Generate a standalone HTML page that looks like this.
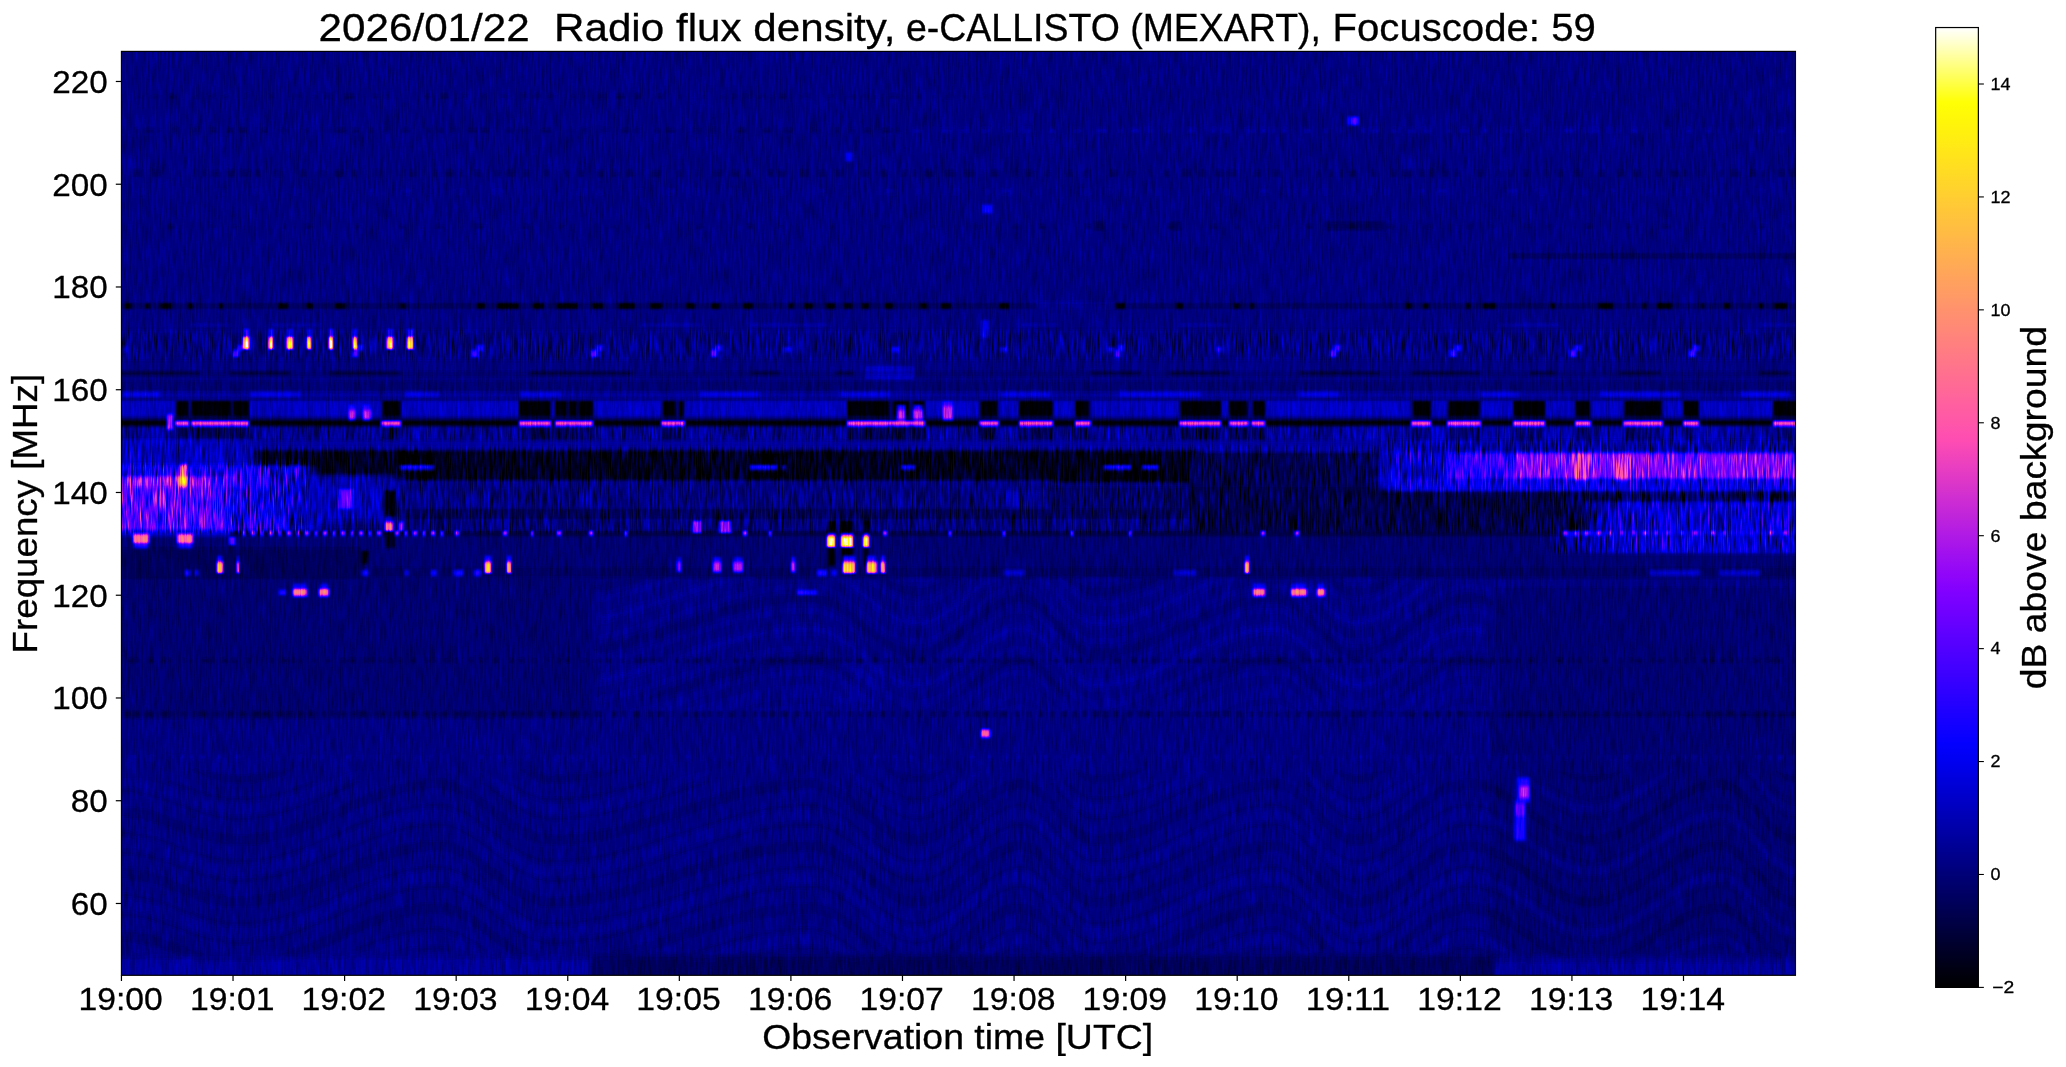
<!DOCTYPE html><html><head><meta charset="utf-8"><style>html,body{margin:0;padding:0;background:#fff;overflow:hidden}svg{display:block}text{font-family:"Liberation Sans",sans-serif;fill:#000;stroke:#000;stroke-width:0.3px;opacity:0.999}</style></head><body><svg width="2066" height="1067" viewBox="0 0 2066 1067"><rect width="2066" height="1067" fill="#fff"/><defs><clipPath id="pc"><rect x="121.4" y="51.4" width="1674.1" height="923.9"/></clipPath><filter id="sf" x="117" y="47" width="1683" height="933" filterUnits="userSpaceOnUse" color-interpolation-filters="sRGB"><feGaussianBlur in="SourceGraphic" stdDeviation="0.8 1.2" result="b"/><feTurbulence type="fractalNoise" baseFrequency="0.6 0.045" numOctaves="2" seed="4"/><feColorMatrix type="matrix" values="1 0 0 0 0 1 0 0 0 0 1 0 0 0 0 0 0 0 0 1" result="n"/><feComposite in="b" in2="n" operator="arithmetic" k1="1" k2="0" k3="0" k4="0"/><feColorMatrix type="matrix" values="0.3000 0.4200 0 0 0 0 0 0 0 0 0 0 0 0 0 0 0 0 0 1"/><feComposite in2="n" operator="arithmetic" k1="0" k2="1" k3="0.0420" k4="0" result="y"/><feColorMatrix in="b" type="matrix" values="-0.1500 -0.2100 0 0 0.9790 0 0 0 0 0 0 0 0 0 0 0 0 0 0 1" result="z"/><feComposite in="b" in2="y" operator="arithmetic" k1="0" k2="1" k3="1" k4="0"/><feComposite in2="z" operator="arithmetic" k1="0" k2="1" k3="1" k4="-1"/><feColorMatrix type="matrix" values="1.6667 0 0 0 0 1.6667 0 0 0 0 1.6667 0 0 0 0 0 0 0 0 1"/><feComponentTransfer><feFuncR type="table" tableValues="0 0 0 0 0 0 0 0 0 0 0 0 0 0 0 0 0 0 0 0 0 0 0 0 0 0 0.031 0.062 0.094 0.125 0.156 0.188 0.219 0.25 0.281 0.312 0.344 0.375 0.406 0.438 0.469 0.5 0.531 0.562 0.594 0.625 0.656 0.688 0.719 0.75 0.781 0.812 0.844 0.875 0.906 0.938 0.969 1 1 1 1 1 1 1 1 1 1 1 1 1 1 1 1 1 1 1 1 1 1 1 1 1 1 1 1 1 1 1 1 1 1 1 1 1 1 1 1 1 1 1 1"/><feFuncG type="table" tableValues="0 0 0 0 0 0 0 0 0 0 0 0 0 0 0 0 0 0 0 0 0 0 0 0 0 0 0 0 0 0 0 0 0 0 0 0 0 0 0 0 0 0 0 0.02 0.04 0.06 0.08 0.1 0.12 0.14 0.16 0.18 0.2 0.22 0.24 0.26 0.28 0.3 0.32 0.34 0.36 0.38 0.4 0.42 0.44 0.46 0.48 0.5 0.52 0.54 0.56 0.58 0.6 0.62 0.64 0.66 0.68 0.7 0.72 0.74 0.76 0.78 0.8 0.82 0.84 0.86 0.88 0.9 0.92 0.94 0.96 0.98 1 1 1 1 1 1 1 1 1"/><feFuncB type="table" tableValues="0 0.04 0.08 0.12 0.16 0.2 0.24 0.28 0.32 0.36 0.4 0.44 0.48 0.52 0.56 0.6 0.64 0.68 0.72 0.76 0.8 0.84 0.88 0.92 0.96 1 1 1 1 1 1 1 1 1 1 1 1 1 1 1 1 1 1 0.98 0.96 0.94 0.92 0.9 0.88 0.86 0.84 0.82 0.8 0.78 0.76 0.74 0.72 0.7 0.68 0.66 0.64 0.62 0.6 0.58 0.56 0.54 0.52 0.5 0.48 0.46 0.44 0.42 0.4 0.38 0.36 0.34 0.32 0.3 0.28 0.26 0.24 0.22 0.2 0.18 0.16 0.14 0.12 0.1 0.08 0.06 0.04 0.02 0 0.125 0.25 0.375 0.5 0.625 0.75 0.875 1"/><feFuncA type="linear" slope="0" intercept="1"/></feComponentTransfer></filter><linearGradient id="cb" x1="0" y1="1" x2="0" y2="0"><stop offset="0.000" stop-color="#000000"/><stop offset="0.020" stop-color="#000014"/><stop offset="0.039" stop-color="#000028"/><stop offset="0.059" stop-color="#00003c"/><stop offset="0.078" stop-color="#000050"/><stop offset="0.098" stop-color="#000064"/><stop offset="0.118" stop-color="#000078"/><stop offset="0.137" stop-color="#00008c"/><stop offset="0.157" stop-color="#0000a0"/><stop offset="0.176" stop-color="#0000b4"/><stop offset="0.196" stop-color="#0000c8"/><stop offset="0.216" stop-color="#0000dc"/><stop offset="0.235" stop-color="#0000f0"/><stop offset="0.255" stop-color="#0400ff"/><stop offset="0.275" stop-color="#1400ff"/><stop offset="0.294" stop-color="#2300ff"/><stop offset="0.314" stop-color="#3300ff"/><stop offset="0.333" stop-color="#4200ff"/><stop offset="0.353" stop-color="#5200ff"/><stop offset="0.373" stop-color="#6200ff"/><stop offset="0.392" stop-color="#7100ff"/><stop offset="0.412" stop-color="#8100ff"/><stop offset="0.431" stop-color="#9106f9"/><stop offset="0.451" stop-color="#a010ef"/><stop offset="0.471" stop-color="#b01ae5"/><stop offset="0.490" stop-color="#bf24db"/><stop offset="0.510" stop-color="#cf2ed1"/><stop offset="0.529" stop-color="#df38c7"/><stop offset="0.549" stop-color="#ee42bd"/><stop offset="0.569" stop-color="#fe4cb3"/><stop offset="0.588" stop-color="#ff56a9"/><stop offset="0.608" stop-color="#ff609f"/><stop offset="0.627" stop-color="#ff6a95"/><stop offset="0.647" stop-color="#ff748b"/><stop offset="0.667" stop-color="#ff7e81"/><stop offset="0.686" stop-color="#ff8877"/><stop offset="0.706" stop-color="#ff926d"/><stop offset="0.725" stop-color="#ff9c63"/><stop offset="0.745" stop-color="#ffa659"/><stop offset="0.765" stop-color="#ffb04f"/><stop offset="0.784" stop-color="#ffba45"/><stop offset="0.804" stop-color="#ffc43b"/><stop offset="0.824" stop-color="#ffce31"/><stop offset="0.843" stop-color="#ffd827"/><stop offset="0.863" stop-color="#ffe21d"/><stop offset="0.882" stop-color="#ffec13"/><stop offset="0.902" stop-color="#fff609"/><stop offset="0.922" stop-color="#ffff05"/><stop offset="0.941" stop-color="#ffff43"/><stop offset="0.961" stop-color="#ffff82"/><stop offset="0.980" stop-color="#ffffc0"/><stop offset="1.000" stop-color="#ffffff"/></linearGradient></defs><g clip-path="url(#pc)"><g filter="url(#sf)"><g transform="translate(117 47) scale(2 2)" shape-rendering="crispEdges" fill="none" stroke-width="1"><path stroke="#000000" d="M4 128.5h3m7 0h2m6 0h5m9 0h2m13 0h2m28 0h4m10 0h3m11 0h5m28 0h2m36 0h4m6 0h11m7 0h5m7 0h10m8 0h5m8 0h8m8 0h5m13 0h4m8 0h4m12 0h5m18 0h2m6 0h4m7 0h4m5 0h3m6 0h3m8 0h4m14 0h3m7 0h5m24 0h5m54 0h4m26 0h3m26 0h2m6 0h1m77 0h2m6 0h3m19 0h1m7 0h6m28 0h2m22 0h7m15 0h1m6 0h7m15 0h1m11 0h2m15 0h2m6 0h6M4 129.5h3m7 0h2m6 0h5m9 0h2m13 0h2m28 0h4m10 0h3m11 0h5m28 0h2m36 0h4m6 0h11m7 0h5m7 0h10m8 0h5m8 0h8m8 0h5m13 0h4m8 0h4m12 0h5m18 0h2m6 0h4m7 0h4m5 0h3m6 0h3m8 0h4m14 0h3m7 0h5m24 0h5m54 0h4m26 0h3m26 0h2m6 0h1m77 0h2m6 0h3m19 0h1m7 0h6m28 0h2m22 0h7m15 0h1m6 0h7m15 0h1m11 0h2m15 0h2m6 0h6M4 130.5h3m7 0h2m6 0h5m9 0h2m13 0h2m28 0h4m10 0h3m11 0h5m28 0h2m36 0h4m6 0h11m7 0h5m7 0h10m8 0h5m8 0h8m8 0h5m13 0h4m8 0h4m12 0h5m18 0h2m6 0h4m7 0h4m5 0h3m6 0h3m8 0h4m14 0h3m7 0h5m24 0h5m54 0h4m26 0h3m26 0h2m6 0h1m77 0h2m6 0h3m19 0h1m7 0h6m28 0h2m22 0h7m15 0h1m6 0h7m15 0h1m11 0h2m15 0h2m6 0h6M30 177.5h6m1 0h20m1 0h8m67 0h9m59 0h16m2 0h6m1 0h4m1 0h7m35 0h6m2 0h2m82 0h21m2 0h8m2 0h6m28 0h8m11 0h17m11 0h7m46 0h20m4 0h9m3 0h6m74 0h9m9 0h15m17 0h16m15 0h7m18 0h18m11 0h8m37 0h14M30 178.5h6m1 0h20m1 0h8m67 0h9m59 0h16m2 0h6m1 0h4m1 0h7m35 0h6m2 0h2m82 0h21m2 0h8m2 0h6m28 0h8m11 0h17m11 0h7m46 0h20m4 0h9m3 0h6m74 0h9m9 0h15m17 0h16m15 0h7m18 0h18m11 0h8m37 0h14M30 179.5h6m1 0h20m1 0h8m67 0h9m59 0h16m2 0h6m1 0h4m1 0h7m35 0h6m2 0h2m82 0h21m2 0h2m4 0h2m7 0h1m28 0h8m11 0h17m11 0h7m46 0h20m4 0h9m3 0h6m74 0h9m9 0h15m17 0h16m15 0h7m18 0h18m11 0h8m37 0h14M30 180.5h6m1 0h20m1 0h8m67 0h9m59 0h16m2 0h6m1 0h4m1 0h7m35 0h6m2 0h2m82 0h21m2 0h2m4 0h2m7 0h1m28 0h8m11 0h17m11 0h7m46 0h20m4 0h9m3 0h6m74 0h9m9 0h15m17 0h16m15 0h7m18 0h18m11 0h8m37 0h14M30 181.5h6m1 0h20m1 0h8m67 0h9m59 0h16m2 0h6m1 0h4m1 0h7m35 0h6m2 0h2m82 0h21m2 0h2m4 0h2m7 0h1m28 0h8m11 0h17m11 0h7m46 0h20m4 0h9m3 0h6m74 0h9m9 0h15m17 0h16m15 0h7m18 0h18m11 0h8m37 0h14M30 182.5h6m1 0h20m1 0h8m67 0h9m59 0h16m2 0h6m1 0h4m1 0h7m35 0h6m2 0h2m82 0h21m2 0h2m4 0h2m7 0h1m28 0h8m11 0h17m11 0h7m46 0h20m4 0h9m3 0h6m74 0h9m9 0h15m17 0h16m15 0h7m18 0h18m11 0h8m37 0h14M30 183.5h6m1 0h20m1 0h8m67 0h9m59 0h16m2 0h6m1 0h4m1 0h7m35 0h6m2 0h2m82 0h21m2 0h2m4 0h2m7 0h1m28 0h8m11 0h17m11 0h7m46 0h20m4 0h9m3 0h6m74 0h9m9 0h15m17 0h16m15 0h7m18 0h18m11 0h8m37 0h14M0 187.5h25m3 0h1m7 0h1m29 0h66m10 0h59m16 0h2m19 0h34m12 0h81m39 0h27m10 0h10m17 0h11m8 0h44m21 0h4m10 0h1m7 0h73m10 0h8m17 0h16m16 0h15m8 0h16m20 0h10m8 0h37M0 188.5h25m3 0h1m7 0h1m29 0h66m10 0h59m16 0h2m19 0h34m12 0h81m39 0h27m10 0h10m17 0h11m8 0h44m21 0h4m10 0h1m7 0h47M356 250.5h3m3 0h6m6 0h1M356 251.5h3m3 0h6m6 0h1M123 252.5h2m231 0h3m3 0h6m6 0h1M123 253.5h2m231 0h3m3 0h6m6 0h1M123 254.5h2m231 0h3m3 0h1m11 0h1M123 255.5h2m231 0h3m3 0h1m11 0h1M123 256.5h2m231 0h3m3 0h1m11 0h1M123 257.5h2m231 0h3m3 0h1m11 0h1M356 258.5h3m3 0h1m11 0h1"/><path stroke="#004000" d="M142 203.5h16m159 0h17m160 0h26M142 204.5h16m158 0h19m158 0h28M142 205.5h16m158 0h19m158 0h28M142 206.5h16m158 0h19m158 0h28M142 207.5h16m158 0h19m158 0h28M142 208.5h16m158 0h19m158 0h28M330 209.5h2m2 0h1m172 0h5M330 210.5h2m2 0h1m172 0h5M330 211.5h2m2 0h1m172 0h5M146 212.5h12m158 0h19m158 0h28M147 213.5h11m158 0h19m158 0h28M147 214.5h11m158 0h19m158 0h28M147 215.5h11m158 0h19m158 0h28M494 216.5h26M134 222.5h5M134 223.5h5M134 224.5h5M134 225.5h5M134 226.5h5M134 227.5h5M134 228.5h5M134 229.5h5M134 230.5h5M134 231.5h5M134 232.5h5M134 233.5h5M356 237.5h3m3 0h6m6 0h1M356 238.5h3m3 0h6m6 0h1M356 239.5h3m3 0h6m6 0h1M356 240.5h3m3 0h6m6 0h1M356 241.5h3m3 0h6m6 0h1M356 242.5h3m3 0h6m6 0h1"/><path stroke="#020000" d="M621 188.5h26m10 0h8m17 0h16m16 0h15m8 0h16m20 0h10m8 0h37"/><path stroke="#024000" d="M142 202.5h16M141 203.5h1m16 0h1m157 0h1m17 0h1m158 0h1m26 0h1M141 204.5h1m16 0h1M141 205.5h1m16 0h1M141 206.5h1m16 0h1M141 207.5h1m16 0h1M141 208.5h1m16 0h1M141 212.5h5m12 0h1M143 213.5h4m11 0h1M145 214.5h2m11 0h1M145 215.5h2m11 0h1M493 216.5h1m26 0h1"/><path stroke="#040000" d="M134 243.5h5M134 244.5h5M134 245.5h5M134 246.5h5M134 247.5h5M134 248.5h5M134 249.5h5"/><path stroke="#044000" d="M141 202.5h1m16 0h1M71 203.5h70m18 0h157m19 0h158m28 0h15M71 204.5h70m18 0h157m19 0h158m28 0h15M71 205.5h70m18 0h157m19 0h158m28 0h15M95 206.5h46m18 0h157m19 0h158m28 0h15M96 207.5h45m18 0h157m19 0h158m28 0h15M97 208.5h44m18 0h157m19 0h158m28 0h15M101 209.5h40m18 0h157m19 0h57m7 0h94m28 0h15M101 210.5h40m18 0h157m19 0h57m7 0h94m28 0h15M101 211.5h40m18 0h157m19 0h57m7 0h94m28 0h15M102 212.5h39m18 0h157m19 0h158m28 0h15M141 213.5h2m16 0h157m19 0h158m28 0h15M143 214.5h2m14 0h157m19 0h158m28 0h15M144 215.5h1m14 0h157m19 0h158m28 0h15M471 216.5h22m28 0h15M134 242.5h5m216 0h1m17 0h1m1 0h1"/><path stroke="#046000" d="M71 206.5h24M94 207.5h2"/><path stroke="#048000" d="M93 207.5h1"/><path stroke="#049f00" d="M92 207.5h1"/><path stroke="#04bf00" d="M71 207.5h21"/><path stroke="#060000" d="M30 184.5h6m1 0h20m1 0h8m67 0h9m59 0h16m2 0h6m1 0h4m1 0h7m35 0h6m2 0h2m82 0h21m2 0h2m4 0h2m7 0h1m28 0h8m11 0h17m11 0h7m46 0h20m4 0h9m3 0h6m74 0h9m9 0h15m17 0h16m15 0h7m18 0h18m11 0h8m37 0h14M122 252.5h1M122 253.5h1M122 254.5h1M122 255.5h1M122 256.5h1M122 257.5h1M123 258.5h1"/><path stroke="#064000" d="M71 202.5h70m18 0h377M96 208.5h1M100 209.5h1M101 212.5h1M140 213.5h1M142 214.5h1M143 215.5h1M469 216.5h2M134 234.5h5"/><path stroke="#066000" d="M95 208.5h1"/><path stroke="#068000" d="M93 208.5h2"/><path stroke="#069f00" d="M92 208.5h1"/><path stroke="#06bf00" d="M72 208.5h20"/><path stroke="#080000" d="M7 128.5h1m8 0h1m4 0h1m5 0h1m7 0h1m44 0h1m4 0h1m8 0h1m19 0h1m26 0h1m2 0h1m68 0h1m5 0h1m10 0h1m6 0h1m12 0h1m15 0h1m5 0h1m11 0h1m16 0h1m41 0h1m10 0h1m8 0h1m3 0h1m4 0h1m28 0h1m97 0h1m29 0h1m28 0h1m2 0h1m4 0h1m1 0h1m75 0h1m2 0h1m26 0h1m1 0h1m12 0h1m50 0h1m23 0h1m12 0h1m15 0h1m9 0h1m2 0h1m21 0h1M7 129.5h1m8 0h1m4 0h1m5 0h1m7 0h1m44 0h1m4 0h1m8 0h1m19 0h1m26 0h1m2 0h1m68 0h1m5 0h1m10 0h1m6 0h1m12 0h1m15 0h1m5 0h1m11 0h1m16 0h1m41 0h1m10 0h1m8 0h1m3 0h1m4 0h1m28 0h1m97 0h1m29 0h1m28 0h1m2 0h1m4 0h1m1 0h1m75 0h1m2 0h1m26 0h1m1 0h1m12 0h1m50 0h1m23 0h1m12 0h1m15 0h1m9 0h1m2 0h1m21 0h1M7 130.5h1m8 0h1m4 0h1m5 0h1m7 0h1m44 0h1m4 0h1m8 0h1m19 0h1m26 0h1m2 0h1m68 0h1m5 0h1m10 0h1m6 0h1m12 0h1m15 0h1m5 0h1m11 0h1m16 0h1m41 0h1m10 0h1m8 0h1m3 0h1m4 0h1m28 0h1m97 0h1m29 0h1m28 0h1m2 0h1m4 0h1m1 0h1m75 0h1m2 0h1m26 0h1m1 0h1m12 0h1m50 0h1m23 0h1m12 0h1m15 0h1m9 0h1m2 0h1m21 0h1M355 250.5h1m17 0h1m1 0h1M355 251.5h1m17 0h1m1 0h1M125 252.5h1m229 0h1m17 0h1m1 0h1M125 253.5h1m229 0h1m17 0h1m1 0h1M125 254.5h1m229 0h1m17 0h1M125 255.5h1m229 0h1m17 0h1M125 256.5h1m229 0h1m17 0h1M125 257.5h1m229 0h1m17 0h1M124 258.5h1m230 0h1m17 0h1M356 259.5h3m3 0h1m11 0h1"/><path stroke="#084000" d="M536 202.5h1M70 203.5h1M70 204.5h1M70 205.5h1M99 209.5h1M100 210.5h1M100 211.5h1M100 212.5h1M136 213.5h4M141 214.5h1M142 215.5h1M468 216.5h1"/><path stroke="#086000" d="M70 206.5h1"/><path stroke="#08bf00" d="M70 207.5h1M71 208.5h1"/><path stroke="#0a0000" d="M527 89.5h1m88 0h3M527 90.5h1m88 0h3M0 162.5h41m16 0h29m21 0h34m66 0h50m61 0h13m28 0h9m119 0h24m16 0h29m36 0h39m17 0h33m26 0h12m33 0h19m51 0h14M0 163.5h41m16 0h29m21 0h34m66 0h50m61 0h13m28 0h9m119 0h24m16 0h29m36 0h39m17 0h33m26 0h12m33 0h19m51 0h14M0 186.5h25m3 0h88m3 0h4m4 0h263m4 0h4m5 0h10m5 0h424M96 243.5h3m1 0h3m2 0h3m1 0h3m2 0h3m1 0h3m2 0h3m1 0h3m2 0h2m7 0h3m1 0h3m2 0h3m1 0h3m2 0h3m1 0h6m2 0h22m2 0h12m1 0h12m2 0h14m2 0h16m1 0h58m2 0h11m1 0h28m4 0h3m6 0h5m3 0h7m2 0h31m1 0h26m1 0h33m1 0h28m1 0h65m2 0h15m2 0h122M122 258.5h1M6 306.5h1m218 0h1m105 0h2m13 0h1m233 0h3M6 307.5h1m218 0h1m100 0h2m3 0h2m13 0h1m233 0h3m84 0h1M9 332.5h2m4 0h2m6 0h2m13 0h1m3 0h2m6 0h1m5 0h1m6 0h1m5 0h2m2 0h3m20 0h2m9 0h1m14 0h2m19 0h2m43 0h1m3 0h2m34 0h2m4 0h1m466 0h1m25 0h1m6 0h1m20 0h1m36 0h1m12 0h3M9 333.5h2m4 0h2m6 0h2m13 0h1m3 0h2m6 0h1m5 0h1m6 0h1m5 0h2m2 0h3m15 0h1m4 0h2m9 0h1m5 0h1m8 0h2m8 0h2m9 0h2m24 0h2m17 0h1m3 0h2m8 0h2m24 0h2m4 0h1m466 0h1m25 0h1m6 0h1m20 0h1m36 0h1m12 0h3m15 0h2M9 334.5h2m4 0h2m6 0h2m13 0h1m3 0h2m6 0h1m5 0h1m6 0h1m5 0h2m2 0h3m20 0h2m9 0h1m14 0h2m64 0h1m3 0h2m34 0h2m4 0h1m466 0h1m25 0h1m6 0h1m20 0h1m36 0h1m12 0h3m15 0h2"/><path stroke="#0a2000" d="M0 189.5h25m3 0h1m7 0h1m29 0h66m10 0h59m16 0h2m19 0h34m12 0h81m39 0h27m10 0h10m17 0h11m8 0h44m21 0h4m10 0h1m7 0h29M93 243.5h1m619 0h3"/><path stroke="#0a4000" d="M70 202.5h1m466 0h1M536 203.5h2M98 209.5h1M99 210.5h1M99 211.5h1m232 0h1m179 0h1M133 213.5h3M140 214.5h1M141 215.5h1M146 216.5h13m157 0h19m54 0h48m30 0h1M471 217.5h65M536 220.5h91M536 221.5h91M536 222.5h93M536 223.5h187M536 224.5h187M536 225.5h187M536 226.5h183M536 227.5h178M536 228.5h178M536 229.5h178M536 230.5h178M536 231.5h178M536 232.5h178M536 233.5h178M536 234.5h178M536 235.5h178M536 236.5h178M355 237.5h1m17 0h1m1 0h1m160 0h178M355 238.5h1m17 0h1m1 0h1m160 0h178M355 239.5h1m17 0h1m1 0h1m160 0h178M355 240.5h1m17 0h1m1 0h1m160 0h178M355 241.5h1m17 0h1m1 0h1m160 0h178M96 242.5h3m1 0h3m2 0h3m1 0h3m2 0h3m1 0h3m2 0h3m1 0h3m2 0h2m7 0h3m1 0h3m2 0h3m1 0h3m2 0h3m1 0h6m2 0h22m2 0h12m1 0h12m2 0h14m2 0h16m1 0h33m4 0h9m6 0h6m2 0h11m1 0h28m4 0h3m6 0h5m3 0h7m2 0h31m1 0h26m1 0h33m1 0h28m1 0h65m2 0h15m2 0h124M57 243.5h6m1 0h3m2 0h3m1 0h3m2 0h3m1 0h3m2 0h3m1 0h2m623 0h2"/><path stroke="#0a6000" d="M719 226.5h4M714 227.5h7M714 228.5h4M714 229.5h4M714 230.5h4M714 231.5h4M714 232.5h4M714 233.5h4M714 234.5h4M714 235.5h4M714 236.5h4M714 237.5h4M714 238.5h4M714 239.5h4M714 240.5h4M714 241.5h4M715 242.5h4M718 243.5h3"/><path stroke="#0a8000" d="M723 223.5h23M723 224.5h23M723 225.5h23M723 226.5h13M721 227.5h8M718 228.5h11M718 229.5h11M718 230.5h11M718 231.5h11M718 232.5h11M718 233.5h11M718 234.5h11M718 235.5h11M718 236.5h11M718 237.5h11M718 238.5h11M718 239.5h11M718 240.5h11M718 241.5h11M93 242.5h1m625 0h4M721 243.5h2"/><path stroke="#0a9f00" d="M92 242.5h1"/><path stroke="#0abf00" d="M57 242.5h6m1 0h3m2 0h3m1 0h3m2 0h3m1 0h3m2 0h3m1 0h1"/><path stroke="#0b0000" d="M616 88.5h3M615 89.5h1m3 0h1M615 90.5h1m3 0h1M30 185.5h6m1 0h20m1 0h8m67 0h9m59 0h16m2 0h6m1 0h4m1 0h7m35 0h6m2 0h2m82 0h21m2 0h2m4 0h2m7 0h1m28 0h8m11 0h17m11 0h7m46 0h20m4 0h9m3 0h6m74 0h9m9 0h15m17 0h16m15 0h7m18 0h18m11 0h8m37 0h14M134 250.5h5M125 258.5h1M355 259.5h1m17 0h1M10 306.5h1m5 0h2m5 0h1m2 0h1m16 0h3m2 0h1m4 0h2m22 0h1m5 0h2m13 0h1m6 0h2m10 0h2m9 0h1m12 0h1m5 0h2m6 0h1m20 0h1m20 0h1m3 0h2m123 0h2m10 0h2m10 0h1m100 0h3m2 0h1m117 0h1m20 0h1m10 0h1m46 0h1m12 0h2m8 0h2m3 0h1m6 0h1m3 0h1m2 0h2m9 0h2m12 0h2m21 0h2m14 0h3m9 0h2m7 0h1m11 0h3m2 0h2m3 0h2m3 0h1m3 0h1m7 0h2m5 0h1m3 0h2M10 307.5h1m5 0h2m5 0h1m2 0h1m16 0h3m2 0h1m4 0h2m22 0h1m5 0h2m13 0h1m6 0h2m10 0h2m9 0h1m12 0h1m5 0h2m6 0h1m20 0h1m20 0h1m3 0h2m135 0h2m10 0h1m4 0h1m95 0h3m2 0h1m110 0h2m37 0h1m59 0h1m14 0h1m1 0h2m3 0h1m3 0h1m2 0h2m9 0h2m12 0h2m21 0h2m14 0h3m9 0h2m7 0h1m11 0h3m2 0h2m3 0h2m3 0h1m3 0h1m7 0h2m5 0h1m3 0h2M4 332.5h3m20 0h1m53 0h2m8 0h1m18 0h1m2 0h1m15 0h1m2 0h2m5 0h1m7 0h3m8 0h1m4 0h2m4 0h2m3 0h2m22 0h2m2 0h2m2 0h1m4 0h1m5 0h2m2 0h2m25 0h1m64 0h1m68 0h2m29 0h1m20 0h2m37 0h1m9 0h1m27 0h1m90 0h1m25 0h1m42 0h2m31 0h2m10 0h2m26 0h2m3 0h2m9 0h2m4 0h1m6 0h1m21 0h2m3 0h2m18 0h1m2 0h2m2 0h1m9 0h2M4 333.5h3m20 0h1m4 0h2m47 0h2m2 0h2m16 0h1m6 0h1m7 0h2m9 0h1m9 0h1m7 0h3m4 0h2m2 0h1m4 0h2m9 0h2m22 0h2m6 0h1m4 0h1m5 0h2m2 0h2m25 0h2m9 0h2m52 0h1m42 0h1m25 0h2m29 0h1m5 0h1m13 0h3m6 0h2m18 0h1m10 0h1m9 0h1m27 0h1m2 0h3m4 0h1m27 0h1m40 0h1m11 0h1m25 0h1m42 0h2m22 0h2m7 0h2m5 0h2m3 0h2m5 0h2m13 0h2m4 0h2m3 0h2m9 0h2m4 0h1m6 0h1m11 0h2m8 0h2m3 0h2m11 0h2m5 0h1m6 0h1m3 0h2m4 0h2M4 334.5h3m20 0h1m53 0h2m8 0h1m18 0h1m2 0h1m15 0h1m2 0h2m5 0h1m3 0h2m2 0h3m8 0h1m4 0h2m4 0h2m3 0h2m22 0h2m2 0h2m2 0h1m4 0h1m5 0h2m2 0h2m25 0h2m9 0h2m45 0h3m4 0h1m31 0h1m10 0h1m25 0h2m29 0h1m5 0h1m13 0h3m6 0h2m18 0h1m10 0h1m9 0h1m27 0h1m2 0h3m4 0h1m27 0h1m40 0h1m11 0h1m18 0h2m5 0h1m42 0h2m22 0h2m7 0h2m5 0h2m3 0h2m5 0h2m13 0h2m4 0h2m3 0h2m9 0h2m4 0h1m6 0h1m11 0h2m8 0h2m3 0h2m11 0h2m5 0h1m6 0h1m3 0h2m4 0h2M686 457.5h1M686 458.5h1M686 459.5h1M686 460.5h1M686 461.5h1M686 462.5h1M686 463.5h1M686 464.5h1M686 465.5h1M686 466.5h1"/><path stroke="#0b2000" d="M603 189.5h14"/><path stroke="#0b4000" d="M538 202.5h2M538 203.5h87M536 204.5h89M536 205.5h89M536 206.5h89M536 207.5h89M536 208.5h89M536 209.5h89M536 210.5h89M141 211.5h1m16 0h1m157 0h1m176 0h1m26 0h1m15 0h89M99 212.5h1m436 0h89M101 213.5h32m403 0h89M138 214.5h2m396 0h89M140 215.5h1m395 0h89M144 216.5h2m13 0h157m19 0h54m48 0h30m69 0h90M470 217.5h1m65 0h91M536 218.5h92M536 219.5h92M627 220.5h1M627 221.5h1M629 222.5h2"/><path stroke="#0b6000" d="M628 221.5h1M631 222.5h2"/><path stroke="#0b8000" d="M746 223.5h96M746 224.5h96M746 225.5h96M736 226.5h11M729 227.5h3M729 228.5h2M729 229.5h2M729 230.5h2M729 231.5h2M729 232.5h2M729 233.5h2M729 234.5h2M729 235.5h2M729 236.5h2M729 237.5h2M729 238.5h2M729 239.5h2M729 240.5h2M729 241.5h2"/><path stroke="#0bbf00" d="M70 208.5h1"/><path stroke="#0d0000" d="M43 62.5h1m12 0h2m51 0h4m5 0h1m95 0h1m16 0h2m7 0h3m88 0h3m48 0h3m19 0h4m116 0h2m90 0h3m24 0h4m17 0h1m105 0h1m6 0h4M43 63.5h1m12 0h2m51 0h4m5 0h1m95 0h1m16 0h2m7 0h3m88 0h3m48 0h3m19 0h4m116 0h2m90 0h3m24 0h4m17 0h1m105 0h1m6 0h4M43 64.5h1m12 0h2m51 0h4m5 0h1m95 0h1m16 0h2m7 0h3m88 0h3m48 0h3m19 0h4m116 0h2m90 0h3m24 0h4m17 0h1m105 0h1m6 0h4M489 88.5h4m34 0h4m74 0h11m3 0h14M489 89.5h4m35 0h3m74 0h10m5 0h13M489 90.5h4m35 0h3m74 0h10m5 0h13M41 162.5h1m14 0h1m29 0h1m19 0h1m34 0h1m64 0h1m50 0h1m59 0h1m13 0h1m154 0h1m24 0h1m14 0h1m29 0h1m34 0h1m39 0h1m15 0h1m33 0h1m24 0h1m44 0h1m19 0h1m49 0h1m14 0h1M41 163.5h1m14 0h1m29 0h1m19 0h1m34 0h1m64 0h1m50 0h1m59 0h1m13 0h1m154 0h1m24 0h1m14 0h1m29 0h1m34 0h1m39 0h1m15 0h1m33 0h1m24 0h1m44 0h1m19 0h1m49 0h1m14 0h1M57 244.5h6m1 0h3m2 0h3m1 0h3m2 0h3m1 0h3m2 0h3m1 0h3m2 0h3m1 0h3m2 0h3m1 0h3m2 0h3m1 0h3m2 0h3m1 0h3m2 0h2m7 0h3m1 0h3m2 0h3m1 0h3m2 0h3m1 0h6m2 0h22m2 0h12m1 0h12m2 0h14m2 0h16m1 0h58m2 0h11m1 0h28m4 0h3m6 0h5m3 0h7m2 0h31m1 0h26m1 0h33m1 0h28m1 0h65m2 0h15m2 0h123M0 251.5h122M0 252.5h122M0 253.5h122M0 254.5h50m3 0h7m1 0h61M0 255.5h50m3 0h7m1 0h61M0 256.5h50m3 0h7m1 0h61M0 257.5h50m3 0h7m1 0h61M0 258.5h50m3 0h7m1 0h61M0 259.5h50m3 0h7m1 0h62M0 260.5h50m3 0h7m1 0h63M0 261.5h34m3 0h2m2 0h9m3 0h7m1 0h61M0 262.5h34m3 0h2m2 0h9m3 0h7m1 0h61M0 263.5h34m3 0h2m2 0h81M0 264.5h34m3 0h2m2 0h81M0 265.5h123M6 305.5h1m218 0h1m120 0h1m233 0h3m109 0h1M7 306.5h1m1 0h1m23 0h1m13 0h1m4 0h1m4 0h2m6 0h1m6 0h1m14 0h2m23 0h2m2 0h1m2 0h1m3 0h3m1 0h1m3 0h2m3 0h1m3 0h1m1 0h1m11 0h1m3 0h2m4 0h1m4 0h1m11 0h2m6 0h2m5 0h1m6 0h1m4 0h1m6 0h1m4 0h1m3 0h1m1 0h1m5 0h2m7 0h1m3 0h2m12 0h1m2 0h2m3 0h1m20 0h3m4 0h1m13 0h2m6 0h2m4 0h2m3 0h1m4 0h1m3 0h1m7 0h1m1 0h1m1 0h1m5 0h1m8 0h2m5 0h2m5 0h2m15 0h3m4 0h2m11 0h2m3 0h2m11 0h1m5 0h1m5 0h2m8 0h1m18 0h1m3 0h1m6 0h1m13 0h2m6 0h3m9 0h1m4 0h1m14 0h2m11 0h3m12 0h3m41 0h1m5 0h1m2 0h2m4 0h1m6 0h2m6 0h2m11 0h1m13 0h1m3 0h2m6 0h1m2 0h2m2 0h1m3 0h1m1 0h1m6 0h1m7 0h1m4 0h1m5 0h1m2 0h1m3 0h2m2 0h2m4 0h2m7 0h1m5 0h1m4 0h2m10 0h1m4 0h1m5 0h1m4 0h1m40 0h1m1 0h1m1 0h1m2 0h1m6 0h3M7 307.5h1m1 0h1m23 0h1m13 0h1m4 0h1m4 0h2m6 0h1m6 0h1m14 0h2m23 0h2m2 0h1m2 0h1m3 0h3m1 0h1m3 0h2m3 0h1m3 0h1m1 0h1m11 0h1m3 0h2m4 0h1m4 0h1m11 0h2m6 0h2m5 0h1m6 0h1m4 0h1m6 0h1m4 0h1m3 0h1m1 0h1m5 0h2m7 0h1m3 0h2m5 0h1m6 0h1m2 0h1m25 0h3m18 0h2m6 0h2m4 0h2m3 0h1m4 0h1m3 0h1m7 0h1m1 0h1m1 0h1m15 0h1m5 0h2m42 0h2m10 0h1m5 0h1m4 0h2m5 0h2m8 0h1m13 0h1m4 0h1m3 0h1m6 0h1m13 0h2m6 0h3m9 0h1m12 0h1m2 0h2m2 0h2m11 0h3m4 0h1m6 0h1m2 0h1m4 0h1m12 0h1m7 0h1m15 0h1m8 0h2m11 0h2m6 0h1m11 0h2m13 0h1m3 0h2m2 0h2m2 0h1m6 0h1m3 0h1m1 0h1m6 0h1m7 0h1m4 0h1m5 0h1m2 0h1m3 0h2m2 0h2m4 0h2m7 0h1m5 0h1m4 0h2m10 0h1m4 0h1m5 0h1m4 0h1m40 0h1m1 0h1m1 0h1m2 0h1m6 0h3M8 332.5h1m8 0h1m4 0h1m2 0h1m6 0h2m7 0h1m2 0h1m4 0h1m7 0h1m4 0h1m5 0h1m2 0h1m8 0h1m4 0h2m5 0h1m10 0h1m8 0h1m5 0h2m1 0h1m2 0h1m20 0h1m8 0h2m6 0h1m8 0h1m1 0h1m7 0h2m2 0h1m5 0h1m5 0h1m3 0h1m3 0h1m1 0h1m2 0h1m1 0h1m6 0h1m3 0h1m3 0h1m12 0h2m7 0h1m9 0h2m10 0h2m11 0h1m4 0h1m5 0h2m4 0h1m4 0h3m13 0h2m2 0h3m3 0h3m4 0h2m4 0h1m10 0h1m9 0h1m9 0h1m17 0h2m11 0h2m10 0h1m5 0h1m3 0h2m2 0h1m8 0h2m18 0h1m15 0h1m9 0h3m8 0h1m5 0h2m7 0h3m4 0h1m27 0h1m3 0h3m4 0h2m28 0h1m4 0h2m8 0h1m3 0h2m6 0h2m2 0h2m8 0h1m27 0h2m4 0h2m23 0h1m4 0h2m3 0h1m2 0h1m2 0h1m4 0h2m10 0h2m3 0h1m4 0h1m4 0h2m14 0h1m10 0h1m1 0h1m4 0h1m1 0h1m3 0h2m5 0h2m7 0h1m4 0h1m2 0h1m10 0h2m10 0h1m5 0h2m3 0h1M8 333.5h1m8 0h1m4 0h1m2 0h1m15 0h1m2 0h1m4 0h1m7 0h1m4 0h1m5 0h1m2 0h1m8 0h1m3 0h1m2 0h1m4 0h1m19 0h1m4 0h1m3 0h1m2 0h1m5 0h1m9 0h1m4 0h1m7 0h1m8 0h1m8 0h1m1 0h1m7 0h2m2 0h1m5 0h1m5 0h1m3 0h1m3 0h1m1 0h1m2 0h1m1 0h1m6 0h1m3 0h1m3 0h1m12 0h2m29 0h2m11 0h1m4 0h1m2 0h1m2 0h2m4 0h1m4 0h3m13 0h2m2 0h3m3 0h3m4 0h2m4 0h1m20 0h1m4 0h1m4 0h1m17 0h2m11 0h2m16 0h1m3 0h2m7 0h1m39 0h1m9 0h3m8 0h1m5 0h2m26 0h3m17 0h3m4 0h2m33 0h2m8 0h1m3 0h2m6 0h2m2 0h2m8 0h1m14 0h3m4 0h3m3 0h2m4 0h2m23 0h1m3 0h1m5 0h1m2 0h1m2 0h1m21 0h1m4 0h1m6 0h1m13 0h1m10 0h1m1 0h1m4 0h1m1 0h1m3 0h2m7 0h1m6 0h1m4 0h1m2 0h1m9 0h1m2 0h1m3 0h1m5 0h1m2 0h1m7 0h1M8 334.5h1m8 0h1m4 0h1m2 0h1m6 0h2m7 0h1m2 0h1m4 0h1m7 0h1m4 0h1m5 0h1m2 0h1m8 0h1m4 0h2m5 0h1m10 0h1m8 0h1m5 0h2m1 0h1m2 0h1m20 0h1m8 0h2m6 0h1m8 0h1m1 0h1m7 0h2m2 0h1m5 0h1m5 0h1m3 0h1m3 0h1m1 0h1m2 0h1m1 0h1m6 0h1m3 0h1m3 0h1m12 0h2m24 0h1m4 0h2m11 0h1m4 0h1m2 0h1m2 0h2m4 0h1m20 0h2m2 0h3m3 0h3m4 0h2m25 0h1m4 0h1m4 0h1m17 0h2m11 0h2m16 0h1m3 0h2m7 0h1m39 0h1m9 0h3m2 0h3m3 0h1m5 0h2m26 0h3m4 0h2m11 0h3m4 0h2m33 0h2m8 0h1m3 0h2m6 0h2m12 0h1m14 0h3m4 0h3m3 0h2m4 0h2m9 0h1m13 0h1m3 0h1m5 0h1m2 0h1m2 0h1m21 0h1m4 0h1m6 0h1m13 0h1m10 0h1m1 0h1m4 0h1m1 0h1m3 0h2m7 0h1m6 0h1m4 0h1m2 0h1m9 0h1m2 0h1m3 0h1m5 0h1m2 0h1m7 0h1M239 456.5h46m15 0h66m6 0h55m6 0h32m5 0h66m11 0h46m5 0h51m6 0h32M239 457.5h447m1 0h1M239 458.5h447m1 0h1M239 459.5h447m1 0h1M239 460.5h447m1 0h1M239 461.5h447m1 0h1M239 462.5h447m1 0h1M239 463.5h447m1 0h1M239 464.5h447m1 0h1M239 465.5h447m1 0h1M239 466.5h447m1 0h1"/><path stroke="#0d2000" d="M617 189.5h14M714 244.5h2"/><path stroke="#0d4000" d="M30 190.5h6m1 0h20m1 0h8m67 0h9m59 0h16m2 0h6m1 0h4m1 0h7m35 0h6m2 0h2m82 0h21m2 0h8m2 0h6m28 0h8m11 0h17m11 0h7m46 0h20m4 0h9m3 0h6M30 191.5h6m1 0h20m1 0h8m67 0h9m59 0h16m2 0h6m1 0h4m1 0h7m35 0h6m2 0h2m82 0h21m2 0h8m2 0h6m28 0h8m11 0h17m11 0h7m46 0h20m4 0h9m3 0h6M30 192.5h6m1 0h20m1 0h8m67 0h9m59 0h16m2 0h6m1 0h4m1 0h7m35 0h6m2 0h2m82 0h21m2 0h8m2 0h6m28 0h8m11 0h17m11 0h7m46 0h20m4 0h9m3 0h6M30 193.5h6m1 0h20m1 0h8m67 0h9m59 0h16m2 0h6m1 0h4m1 0h7m35 0h6m2 0h2m82 0h21m2 0h8m2 0h6m28 0h8m11 0h17m11 0h7m46 0h20m4 0h9m3 0h6M30 194.5h6m1 0h20m1 0h8m67 0h9m59 0h16m2 0h6m1 0h4m1 0h7m35 0h6m2 0h2m82 0h21m2 0h8m2 0h6m28 0h8m11 0h17m11 0h7m46 0h20m4 0h9m3 0h6M133 195.5h9m59 0h16m2 0h6m1 0h4m1 0h7m35 0h6m2 0h2m82 0h21m2 0h8m2 0h6m28 0h8m11 0h17m11 0h7m46 0h20m4 0h9m3 0h6M69 202.5h1m470 0h1M69 203.5h1m555 0h1M69 204.5h1m555 0h2M69 205.5h1m555 0h2M625 206.5h2M625 207.5h2M625 208.5h2M97 209.5h1m527 0h2M98 210.5h1m526 0h2M98 211.5h1m526 0h2M625 212.5h2M100 213.5h1m524 0h2M136 214.5h2m487 0h2M139 215.5h1m485 0h2M142 216.5h2m482 0h1M469 217.5h1m157 0h1M139 231.5h1m5 0h391M139 232.5h1m5 0h391M139 233.5h1m5 0h391M145 234.5h391M146 235.5h390M716 244.5h3"/><path stroke="#0d6000" d="M69 206.5h1M628 217.5h1M628 218.5h1M628 219.5h1M628 220.5h1M629 221.5h1M633 222.5h3M719 244.5h2"/><path stroke="#0d8000" d="M747 226.5h95M732 227.5h3M731 228.5h2M731 229.5h2M731 230.5h2M731 231.5h2M731 232.5h2M731 233.5h2M731 234.5h2M731 235.5h2M731 236.5h2M731 237.5h2M731 238.5h2M731 239.5h2M731 240.5h2M731 241.5h2M721 244.5h2"/><path stroke="#0dbf00" d="M69 207.5h1"/><path stroke="#0f0000" d="M26 24.5h3m85 0h5m9 0h2m25 0h1m6 0h4m83 0h5m5 0h3m8 0h3m35 0h1m22 0h3m52 0h5m10 0h1M26 25.5h3m85 0h5m9 0h2m25 0h1m6 0h4m83 0h5m5 0h3m8 0h3m35 0h1m22 0h3m52 0h5m10 0h1M14 41.5h4m2 0h1m26 0h3m5 0h3m3 0h4m8 0h2m20 0h1m14 0h4m4 0h3m6 0h1m15 0h3m9 0h2m4 0h2m13 0h4m2 0h4m9 0h2m16 0h4m36 0h3m14 0h1m4 0h4m31 0h4m10 0h3m7 0h4m21 0h2m13 0h2m7 0h4m3 0h1M14 42.5h4m2 0h1m26 0h3m5 0h3m3 0h4m8 0h2m20 0h1m14 0h4m4 0h3m6 0h1m15 0h3m9 0h2m4 0h2m13 0h4m2 0h4m9 0h2m16 0h4m36 0h3m14 0h1m4 0h4m31 0h4m10 0h3m7 0h4m21 0h2m13 0h2m7 0h4m3 0h1M8 62.5h4m6 0h3m10 0h1m16 0h3m11 0h4m3 0h3m20 0h3m51 0h3m9 0h2m4 0h4m3 0h2m6 0h3m8 0h1m4 0h4m4 0h3m18 0h1m22 0h3m5 0h3m10 0h3m10 0h1m7 0h1m9 0h3m5 0h4m3 0h3m8 0h3m13 0h5m5 0h4m5 0h3m10 0h2m18 0h2m3 0h1m16 0h4m5 0h4m9 0h4m13 0h4m7 0h1m10 0h2m18 0h4m16 0h1m15 0h5m5 0h2m5 0h4m3 0h4m9 0h3m6 0h3m20 0h1m4 0h2m4 0h1m14 0h2m8 0h3m11 0h3m2 0h2m10 0h3m9 0h3m13 0h1m6 0h3m8 0h1m5 0h3m6 0h3m9 0h3m6 0h3m5 0h3m22 0h2m17 0h1m4 0h4m5 0h4m3 0h1m6 0h4m2 0h6M8 63.5h4m6 0h3m10 0h1m16 0h3m11 0h4m3 0h3m20 0h3m51 0h3m9 0h2m4 0h4m3 0h2m6 0h3m8 0h1m4 0h4m4 0h3m18 0h1m22 0h3m5 0h3m10 0h3m10 0h1m7 0h1m9 0h3m5 0h4m3 0h3m8 0h3m13 0h5m5 0h4m5 0h3m10 0h2m18 0h2m3 0h1m16 0h4m5 0h4m9 0h4m13 0h4m7 0h1m10 0h2m18 0h4m16 0h1m15 0h5m5 0h2m5 0h4m3 0h4m9 0h3m6 0h3m20 0h1m4 0h2m4 0h1m14 0h2m8 0h3m11 0h3m2 0h2m10 0h3m9 0h3m13 0h1m6 0h3m8 0h1m5 0h3m6 0h3m9 0h3m6 0h3m5 0h3m22 0h2m17 0h1m4 0h4m5 0h4m3 0h1m6 0h4m2 0h6M8 64.5h4m6 0h3m10 0h1m16 0h3m11 0h4m3 0h3m20 0h3m51 0h3m9 0h2m4 0h4m3 0h2m6 0h3m8 0h1m4 0h4m4 0h3m18 0h1m22 0h3m5 0h3m10 0h3m10 0h1m7 0h1m9 0h3m5 0h4m3 0h3m8 0h3m13 0h5m5 0h4m5 0h3m10 0h2m18 0h2m3 0h1m16 0h4m5 0h4m9 0h4m13 0h4m7 0h1m10 0h2m18 0h4m16 0h1m15 0h5m5 0h2m5 0h4m3 0h4m9 0h3m6 0h3m20 0h1m4 0h2m4 0h1m14 0h2m8 0h3m11 0h3m2 0h2m10 0h3m9 0h3m13 0h1m6 0h3m8 0h1m5 0h3m6 0h3m9 0h3m6 0h3m5 0h3m22 0h2m17 0h1m4 0h4m5 0h4m3 0h1m6 0h4m2 0h6M489 87.5h4m34 0h5m73 0h28M531 88.5h1M26 89.5h2m30 0h1m24 0h1m10 0h3m45 0h1m17 0h2m17 0h4m20 0h3m59 0h1m25 0h2m22 0h3m131 0h1m11 0h3m20 0h3m16 0h1m21 0h2m4 0h1m16 0h2m9 0h1m35 0h3m37 0h2m97 0h4m17 0h1m17 0h3m46 0h1M26 90.5h2m30 0h1m24 0h1m10 0h3m45 0h1m17 0h2m17 0h4m20 0h3m59 0h1m25 0h2m22 0h3m131 0h1m11 0h3m20 0h3m16 0h1m21 0h2m4 0h1m16 0h2m9 0h1m35 0h3m37 0h2m97 0h4m17 0h1m17 0h3m46 0h1M489 91.5h4m34 0h5m73 0h28M696 103.5h146M696 104.5h146M696 105.5h146M0 128.5h4m4 0h6m3 0h4m7 0h7m3 0h13m2 0h27m6 0h8m4 0h11m6 0h26m4 0h35m4 0h6m11 0h7m6 0h5m12 0h6m6 0h7m9 0h7m7 0h11m5 0h8m5 0h11m5 0h18m2 0h5m5 0h6m5 0h4m5 0h4m4 0h8m4 0h13m4 0h7m5 0h24m5 0h14m44 0h25m4 0h25m4 0h4m3 0h75m4 0h5m3 0h18m3 0h6m7 0h27m2 0h21m8 0h15m2 0h5m8 0h14m2 0h9m4 0h14m2 0h5m7 0h7M0 129.5h4m4 0h6m3 0h4m7 0h7m3 0h13m2 0h27m6 0h8m4 0h11m6 0h26m4 0h35m4 0h6m11 0h7m6 0h5m12 0h6m6 0h7m9 0h7m7 0h11m5 0h8m5 0h11m5 0h18m2 0h5m5 0h6m5 0h4m5 0h4m4 0h8m4 0h13m4 0h7m5 0h24m5 0h14m44 0h25m4 0h25m4 0h4m3 0h75m4 0h5m3 0h18m3 0h6m7 0h27m2 0h21m8 0h15m2 0h5m8 0h14m2 0h9m4 0h14m2 0h5m7 0h7M0 130.5h4m4 0h6m3 0h4m7 0h7m3 0h13m2 0h27m6 0h8m4 0h11m6 0h26m4 0h35m4 0h6m11 0h7m6 0h5m12 0h6m6 0h7m9 0h7m7 0h11m5 0h8m5 0h11m5 0h18m2 0h5m5 0h6m5 0h4m5 0h4m4 0h8m4 0h13m4 0h7m5 0h24m5 0h14m44 0h25m4 0h25m4 0h4m3 0h75m4 0h5m3 0h18m3 0h6m7 0h27m2 0h21m8 0h15m2 0h5m8 0h14m2 0h9m4 0h14m2 0h5m7 0h7M0 164.5h41m16 0h29m21 0h34m66 0h50m61 0h13m28 0h9m119 0h24m16 0h29m36 0h39m17 0h33m26 0h12m33 0h19m51 0h14M29 177.5h1m27 0h1m74 0h1m92 0h1m4 0h1m41 0h1m6 0h2m2 0h1m102 0h2m8 0h2m33 0h1m8 0h1m45 0h1m44 0h1m33 0h1m1 0h1m79 0h1m17 0h1m15 0h1m54 0h1m16 0h1m18 0h1M29 178.5h1m27 0h1m74 0h1m92 0h1m4 0h1m41 0h1m6 0h2m2 0h1m102 0h2m8 0h2m33 0h1m8 0h1m45 0h1m44 0h1m33 0h1m1 0h1m79 0h1m17 0h1m15 0h1m54 0h1m16 0h1m18 0h1M29 179.5h1m27 0h1m74 0h1m92 0h1m4 0h1m41 0h1m6 0h2m2 0h1m102 0h2m8 0h2m33 0h1m8 0h1m45 0h1m44 0h1m33 0h1m1 0h1m79 0h1m17 0h1m15 0h1m54 0h1m16 0h1m18 0h1M29 180.5h1m27 0h1m74 0h1m92 0h1m4 0h1m41 0h1m6 0h2m2 0h1m102 0h2m8 0h2m33 0h1m8 0h1m45 0h1m44 0h1m33 0h1m1 0h1m79 0h1m17 0h1m15 0h1m54 0h1m16 0h1m18 0h1M29 181.5h1m27 0h1m74 0h1m92 0h1m4 0h1m41 0h1m6 0h2m2 0h1m102 0h2m8 0h2m33 0h1m8 0h1m45 0h1m44 0h1m33 0h1m1 0h1m79 0h1m17 0h1m15 0h1m54 0h1m16 0h1m18 0h1M29 182.5h1m27 0h1m74 0h1m92 0h1m4 0h1m41 0h1m6 0h2m2 0h1m102 0h2m8 0h2m33 0h1m8 0h1m45 0h1m44 0h1m33 0h1m1 0h1m79 0h1m17 0h1m15 0h1m54 0h1m16 0h1m18 0h1M29 183.5h1m27 0h1m74 0h1m92 0h1m4 0h1m41 0h1m6 0h2m2 0h1m102 0h2m8 0h2m33 0h1m8 0h1m45 0h1m44 0h1m33 0h1m1 0h1m79 0h1m17 0h1m15 0h1m54 0h1m16 0h1m18 0h1M29 184.5h1m27 0h1m74 0h1m92 0h1m4 0h1m41 0h1m6 0h2m2 0h1m102 0h2m8 0h2m33 0h1m8 0h1m45 0h1m44 0h1m33 0h1m1 0h1m79 0h1m17 0h1m15 0h1m54 0h1m16 0h1m18 0h1M29 185.5h1m27 0h1m74 0h1m92 0h1m4 0h1m41 0h1m6 0h2m2 0h1m102 0h2m8 0h2m33 0h1m8 0h1m45 0h1m44 0h1m33 0h1m1 0h1m79 0h1m17 0h1m15 0h1m54 0h1m16 0h1m18 0h1M0 250.5h8m8 0h14m8 0h85M122 251.5h3M123 259.5h3M124 260.5h60m3 0h8m2 0h83m2 0h16m4 0h6m5 0h24m2 0h24m6 0h6m5 0h2m2 0h180m2 0h276M126 261.5h18m2 0h11m3 0h8m5 0h5m4 0h2m3 0h8m2 0h83m2 0h16m4 0h6m5 0h24m2 0h11m5 0h2m3 0h3m6 0h6m5 0h2m2 0h59m11 0h74m12 0h24m2 0h200m26 0h9m21 0h20M126 262.5h18m2 0h11m3 0h8m5 0h5m4 0h2m3 0h8m2 0h83m2 0h16m4 0h6m5 0h24m2 0h11m5 0h2m3 0h3m6 0h6m5 0h2m2 0h59m11 0h74m12 0h24m2 0h200m26 0h9m21 0h20M126 263.5h18m2 0h11m3 0h8m5 0h5m4 0h168m5 0h2m3 0h83m11 0h74m12 0h226m26 0h9m21 0h20M126 264.5h18m2 0h11m3 0h8m5 0h5m4 0h168m5 0h2m3 0h83m11 0h74m12 0h226m26 0h9m21 0h20M123 265.5h3M7 305.5h1m1 0h2m4 0h4m3 0h3m1 0h1m6 0h1m9 0h3m1 0h2m3 0h3m2 0h2m6 0h1m6 0h1m3 0h2m5 0h3m1 0h2m9 0h1m6 0h2m5 0h2m2 0h4m3 0h3m1 0h2m2 0h2m3 0h1m3 0h3m4 0h2m5 0h2m2 0h2m4 0h1m4 0h1m6 0h2m3 0h2m6 0h2m5 0h2m3 0h3m4 0h1m6 0h1m4 0h1m3 0h1m1 0h1m5 0h2m33 0h1m58 0h2m3 0h3m3 0h3m5 0h1m1 0h1m1 0h2m27 0h2m15 0h3m4 0h2m16 0h1m30 0h3m1 0h2m17 0h1m10 0h1m6 0h1m6 0h1m67 0h2m5 0h1m20 0h1m21 0h1m1 0h3m19 0h2m10 0h2m11 0h2m4 0h2m2 0h2m2 0h2m5 0h2m2 0h1m1 0h1m1 0h2m3 0h1m5 0h3m4 0h1m5 0h4m3 0h2m2 0h2m4 0h2m5 0h3m5 0h1m4 0h2m1 0h3m6 0h1m2 0h3m5 0h2m3 0h1m2 0h2m3 0h3m2 0h3m2 0h2m3 0h1m2 0h2m2 0h2m2 0h3m4 0h3m1 0h4m6 0h3M15 306.5h1m2 0h1m3 0h1m1 0h1m9 0h1m1 0h2m18 0h1m2 0h1m6 0h1m9 0h1m8 0h1m3 0h1m1 0h2m18 0h1m2 0h1m18 0h1m1 0h1m1 0h1m25 0h1m1 0h1m2 0h1m8 0h1m10 0h1m18 0h1m1 0h1m11 0h1m12 0h1m17 0h1m8 0h1m2 0h1m1 0h1m3 0h3m6 0h2m4 0h1m8 0h1m1 0h1m11 0h1m4 0h2m14 0h2m3 0h3m3 0h5m3 0h1m2 0h4m5 0h1m5 0h1m3 0h1m13 0h2m15 0h1m6 0h2m7 0h1m4 0h1m3 0h3m3 0h1m5 0h1m1 0h1m6 0h4m3 0h1m14 0h2m4 0h1m1 0h1m3 0h2m9 0h1m5 0h1m13 0h2m4 0h1m1 0h1m10 0h2m2 0h2m1 0h1m2 0h1m6 0h2m9 0h2m5 0h1m3 0h4m1 0h5m3 0h2m2 0h1m5 0h1m2 0h1m2 0h3m3 0h1m1 0h1m11 0h1m32 0h1m5 0h2m9 0h3m2 0h2m2 0h2m2 0h1m16 0h1m1 0h1m23 0h1m2 0h1m21 0h1m1 0h1m14 0h1m1 0h1m13 0h1m3 0h2m10 0h1m10 0h1m3 0h2m2 0h1m19 0h1M15 307.5h1m2 0h1m3 0h1m1 0h1m9 0h1m1 0h2m18 0h1m2 0h1m6 0h1m9 0h1m8 0h1m3 0h1m1 0h2m18 0h1m2 0h1m18 0h1m1 0h1m1 0h1m25 0h1m1 0h1m2 0h1m8 0h1m10 0h1m18 0h1m1 0h1m11 0h1m12 0h1m26 0h1m1 0h1m3 0h1m2 0h3m6 0h2m4 0h1m9 0h2m11 0h1m4 0h3m6 0h1m2 0h1m3 0h2m3 0h3m3 0h5m3 0h1m2 0h4m1 0h1m2 0h2m3 0h1m5 0h1m7 0h2m4 0h2m9 0h3m4 0h2m4 0h2m4 0h1m2 0h1m2 0h3m3 0h1m1 0h1m11 0h1m1 0h3m2 0h4m3 0h1m2 0h2m11 0h1m4 0h1m1 0h1m3 0h2m9 0h1m19 0h2m4 0h1m1 0h1m3 0h1m6 0h1m6 0h1m2 0h1m6 0h2m8 0h1m1 0h1m1 0h4m4 0h4m1 0h5m3 0h4m9 0h1m2 0h3m3 0h1m1 0h1m9 0h1m1 0h1m6 0h1m15 0h1m9 0h1m5 0h2m5 0h1m3 0h3m2 0h2m2 0h2m2 0h1m2 0h1m13 0h1m1 0h1m23 0h1m2 0h1m21 0h1m1 0h1m14 0h1m1 0h1m13 0h1m3 0h2m10 0h1m10 0h1m3 0h2m2 0h1m19 0h1M321 308.5h8m26 0h2m85 0h3m12 0h2m102 0h5m19 0h2m77 0h4m16 0h1M84 332.5h1m2 0h1m29 0h1m12 0h1m9 0h1m12 0h1m29 0h1m2 0h1m52 0h1m7 0h1m5 0h1m4 0h1m7 0h1m11 0h1m13 0h1m7 0h1m1 0h1m9 0h1m1 0h1m3 0h2m24 0h1m5 0h1m4 0h1m3 0h2m10 0h1m3 0h1m11 0h2m12 0h1m10 0h1m1 0h1m5 0h1m17 0h1m5 0h1m4 0h2m5 0h1m4 0h1m5 0h1m4 0h1m1 0h1m9 0h1m8 0h3m2 0h1m1 0h1m6 0h1m2 0h1m1 0h1m7 0h1m1 0h1m4 0h1m2 0h2m1 0h3m4 0h2m2 0h2m2 0h1m1 0h1m15 0h2m3 0h2m2 0h1m8 0h1m6 0h1m9 0h1m2 0h1m1 0h1m13 0h1m2 0h1m3 0h1m1 0h1m6 0h2m4 0h2m2 0h3m4 0h3m14 0h1m2 0h1m2 0h1m3 0h2m2 0h2m8 0h1m45 0h1m36 0h1m2 0h1m6 0h1m24 0h1m2 0h1m3 0h1m8 0h1M0 333.5h4m3 0h1m3 0h4m3 0h4m4 0h1m1 0h4m2 0h4m1 0h2m4 0h4m2 0h5m2 0h4m2 0h4m4 0h1m3 0h4m3 0h1m4 0h3m2 0h3m2 0h5m1 0h3m1 0h2m1 0h1m2 0h3m3 0h1m4 0h4m2 0h1m2 0h5m2 0h2m3 0h1m3 0h3m3 0h2m1 0h3m3 0h4m3 0h1m3 0h5m2 0h2m1 0h2m1 0h2m3 0h3m3 0h1m3 0h1m3 0h2m3 0h4m3 0h1m3 0h3m3 0h4m1 0h1m3 0h1m7 0h1m5 0h1m4 0h1m7 0h1m3 0h1m7 0h1m4 0h1m4 0h1m1 0h1m9 0h1m1 0h1m9 0h1m1 0h1m3 0h2m24 0h1m5 0h1m4 0h1m3 0h2m14 0h1m11 0h2m12 0h1m10 0h1m1 0h1m5 0h1m7 0h1m15 0h1m4 0h2m5 0h1m4 0h1m5 0h1m4 0h1m1 0h1m4 0h1m4 0h1m8 0h3m2 0h1m1 0h1m6 0h1m2 0h1m1 0h1m7 0h1m1 0h1m4 0h1m2 0h2m8 0h2m2 0h2m2 0h1m1 0h1m15 0h2m3 0h2m2 0h1m3 0h2m3 0h1m6 0h1m5 0h1m3 0h1m2 0h1m1 0h1m1 0h1m2 0h1m4 0h1m3 0h1m2 0h1m3 0h1m1 0h1m6 0h2m4 0h2m17 0h1m8 0h1m2 0h1m2 0h1m3 0h2m2 0h2m5 0h3m3 0h3m2 0h1m4 0h4m2 0h3m2 0h5m2 0h2m2 0h4m2 0h3m3 0h3m2 0h3m2 0h3m2 0h4m2 0h3m3 0h4m3 0h3m2 0h5m3 0h4m1 0h1m3 0h2m4 0h2m3 0h4m4 0h3m2 0h2m3 0h1m2 0h2m2 0h3m3 0h3M84 334.5h1m2 0h1m29 0h1m12 0h1m9 0h1m12 0h1m29 0h1m2 0h1m52 0h1m7 0h1m5 0h1m4 0h1m11 0h1m7 0h1m4 0h1m4 0h1m1 0h1m2 0h1m6 0h1m1 0h1m9 0h1m1 0h1m3 0h2m24 0h1m5 0h1m4 0h1m3 0h2m14 0h1m2 0h2m7 0h2m12 0h1m10 0h1m1 0h1m5 0h1m3 0h1m3 0h1m15 0h1m4 0h2m5 0h1m4 0h1m5 0h1m4 0h1m1 0h1m4 0h1m4 0h1m13 0h1m1 0h1m6 0h1m2 0h1m1 0h1m7 0h1m1 0h1m4 0h1m2 0h2m12 0h2m2 0h1m1 0h1m11 0h1m3 0h2m3 0h2m2 0h1m3 0h2m3 0h1m6 0h1m5 0h1m3 0h1m2 0h1m1 0h1m1 0h1m2 0h1m4 0h1m3 0h1m2 0h1m3 0h1m1 0h1m6 0h2m4 0h2m17 0h1m8 0h1m2 0h1m6 0h2m2 0h2m5 0h3m3 0h3m2 0h1m4 0h4m2 0h3m2 0h5m2 0h2m2 0h4m2 0h3m3 0h3m2 0h3m2 0h3m2 0h4m2 0h3m3 0h4m3 0h3m2 0h5m3 0h4m1 0h1m3 0h2m4 0h2m3 0h4m4 0h3m2 0h2m3 0h1m2 0h2m2 0h3m3 0h3M721 362.5h5m22 0h4m78 0h3M722 363.5h9m11 0h9m80 0h5M724 364.5h26m82 0h10M726 365.5h22m85 0h9M728 366.5h17m52 0h7m30 0h8M732 367.5h10m50 0h15m30 0h5M715 368.5h1m43 0h1m29 0h20M685 369.5h5m26 0h2m39 0h1m14 0h1m13 0h24m8 0h1m8 0h1M685 370.5h7m26 0h1m36 0h2m13 0h2m12 0h28m7 0h1m8 0h1M686 371.5h8m25 0h2m32 0h2m14 0h1m12 0h15m7 0h9m7 0h1m8 0h1M687 372.5h8m26 0h2m28 0h2m14 0h2m11 0h12m15 0h7m16 0h1M688 373.5h9m11 0h1m14 0h3m22 0h3m15 0h1m12 0h10m20 0h6m16 0h2M689 374.5h9m11 0h1m16 0h3m16 0h3m16 0h2m11 0h10m23 0h6m6 0h1m10 0h2M691 375.5h8m11 0h2m17 0h5m5 0h6m18 0h1m12 0h9m26 0h6m6 0h1m11 0h3M693 376.5h5m14 0h1m21 0h5m22 0h2m11 0h9m29 0h6m6 0h1m13 0h4M695 377.5h3m15 0h2m45 0h1m12 0h8m33 0h4m7 0h1M696 378.5h2m17 0h1m42 0h2m11 0h8m36 0h4m7 0h1M705 379.5h1m10 0h2m38 0h2m12 0h8m16 0h12m9 0h5m7 0h1M705 380.5h2m11 0h2m34 0h2m12 0h8m15 0h3m12 0h2m8 0h5m7 0h1M705 381.5h3m12 0h2m30 0h2m13 0h7m14 0h3m17 0h1m8 0h5m7 0h1M688 382.5h2m15 0h5m12 0h2m26 0h2m13 0h8m13 0h2m21 0h2m7 0h5m7 0h2M690 383.5h2m13 0h6m13 0h2m21 0h3m14 0h7m13 0h2m25 0h1m7 0h5m8 0h1M692 384.5h2m11 0h8m13 0h4m14 0h3m15 0h8m12 0h2m28 0h1m7 0h5m8 0h2M694 385.5h2m10 0h8m16 0h14m16 0h8m12 0h2m31 0h1m7 0h5m9 0h7M696 386.5h1m11 0h8m43 0h8m11 0h2m34 0h1m7 0h4M697 387.5h1m11 0h8m40 0h8m12 0h1m37 0h1m7 0h4M711 388.5h8m36 0h9m11 0h2m22 0h4m13 0h1m6 0h6M712 389.5h9m32 0h9m12 0h1m18 0h6m4 0h3m11 0h1m6 0h6M714 390.5h9m28 0h10m11 0h2m16 0h3m13 0h2m10 0h1m6 0h6M688 391.5h1m26 0h10m24 0h10m12 0h1m15 0h3m18 0h2m16 0h6M689 392.5h2m14 0h1m11 0h11m18 0h12m11 0h2m14 0h2m23 0h1m16 0h7M691 393.5h2m13 0h1m11 0h14m9 0h15m12 0h1m14 0h2m26 0h1m8 0h1m7 0h9M693 394.5h1m13 0h2m11 0h34m12 0h2m13 0h2m29 0h1m8 0h1m7 0h13M694 395.5h2m13 0h1m12 0h30m13 0h1m14 0h1m32 0h1m8 0h1m8 0h11M696 396.5h2m12 0h1m13 0h25m14 0h2m13 0h2m34 0h1m8 0h1m8 0h10M712 397.5h1m14 0h20m15 0h1m13 0h2m17 0h10m10 0h1m8 0h1m9 0h8M699 398.5h1m13 0h1m17 0h12m17 0h2m13 0h1m15 0h16m9 0h1m8 0h1m10 0h6M701 399.5h1m12 0h2m42 0h2m13 0h2m14 0h20m8 0h1m8 0h1M685 400.5h5m12 0h1m13 0h2m39 0h1m14 0h1m13 0h24m8 0h1m8 0h1M685 401.5h7m11 0h2m13 0h1m36 0h2m13 0h2m12 0h28m7 0h1m8 0h1M686 402.5h8m11 0h1m13 0h2m32 0h2m14 0h1m12 0h15m7 0h9m7 0h1m8 0h1M687 403.5h8m11 0h1m14 0h2m28 0h2m14 0h2m11 0h12m15 0h7m16 0h1M688 404.5h9m11 0h1m14 0h3m22 0h3m15 0h1m12 0h10m20 0h6m16 0h2M689 405.5h9m11 0h1m16 0h3m16 0h3m16 0h2m11 0h10m23 0h6m6 0h1m10 0h2M691 406.5h9m10 0h2m17 0h5m5 0h6m18 0h1m12 0h9m26 0h6m6 0h1m11 0h3M693 407.5h8m11 0h1m21 0h5m22 0h2m11 0h9m29 0h6m6 0h1m13 0h4M695 408.5h8m10 0h2m45 0h1m12 0h8m33 0h4m7 0h1M696 409.5h8m11 0h1m42 0h2m11 0h8m36 0h4m7 0h1M698 410.5h8m10 0h2m38 0h2m12 0h8m16 0h12m9 0h5m7 0h1M699 411.5h8m11 0h2m34 0h2m12 0h8m15 0h3m12 0h2m8 0h5m7 0h1M701 412.5h7m12 0h2m30 0h2m13 0h7m14 0h3m17 0h1m8 0h5m7 0h1M688 413.5h2m12 0h8m12 0h2m26 0h2m13 0h8m13 0h2m21 0h2m7 0h5m7 0h2M690 414.5h2m12 0h7m13 0h2m21 0h3m14 0h7m13 0h2m25 0h1m7 0h5m8 0h1M692 415.5h2m11 0h8m13 0h4m14 0h3m15 0h8m12 0h2m28 0h1m7 0h5m8 0h2M694 416.5h2m10 0h8m16 0h14m16 0h8m12 0h2m31 0h1m7 0h5m9 0h7M696 417.5h1m11 0h8m43 0h8m11 0h2m34 0h1m7 0h4M697 418.5h2m10 0h8m40 0h8m12 0h1m37 0h1m7 0h4M699 419.5h1m11 0h8m36 0h9m11 0h2m22 0h4m13 0h1m6 0h6M700 420.5h2m10 0h9m32 0h9m12 0h1m18 0h6m4 0h3m11 0h1m6 0h6M702 421.5h1m11 0h9m28 0h10m11 0h2m16 0h3m13 0h2m10 0h1m6 0h6M688 422.5h1m14 0h1m11 0h10m24 0h10m12 0h1m15 0h3m18 0h2m16 0h6M689 423.5h2m14 0h1m11 0h11m18 0h12m11 0h2m14 0h2m23 0h1m16 0h7M691 424.5h2m13 0h1m11 0h14m9 0h15m12 0h1m14 0h2m26 0h1m8 0h1m7 0h9M693 425.5h1m13 0h2m11 0h34m12 0h2m13 0h2m29 0h1m8 0h1m7 0h13M694 426.5h2m13 0h1m12 0h30m13 0h1m14 0h1m32 0h1m8 0h1m8 0h11M696 427.5h2m12 0h1m13 0h25m14 0h2m13 0h2m34 0h1m8 0h1m8 0h10M698 428.5h1m13 0h1m14 0h20m15 0h1m13 0h2m17 0h10m10 0h1m8 0h1m9 0h8M699 429.5h1m13 0h1m17 0h12m17 0h2m13 0h1m15 0h16m9 0h1m8 0h1m10 0h6M701 430.5h1m12 0h2m42 0h2m13 0h2m14 0h20m8 0h1m8 0h1M685 431.5h5m12 0h1m13 0h2m39 0h1m14 0h1m13 0h24m8 0h1m8 0h1M685 432.5h7m11 0h2m13 0h1m36 0h2m13 0h2m12 0h28m7 0h1m8 0h1M686 433.5h8m11 0h1m13 0h2m32 0h2m14 0h1m12 0h15m7 0h9m7 0h1m8 0h1M687 434.5h8m11 0h1m14 0h2m28 0h2m14 0h2m11 0h12m15 0h7m16 0h1M688 435.5h9m11 0h1m14 0h3m22 0h3m15 0h1m12 0h10m20 0h6m16 0h2M689 436.5h9m11 0h1m16 0h3m16 0h3m16 0h2m11 0h10m23 0h6m6 0h1m10 0h2M691 437.5h9m10 0h2m17 0h5m5 0h6m18 0h1m12 0h9m26 0h6m6 0h1m11 0h3M693 438.5h8m11 0h1m21 0h5m22 0h2m11 0h9m29 0h6m6 0h1m13 0h4M695 439.5h8m10 0h2m45 0h1m12 0h8m33 0h4m7 0h1M696 440.5h8m11 0h1m42 0h2m11 0h8m36 0h4m7 0h1M698 441.5h8m10 0h2m38 0h2m12 0h8m16 0h12m9 0h5m7 0h1M699 442.5h8m11 0h2m34 0h2m12 0h8m15 0h3m12 0h2m8 0h5m7 0h1M701 443.5h7m12 0h2m30 0h2m13 0h7m14 0h3m17 0h1m8 0h5m7 0h1M688 444.5h2m12 0h8m12 0h2m26 0h2m13 0h8m13 0h2m21 0h2m7 0h5m7 0h2M690 445.5h2m12 0h7m13 0h2m21 0h3m14 0h7m13 0h2m25 0h1m7 0h5m8 0h1M692 446.5h2m11 0h8m13 0h4m14 0h3m15 0h8m12 0h2m28 0h1m7 0h5m8 0h2M694 447.5h2m10 0h8m16 0h14m16 0h8m12 0h2m31 0h1m7 0h5m9 0h7M696 448.5h1m11 0h8m43 0h8m11 0h2m34 0h1m7 0h4M697 449.5h2m10 0h8m40 0h8m12 0h1m37 0h1m7 0h4M699 450.5h1m11 0h8m36 0h9m11 0h2m22 0h4m13 0h1m6 0h6M712 451.5h9m33 0h8m62 0h6M714 452.5h8m30 0h8m66 0h4M250 453.5h7m127 0h3m26 0h3m62 0h2m32 0h4m91 0h2m25 0h3m50 0h2m28 0h6m28 0h7m69 0h4M239 454.5h21m21 0h6m26 0h9m35 0h4m11 0h2m8 0h11m14 0h10m8 0h3m10 0h4m17 0h3m7 0h2m6 0h7m16 0h19m14 0h4m18 0h7m25 0h3m8 0h2m6 0h8m13 0h11m9 0h3m11 0h4m20 0h3M238 455.5h450M238 456.5h1m46 0h15m66 0h6m55 0h6m32 0h5m66 0h11m46 0h5m51 0h6m32 0h1M238 457.5h1M238 458.5h1M238 459.5h1M238 460.5h1M238 461.5h1M238 462.5h1M238 463.5h1M238 464.5h1M238 465.5h1M238 466.5h1"/><path stroke="#0f2000" d="M631 189.5h16m10 0h8m17 0h16m16 0h15m8 0h16m20 0h10m8 0h37"/><path stroke="#0f4000" d="M30 195.5h6m1 0h20m1 0h8M71 201.5h465M541 202.5h1M626 203.5h2M627 204.5h1M627 205.5h1M627 206.5h1M627 207.5h1M627 208.5h1M96 209.5h1m530 0h1M627 210.5h1M627 211.5h1M98 212.5h1m528 0h1M99 213.5h1m527 0h1M134 214.5h2m491 0h1M138 215.5h1m488 0h1M141 216.5h1m485 0h1M468 217.5h1M467 220.5h69M467 221.5h69M467 222.5h69M467 223.5h69M467 224.5h69M467 225.5h69M467 226.5h69M467 227.5h69M467 228.5h69M467 229.5h69M139 230.5h1m327 0h69M142 231.5h3M142 232.5h3M142 233.5h3M139 234.5h1m2 0h3M144 235.5h2"/><path stroke="#0f6000" d="M628 204.5h1M628 205.5h1M628 206.5h1M628 207.5h1M628 208.5h1M628 209.5h1M628 210.5h1M628 211.5h1M628 212.5h1M628 213.5h1M628 214.5h1M629 217.5h1M629 218.5h1M629 219.5h1M629 220.5h1M630 221.5h1M636 222.5h3"/><path stroke="#0f8000" d="M735 227.5h3M733 228.5h2M733 229.5h2M733 230.5h2M733 231.5h2M733 232.5h2M733 233.5h2M733 234.5h2M733 235.5h2M733 236.5h2M733 237.5h2M733 238.5h2M733 239.5h2M733 240.5h2M733 241.5h2"/><path stroke="#0fbf00" d="M69 208.5h1"/><path stroke="#110000" d="M26 23.5h3m18 0h2m15 0h3m9 0h3m9 0h5m12 0h2m7 0h5m9 0h2m4 0h3m18 0h1m6 0h4m6 0h4m6 0h3m6 0h4m6 0h5m3 0h4m3 0h3m22 0h4m4 0h5m5 0h3m8 0h3m35 0h1m5 0h1m7 0h2m7 0h3m9 0h4m9 0h3m14 0h3m10 0h5m10 0h1m13 0h4m14 0h3M10 24.5h2m5 0h4m8 0h1m9 0h1m6 0h3m4 0h3m8 0h3m9 0h3m9 0h5m5 0h2m4 0h3m23 0h1m3 0h3m7 0h1m9 0h1m1 0h1m15 0h4m6 0h4m5 0h5m5 0h5m2 0h5m2 0h5m7 0h3m4 0h1m6 0h4m24 0h1m11 0h2m10 0h1m8 0h3m4 0h1m4 0h2m5 0h4m9 0h1m7 0h5m8 0h4m6 0h5m2 0h5m2 0h1m14 0h1m5 0h1m7 0h1m5 0h6m3 0h2m8 0h3M10 25.5h2m5 0h4m8 0h1m9 0h1m6 0h3m4 0h3m8 0h3m9 0h3m9 0h5m5 0h2m4 0h3m23 0h1m3 0h3m7 0h1m9 0h1m1 0h1m15 0h4m6 0h4m5 0h5m5 0h5m2 0h5m2 0h5m7 0h3m4 0h1m6 0h4m24 0h1m11 0h2m10 0h1m8 0h3m4 0h1m4 0h2m5 0h4m9 0h1m7 0h5m8 0h4m6 0h5m2 0h5m2 0h1m14 0h1m5 0h1m7 0h1m5 0h6m3 0h2m8 0h3M9 40.5h1m4 0h4m2 0h1m7 0h3m7 0h4m5 0h3m5 0h3m3 0h4m8 0h2m7 0h3m10 0h1m9 0h2m3 0h4m4 0h3m6 0h1m6 0h2m7 0h3m9 0h2m4 0h2m4 0h4m5 0h4m2 0h4m9 0h2m5 0h4m7 0h4m9 0h2m4 0h4m7 0h4m6 0h3m3 0h3m8 0h1m4 0h4m9 0h5m4 0h4m9 0h4m10 0h3m7 0h4m9 0h1m3 0h1m7 0h2m6 0h1m6 0h2m7 0h4m3 0h1M9 41.5h2m2 0h1m7 0h1m6 0h3m7 0h4m30 0h1m8 0h5m8 0h1m10 0h3m1 0h1m4 0h1m11 0h1m6 0h3m6 0h1m3 0h1m13 0h1m6 0h4m4 0h1m18 0h1m2 0h1m3 0h6m5 0h1m12 0h4m3 0h4m6 0h5m5 0h1m5 0h4m7 0h1m1 0h1m2 0h1m13 0h5m3 0h5m8 0h1m4 0h1m8 0h1m9 0h1m13 0h2m1 0h2m14 0h3m4 0h1m2 0h1m5 0h1m4 0h1m1 0h1m1 0h1M9 42.5h2m2 0h1m7 0h1m6 0h3m7 0h4m30 0h1m8 0h5m8 0h1m10 0h3m1 0h1m4 0h1m11 0h1m6 0h3m6 0h1m3 0h1m13 0h1m6 0h4m4 0h1m18 0h1m2 0h1m3 0h6m5 0h1m12 0h4m3 0h4m6 0h5m5 0h1m5 0h4m7 0h1m1 0h1m2 0h1m13 0h5m3 0h5m8 0h1m4 0h1m8 0h1m9 0h1m13 0h2m1 0h2m14 0h3m4 0h1m2 0h1m5 0h1m4 0h1m1 0h1m1 0h1M8 61.5h5m5 0h3m10 0h1m6 0h3m2 0h2m3 0h3m4 0h4m2 0h6m2 0h3m7 0h3m10 0h3m5 0h4m5 0h4m4 0h3m8 0h4m8 0h4m2 0h3m9 0h2m4 0h4m3 0h2m6 0h3m8 0h1m4 0h4m4 0h3m8 0h2m8 0h2m4 0h3m7 0h3m4 0h3m5 0h3m10 0h3m10 0h1m7 0h1m9 0h3m5 0h4m3 0h3m8 0h3m2 0h4m7 0h5m5 0h4m4 0h5m9 0h2m7 0h3m8 0h2m3 0h1m5 0h4m7 0h4m5 0h4m9 0h4m7 0h3m3 0h5m6 0h1m10 0h2m6 0h3m9 0h4m6 0h2m8 0h1m7 0h3m5 0h5m5 0h2m5 0h4m3 0h4m9 0h3m6 0h3m8 0h4m8 0h1m4 0h2m4 0h1m3 0h4m7 0h2m8 0h3m3 0h5m3 0h3m2 0h3m4 0h3m2 0h3m9 0h3m7 0h2m4 0h1m6 0h3m8 0h1m5 0h3m6 0h3m9 0h3m6 0h3m5 0h3m8 0h3m5 0h4m2 0h2m5 0h2m10 0h1m4 0h4m5 0h4m3 0h1m6 0h4m2 0h6M12 62.5h1m8 0h1m8 0h1m7 0h3m3 0h1m2 0h1m3 0h1m3 0h1m2 0h1m2 0h1m4 0h1m11 0h5m8 0h1m7 0h6m12 0h1m1 0h1m8 0h5m7 0h4m5 0h1m18 0h1m20 0h1m1 0h1m2 0h1m11 0h1m8 0h1m9 0h1m4 0h1m19 0h1m3 0h1m3 0h1m8 0h1m3 0h1m8 0h1m1 0h1m7 0h1m7 0h1m3 0h1m3 0h1m23 0h1m19 0h1m8 0h1m3 0h1m8 0h1m2 0h1m16 0h1m6 0h1m14 0h1m4 0h1m3 0h1m4 0h1m7 0h1m11 0h3m7 0h1m5 0h1m1 0h1m8 0h1m7 0h4m13 0h1m4 0h4m8 0h1m8 0h1m14 0h1m2 0h1m8 0h1m1 0h1m12 0h1m12 0h1m7 0h4m7 0h1m10 0h1m7 0h1m9 0h1m17 0h1m10 0h1m4 0h1m1 0h1m5 0h1m11 0h1m5 0h4m4 0h1m17 0h1m12 0h1m3 0h1m7 0h1m12 0h1m7 0h1m7 0h1m1 0h1m13 0h1m4 0h3m8 0h1m9 0h1m10 0h1M12 63.5h1m8 0h1m8 0h1m7 0h3m3 0h1m2 0h1m3 0h1m3 0h1m2 0h1m2 0h1m4 0h1m11 0h5m8 0h1m7 0h6m12 0h1m1 0h1m8 0h5m7 0h4m5 0h1m18 0h1m20 0h1m1 0h1m2 0h1m11 0h1m8 0h1m9 0h1m4 0h1m19 0h1m3 0h1m3 0h1m8 0h1m3 0h1m8 0h1m1 0h1m7 0h1m7 0h1m3 0h1m3 0h1m23 0h1m19 0h1m8 0h1m3 0h1m8 0h1m2 0h1m16 0h1m6 0h1m14 0h1m4 0h1m3 0h1m4 0h1m7 0h1m11 0h3m7 0h1m5 0h1m1 0h1m8 0h1m7 0h4m13 0h1m4 0h4m8 0h1m8 0h1m14 0h1m2 0h1m8 0h1m1 0h1m12 0h1m12 0h1m7 0h4m7 0h1m10 0h1m7 0h1m9 0h1m17 0h1m10 0h1m4 0h1m1 0h1m5 0h1m11 0h1m5 0h4m4 0h1m17 0h1m12 0h1m3 0h1m7 0h1m12 0h1m7 0h1m7 0h1m1 0h1m13 0h1m4 0h3m8 0h1m9 0h1m10 0h1M12 64.5h1m8 0h1m8 0h1m7 0h3m3 0h1m2 0h1m3 0h1m3 0h1m2 0h1m2 0h1m4 0h1m11 0h5m8 0h1m7 0h6m12 0h1m1 0h1m8 0h5m7 0h4m5 0h1m18 0h1m20 0h1m1 0h1m2 0h1m11 0h1m8 0h1m9 0h1m4 0h1m19 0h1m3 0h1m3 0h1m8 0h1m3 0h1m8 0h1m1 0h1m7 0h1m7 0h1m3 0h1m3 0h1m23 0h1m19 0h1m8 0h1m3 0h1m8 0h1m2 0h1m16 0h1m6 0h1m14 0h1m4 0h1m3 0h1m4 0h1m7 0h1m11 0h3m7 0h1m5 0h1m1 0h1m8 0h1m7 0h4m13 0h1m4 0h4m8 0h1m8 0h1m14 0h1m2 0h1m8 0h1m1 0h1m12 0h1m12 0h1m7 0h4m7 0h1m10 0h1m7 0h1m9 0h1m17 0h1m10 0h1m4 0h1m1 0h1m5 0h1m11 0h1m5 0h4m4 0h1m17 0h1m12 0h1m3 0h1m7 0h1m12 0h1m7 0h1m7 0h1m1 0h1m13 0h1m4 0h3m8 0h1m9 0h1m10 0h1M488 87.5h1m4 0h1m110 0h1m28 0h1M26 88.5h2m18 0h3m9 0h1m24 0h1m10 0h3m23 0h1m21 0h1m17 0h2m17 0h4m20 0h3m16 0h1m42 0h1m25 0h2m22 0h3m12 0h2m26 0h1m25 0h3m41 0h3m18 0h1m11 0h3m20 0h3m1 0h1m4 0h1m9 0h1m21 0h2m21 0h2m9 0h1m19 0h1m15 0h3m6 0h1m28 0h1m1 0h2m18 0h3m18 0h2m8 0h2m15 0h4m8 0h3m16 0h4m17 0h1m17 0h3m25 0h3m18 0h1m12 0h3M25 89.5h1m2 0h1m17 0h4m7 0h1m1 0h1m24 0h1m12 0h1m21 0h3m19 0h1m1 0h1m15 0h1m2 0h1m58 0h3m22 0h3m15 0h1m25 0h1m39 0h3m24 0h2m24 0h4m20 0h2m19 0h4m16 0h1m1 0h1m37 0h1m4 0h1m10 0h1m42 0h1m12 0h1m17 0h3m13 0h1m9 0h1m28 0h2m2 0h1m16 0h4m17 0h3m8 0h3m14 0h4m7 0h4m38 0h1m15 0h1m3 0h1m24 0h3m17 0h1m1 0h1m11 0h3M25 90.5h1m2 0h1m17 0h4m7 0h1m1 0h1m24 0h1m12 0h1m21 0h3m19 0h1m1 0h1m15 0h1m2 0h1m58 0h3m22 0h3m15 0h1m25 0h1m39 0h3m24 0h2m24 0h4m20 0h2m19 0h4m16 0h1m1 0h1m37 0h1m4 0h1m10 0h1m42 0h1m12 0h1m17 0h3m13 0h1m9 0h1m28 0h2m2 0h1m16 0h4m17 0h3m8 0h3m14 0h4m7 0h4m38 0h1m15 0h1m3 0h1m24 0h3m17 0h1m1 0h1m11 0h3M488 91.5h1m4 0h1m110 0h1m28 0h1M42 162.5h14m31 0h19m36 0h64m52 0h59m15 0h27m9 0h6m25 0h87m26 0h14m31 0h34m41 0h15m35 0h24m13 0h32m21 0h49m16 0h5M42 163.5h14m31 0h19m36 0h64m52 0h59m15 0h27m9 0h6m25 0h87m26 0h14m31 0h34m41 0h15m35 0h24m13 0h32m21 0h49m16 0h5M41 164.5h16m29 0h21m34 0h66m50 0h61m13 0h28m9 0h6m25 0h88m24 0h16m29 0h36m39 0h17m33 0h26m12 0h33m19 0h51m14 0h6M0 167.5h842M0 168.5h842M0 169.5h842M0 170.5h842M0 171.5h842M0 245.5h8m8 0h14m8 0h18m3 0h75m5 0h216m4 0h3m6 0h5m3 0h338M0 246.5h8m8 0h14m8 0h18m3 0h75m5 0h216m4 0h3m6 0h5m3 0h338M0 247.5h8m8 0h14m8 0h18m3 0h75m5 0h216m4 0h3m6 0h5m3 0h338M0 248.5h8m8 0h14m8 0h18m3 0h75m5 0h216m4 0h3m6 0h5m3 0h338M0 249.5h8m8 0h14m8 0h96m5 0h216m4 0h3m6 0h5m3 0h338M123 250.5h11m5 0h216m4 0h3m6 0h5m3 0h338M125 251.5h230m4 0h3m6 0h5m3 0h338M126 252.5h229m4 0h3m6 0h5m3 0h338M126 253.5h229m4 0h3m6 0h5m3 0h340M126 254.5h58m3 0h8m2 0h158m4 0h3m7 0h4m7 0h2m2 0h180m2 0h276M126 255.5h58m3 0h8m2 0h83m2 0h16m4 0h6m5 0h24m2 0h16m4 0h3m7 0h4m7 0h2m2 0h180m2 0h276M126 256.5h58m3 0h8m2 0h83m2 0h16m4 0h6m5 0h24m2 0h16m4 0h3m7 0h4m7 0h2m2 0h180m2 0h276M126 257.5h58m3 0h8m2 0h83m2 0h16m4 0h6m5 0h24m2 0h16m4 0h3m7 0h4m7 0h2m2 0h180m2 0h276M126 258.5h58m3 0h8m2 0h83m2 0h16m4 0h6m5 0h24m2 0h16m4 0h3m7 0h4m7 0h2m2 0h180m2 0h276M126 259.5h58m3 0h8m2 0h83m2 0h16m4 0h6m5 0h24m2 0h16m4 0h3m7 0h4m7 0h2m2 0h180m2 0h276M126 265.5h149m6 0h18m21 0h38m9 0h7m2 0h16m16 0h15m3 0h7m8 0h19m6 0h5m1 0h11m20 0h26m5 0h11m15 0h28m6 0h5m2 0h12m15 0h17m2 0h8m9 0h23m1 0h154M0 266.5h238m12 0h13m118 0h6m26 0h5m58 0h4m32 0h9m84 0h4m25 0h5M0 267.5h238m5 0h18m121 0h7m22 0h7m58 0h5m26 0h13m86 0h5m20 0h8M0 268.5h88m7 0h6m5 0h132m3 0h17m125 0h9m16 0h8m61 0h6m20 0h14m90 0h6m15 0h9M0 269.5h88m7 0h6m5 0h132m2 0h14m131 0h10m10 0h10m63 0h7m13 0h17m93 0h7m10 0h11M0 270.5h88m7 0h6m5 0h132m1 0h11m136 0h27m67 0h32m97 0h25m55 0h153M0 271.5h81m4 0h3m7 0h6m5 0h132m2 0h6m142 0h24m69 0h28m101 0h22m57 0h153M0 272.5h81m4 0h3m7 0h6m5 0h132m152 0h20m72 0h24m106 0h18m59 0h153M0 273.5h81m4 0h3m7 0h6m5 0h132m101 0h1m53 0h14m42 0h5m30 0h17m73 0h8m32 0h13m45 0h7m10 0h153M0 274.5h88m7 0h6m5 0h132m91 0h25m43 0h6m42 0h12m30 0h8m72 0h1m6 0h11m32 0h6m45 0h16m5 0h153M0 275.5h238m85 0h34m85 0h17m103 0h24m79 0h21m3 0h153M0 276.5h238m80 0h41m81 0h20m99 0h29m75 0h24m2 0h153M0 277.5h238m76 0h47m78 0h22m95 0h33m72 0h27m1 0h153M0 278.5h238m72 0h24m18 0h10m75 0h10m9 0h7m90 0h17m13 0h8m68 0h11m12 0h6m1 0h153M0 279.5h238m68 0h20m29 0h9m72 0h8m14 0h6m87 0h14m20 0h7m66 0h9m18 0h2m2 0h153M0 280.5h238m65 0h18m37 0h7m69 0h8m17 0h6m83 0h13m26 0h6m63 0h8m25 0h153M0 281.5h238m61 0h17m44 0h6m67 0h7m21 0h5m80 0h12m31 0h5m61 0h7m27 0h153M0 282.5h238m58 0h16m49 0h7m64 0h6m24 0h4m78 0h11m35 0h5m59 0h6m29 0h153M0 283.5h238m55 0h15m55 0h6m61 0h6m27 0h4m75 0h10m39 0h5m56 0h7m30 0h153M0 284.5h238m52 0h15m59 0h6m59 0h6m29 0h4m72 0h10m42 0h5m54 0h6m32 0h153M0 285.5h238m49 0h14m65 0h5m57 0h6m31 0h4m69 0h9m46 0h5m52 0h6m33 0h153M0 286.5h238m46 0h14m69 0h6m54 0h5m34 0h4m65 0h10m49 0h5m49 0h6m35 0h153M0 287.5h238m43 0h14m73 0h6m52 0h5m36 0h4m62 0h10m52 0h5m47 0h6m36 0h153M0 288.5h238m40 0h14m77 0h6m49 0h6m38 0h4m59 0h10m55 0h4m46 0h6m37 0h153M0 289.5h238m37 0h14m82 0h5m47 0h6m40 0h3m57 0h10m58 0h4m44 0h5m39 0h153M0 290.5h238m34 0h14m86 0h6m44 0h6m41 0h4m54 0h10m61 0h4m41 0h6m40 0h153M0 291.5h238m31 0h14m90 0h6m42 0h5m44 0h4m51 0h10m64 0h4m39 0h6m41 0h153M0 292.5h238m28 0h14m94 0h6m40 0h5m46 0h4m48 0h10m67 0h4m37 0h6m42 0h153M0 293.5h238m25 0h14m99 0h5m37 0h6m48 0h4m45 0h9m71 0h4m34 0h6m44 0h153M0 294.5h238m21 0h15m103 0h6m34 0h6m50 0h4m41 0h10m74 0h4m32 0h6m45 0h153M0 295.5h238m18 0h15m107 0h6m32 0h6m52 0h4m38 0h10m77 0h4m29 0h7m46 0h153M0 296.5h238m14 0h16m111 0h7m28 0h6m55 0h4m34 0h11m80 0h5m26 0h6m48 0h153M0 297.5h238m10 0h17m116 0h6m25 0h7m56 0h5m30 0h12m83 0h5m23 0h7m49 0h153M0 298.5h238m5 0h18m121 0h7m21 0h8m58 0h6m25 0h13m86 0h5m20 0h8m50 0h153M0 299.5h238m3 0h17m125 0h9m16 0h8m61 0h6m20 0h14m90 0h6m15 0h9m52 0h153M0 300.5h238m2 0h14m131 0h10m10 0h10m63 0h7m13 0h17m93 0h7m10 0h11m53 0h153M0 301.5h238m1 0h11m136 0h27m67 0h32m97 0h25m55 0h153M0 302.5h238m2 0h6m142 0h24m69 0h28m101 0h22m57 0h153M0 303.5h238m152 0h20m72 0h24m106 0h18m59 0h153M0 304.5h238m101 0h11m43 0h14m42 0h5m30 0h17m72 0h9m32 0h13m45 0h7m10 0h153M0 305.5h6m2 0h1m2 0h4m4 0h3m3 0h1m1 0h6m1 0h9m3 0h1m2 0h3m3 0h2m2 0h6m1 0h6m1 0h3m2 0h5m3 0h1m2 0h9m1 0h6m2 0h5m2 0h2m4 0h3m3 0h1m2 0h2m2 0h3m1 0h3m3 0h4m2 0h5m2 0h2m2 0h4m1 0h4m1 0h6m2 0h3m2 0h6m2 0h5m2 0h3m3 0h4m1 0h6m1 0h4m1 0h3m3 0h5m2 0h4m3 0h1m3 0h2m5 0h1m6 0h1m1 0h4m1 0h1m1 0h1m1 0h3m15 0h3m3 0h4m11 0h2m3 0h1m2 0h2m4 0h2m3 0h3m3 0h3m3 0h5m3 0h1m2 0h5m8 0h3m4 0h1m12 0h1m13 0h4m2 0h1m3 0h2m5 0h3m3 0h2m9 0h2m4 0h2m4 0h7m3 0h1m20 0h1m1 0h2m2 0h2m3 0h6m1 0h4m1 0h1m1 0h2m5 0h3m8 0h3m3 0h1m14 0h3m5 0h3m2 0h3m4 0h1m6 0h1m2 0h5m1 0h5m3 0h2m2 0h1m5 0h1m2 0h1m8 0h2m4 0h1m4 0h1m1 0h1m3 0h2m1 0h3m5 0h2m17 0h1m5 0h2m8 0h4m2 0h2m2 0h2m2 0h3m4 0h2m3 0h1m2 0h3m1 0h5m3 0h4m1 0h5m4 0h3m2 0h2m2 0h4m2 0h5m3 0h5m1 0h4m2 0h1m3 0h6m1 0h2m3 0h5m2 0h3m1 0h2m2 0h3m3 0h2m3 0h2m2 0h3m1 0h2m2 0h2m2 0h2m3 0h4m3 0h1m4 0h6M0 306.5h6m2 0h1m2 0h4m4 0h3m3 0h1m1 0h6m2 0h1m2 0h5m3 0h1m2 0h3m3 0h1m4 0h5m2 0h5m1 0h3m2 0h5m3 0h1m3 0h1m2 0h5m1 0h6m2 0h4m4 0h1m4 0h3m3 0h1m2 0h2m3 0h1m3 0h2m3 0h4m2 0h5m2 0h2m2 0h3m3 0h2m2 0h6m2 0h3m2 0h5m3 0h5m2 0h3m3 0h3m3 0h5m1 0h4m2 0h2m3 0h5m3 0h4m1 0h1m3 0h1m2 0h1m3 0h1m6 0h1m1 0h1m4 0h1m2 0h1m15 0h1m6 0h3m3 0h1m4 0h2m11 0h1m3 0h4m2 0h1m30 0h4m1 0h1m6 0h2m3 0h1m6 0h3m3 0h1m2 0h2m7 0h3m3 0h1m5 0h1m3 0h1m3 0h2m9 0h3m9 0h4m12 0h3m2 0h2m2 0h3m7 0h1m3 0h1m6 0h5m9 0h1m12 0h1m2 0h1m3 0h2m10 0h1m8 0h2m3 0h1m2 0h1m7 0h1m2 0h5m19 0h2m5 0h1m11 0h1m5 0h1m7 0h1m6 0h1m1 0h1m4 0h1m4 0h4m2 0h1m2 0h1m3 0h2m5 0h1m2 0h1m2 0h3m19 0h2m2 0h2m3 0h1m2 0h2m3 0h4m3 0h4m1 0h5m4 0h2m4 0h1m2 0h4m2 0h5m3 0h4m3 0h3m2 0h1m3 0h5m3 0h1m3 0h5m2 0h2m2 0h2m2 0h3m3 0h2m3 0h2m2 0h3m1 0h2m2 0h2m2 0h2m3 0h4m3 0h1m4 0h5M0 307.5h6m2 0h1m2 0h4m4 0h3m3 0h1m1 0h6m2 0h1m2 0h5m3 0h1m2 0h3m3 0h1m4 0h5m2 0h5m1 0h3m2 0h5m3 0h1m3 0h1m2 0h5m1 0h6m2 0h4m4 0h1m4 0h3m3 0h1m2 0h2m3 0h1m3 0h2m3 0h4m2 0h5m2 0h2m2 0h3m3 0h2m2 0h6m2 0h3m2 0h5m3 0h5m2 0h3m3 0h3m3 0h5m1 0h4m2 0h2m3 0h5m3 0h4m1 0h1m3 0h1m2 0h1m3 0h1m2 0h5m1 0h1m3 0h1m1 0h1m1 0h1m15 0h1m1 0h2m3 0h2m1 0h1m2 0h1m4 0h2m12 0h1m2 0h3m35 0h2m2 0h1m4 0h1m6 0h1m8 0h2m2 0h1m2 0h2m10 0h1m2 0h1m5 0h1m14 0h1m3 0h2m1 0h1m8 0h1m17 0h2m1 0h2m3 0h2m7 0h1m3 0h1m17 0h1m2 0h1m12 0h4m12 0h1m2 0h1m3 0h1m9 0h1m2 0h1m5 0h2m3 0h1m26 0h1m3 0h2m3 0h1m12 0h1m14 0h1m1 0h1m4 0h1m2 0h4m7 0h1m2 0h3m5 0h1m2 0h5m21 0h1m2 0h2m3 0h1m2 0h2m3 0h4m3 0h4m1 0h5m4 0h2m4 0h1m2 0h4m2 0h5m3 0h4m3 0h3m2 0h1m3 0h5m3 0h1m3 0h5m2 0h2m2 0h2m2 0h3m3 0h2m3 0h2m2 0h3m1 0h2m2 0h2m2 0h2m3 0h4m3 0h1m4 0h5M0 308.5h238m75 0h8m8 0h26m2 0h3m78 0h4m3 0h12m2 0h3m93 0h6m5 0h19m2 0h3m71 0h3m4 0h16m1 0h157M0 309.5h238m72 0h24m18 0h9m76 0h10m9 0h7m90 0h17m13 0h8m68 0h11m12 0h6m1 0h153M0 310.5h238m68 0h20m29 0h7m74 0h8m14 0h6m87 0h14m20 0h7m66 0h9m18 0h2m2 0h153M0 311.5h238m65 0h18m37 0h4m72 0h8m17 0h6m83 0h13m26 0h6m63 0h8m25 0h153M0 312.5h238m61 0h17m117 0h7m21 0h5m80 0h12m31 0h5m61 0h7m27 0h153M0 313.5h238m58 0h16m120 0h6m24 0h4m78 0h11m35 0h5m59 0h6m29 0h153M0 314.5h238m55 0h15m122 0h6m27 0h4m75 0h10m39 0h5m56 0h7m30 0h153M0 315.5h238m52 0h15m124 0h6m29 0h4m72 0h10m42 0h5m54 0h6m32 0h153M0 316.5h238m49 0h14m127 0h6m31 0h4m69 0h9m46 0h5m52 0h6m33 0h153M0 317.5h238m46 0h14m129 0h5m34 0h4m65 0h10m49 0h5m49 0h6m35 0h153M0 318.5h238m43 0h14m131 0h5m36 0h4m62 0h10m52 0h5m47 0h6m36 0h153M0 319.5h238m41 0h12m134 0h5m38 0h3m61 0h9m55 0h4m46 0h6m37 0h153M0 320.5h238m38 0h12m136 0h4m41 0h3m58 0h8m59 0h4m44 0h5m39 0h153M0 321.5h238m36 0h11m138 0h4m43 0h3m55 0h8m62 0h4m42 0h5m40 0h153M0 322.5h238m33 0h10m141 0h4m45 0h3m52 0h7m67 0h3m40 0h4m42 0h153M0 323.5h238m31 0h8m144 0h3m48 0h2m51 0h6m70 0h2m39 0h3m44 0h153M0 324.5h238m29 0h6m147 0h2m51 0h2m48 0h5m74 0h2m37 0h3m45 0h153M0 325.5h238m28 0h2m255 0h1m165 0h153M0 326.5h238m451 0h153M0 327.5h238m451 0h153M0 328.5h238m451 0h153M0 329.5h238m451 0h153M0 330.5h238m451 0h153M0 331.5h238m451 0h153M0 332.5h4m3 0h1m3 0h4m3 0h4m4 0h1m1 0h4m2 0h4m1 0h2m4 0h4m2 0h5m2 0h4m2 0h4m4 0h1m3 0h4m3 0h1m4 0h3m2 0h3m2 0h5m1 0h3m1 0h2m1 0h1m2 0h3m3 0h1m4 0h4m2 0h1m2 0h5m2 0h2m3 0h1m3 0h3m3 0h2m1 0h3m3 0h4m3 0h1m3 0h5m3 0h1m2 0h1m1 0h2m3 0h3m3 0h1m3 0h1m3 0h2m3 0h4m3 0h1m3 0h3m3 0h4m1 0h4m3 0h1m9 0h1m1 0h1m12 0h1m2 0h1m12 0h1m4 0h1m1 0h1m2 0h1m84 0h2m20 0h1m1 0h1m21 0h1m3 0h1m10 0h1m15 0h1m12 0h1m10 0h1m48 0h1m10 0h1m6 0h1m15 0h1m13 0h1m2 0h2m4 0h1m11 0h1m10 0h1m2 0h1m4 0h1m15 0h1m2 0h1m5 0h1m2 0h1m16 0h1m13 0h1m3 0h1m2 0h1m4 0h3m1 0h3m3 0h3m2 0h1m4 0h4m2 0h3m2 0h5m2 0h2m2 0h4m2 0h3m3 0h3m2 0h3m2 0h3m2 0h4m2 0h3m3 0h4m3 0h2m4 0h4m3 0h4m1 0h1m3 0h2m4 0h2m3 0h4m4 0h3m2 0h2m3 0h1m2 0h2m2 0h3m3 0h3M236 333.5h3m3 0h1m9 0h1m1 0h1m12 0h1m25 0h1m84 0h2m20 0h1m1 0h1m21 0h1m14 0h1m15 0h1m12 0h1m59 0h1m10 0h1m6 0h1m15 0h1m13 0h1m8 0h1m46 0h1m2 0h1m5 0h1m2 0h1m30 0h1m3 0h1m2 0h1m3 0h4M0 334.5h4m3 0h1m3 0h4m3 0h4m4 0h1m1 0h4m2 0h4m1 0h2m4 0h4m2 0h5m2 0h4m2 0h4m4 0h1m3 0h4m3 0h1m4 0h3m2 0h3m2 0h5m1 0h3m1 0h2m1 0h1m2 0h3m3 0h1m4 0h4m2 0h1m2 0h5m2 0h2m3 0h1m3 0h3m3 0h2m1 0h3m3 0h4m3 0h1m3 0h5m3 0h1m2 0h1m1 0h2m3 0h3m3 0h1m3 0h1m3 0h2m3 0h4m3 0h1m3 0h3m3 0h4m1 0h4m3 0h1m9 0h1m1 0h1m12 0h1m132 0h1m1 0h1m36 0h1m15 0h1m12 0h1m59 0h1m10 0h1m6 0h1m29 0h1m8 0h1m46 0h1m2 0h1m5 0h1m2 0h1m30 0h1m3 0h1m2 0h1m3 0h4M0 335.5h237m450 0h155M688 336.5h154M687 337.5h155M687 338.5h155M687 339.5h155M687 340.5h155M687 341.5h155M687 342.5h155M687 343.5h155M687 344.5h155M687 345.5h155M687 346.5h155M687 347.5h155M687 348.5h155M687 349.5h155M687 350.5h155M687 351.5h155M687 352.5h155M687 353.5h155M687 354.5h7m2 0h3m2 0h2m2 0h4m1 0h4m2 0h4m2 0h2m1 0h2m1 0h5m1 0h6m1 0h3m3 0h2m2 0h2m3 0h3m3 0h4m2 0h3m2 0h4m3 0h3m2 0h2m3 0h3m2 0h3m3 0h4m3 0h3m2 0h6m3 0h3m2 0h3m3 0h3m3 0h3M687 355.5h7m2 0h3m2 0h2m2 0h4m1 0h4m2 0h4m2 0h2m1 0h2m1 0h5m1 0h6m1 0h3m3 0h2m2 0h2m3 0h3m3 0h4m2 0h3m2 0h4m3 0h3m2 0h2m3 0h3m2 0h3m3 0h4m3 0h3m2 0h6m3 0h3m2 0h3m3 0h3m3 0h3M687 356.5h7m2 0h3m2 0h2m2 0h4m1 0h4m2 0h4m2 0h2m1 0h2m1 0h5m1 0h6m1 0h3m3 0h2m2 0h2m3 0h3m3 0h4m2 0h3m1 0h5m3 0h3m2 0h2m3 0h3m2 0h3m3 0h5m2 0h3m2 0h6m3 0h3m2 0h3m3 0h3m3 0h3M687 357.5h155M687 358.5h155M686 359.5h156M686 360.5h156M38 361.5h3m43 0h3m115 0h2m43 0h4m135 0h2m24 0h2m65 0h1m30 0h3m96 0h1m22 0h2m52 0h12m1 0h78m1 0h37m1 0h26M39 362.5h9m29 0h10m116 0h5m29 0h13m136 0h6m16 0h5m67 0h3m20 0h9m97 0h4m15 0h6m53 0h11m3 0h20m5 0h22m4 0h22m3 0h39m1 0h13m3 0h9M41 363.5h15m11 0h18m119 0h10m11 0h23m139 0h10m6 0h9m68 0h7m8 0h15m100 0h7m6 0h10m54 0h12m4 0h19m9 0h11m9 0h21m4 0h40m3 0h12m5 0h6M43 364.5h39m123 0h40m144 0h22m70 0h27m103 0h20m56 0h12m7 0h18m26 0h20m5 0h42m3 0h12M46 365.5h33m128 0h34m149 0h19m73 0h23m107 0h18m57 0h12m8 0h19m22 0h21m5 0h44m3 0h12M49 366.5h26m78 0h12m44 0h27m101 0h14m41 0h16m40 0h7m29 0h18m70 0h10m32 0h14m43 0h9m6 0h13m9 0h20m17 0h22m5 0h25m7 0h15m3 0h12M26 367.5h2m25 0h17m28 0h1m21 0h1m24 0h24m43 0h17m36 0h2m27 0h2m31 0h28m40 0h10m14 0h1m11 0h1m12 0h14m28 0h11m25 0h1m20 0h1m21 0h20m31 0h9m15 0h1m26 0h32m10 0h23m10 0h23m6 0h21m15 0h12m4 0h14M28 368.5h4m62 0h3m20 0h3m20 0h32m11 0h2m11 0h2m62 0h5m25 0h4m27 0h37m11 0h1m11 0h1m35 0h2m10 0h2m11 0h17m8 0h1m8 0h1m42 0h3m18 0h2m19 0h26m8 0h2m8 0h1m32 0h2m11 0h2m11 0h35m12 0h4m1 0h43m1 0h4m6 0h19m20 0h11m4 0h18M30 369.5h5m56 0h4m19 0h4m19 0h37m11 0h2m11 0h2m56 0h6m25 0h5m24 0h44m10 0h2m10 0h2m32 0h2m10 0h2m10 0h21m7 0h1m7 0h2m38 0h4m17 0h4m16 0h32m7 0h2m8 0h1m29 0h3m11 0h2m10 0h23m5 0h9m13 0h4m2 0h39m1 0h4m6 0h4m1 0h13m24 0h8m1 0h2m3 0h3m1 0h14M33 370.5h5m50 0h5m19 0h4m18 0h42m10 0h2m11 0h3m50 0h6m26 0h5m23 0h49m10 0h2m10 0h3m28 0h2m11 0h2m9 0h24m7 0h1m7 0h2m34 0h5m17 0h4m16 0h35m7 0h2m8 0h2m26 0h2m11 0h2m10 0h25m7 0h7m8 0h1m6 0h4m1 0h36m2 0h4m6 0h3m2 0h12m28 0h7m1 0h2m3 0h3m1 0h13M0 371.5h8m28 0h4m45 0h5m20 0h4m17 0h24m9 0h13m10 0h2m12 0h2m45 0h7m26 0h5m22 0h32m10 0h13m9 0h2m11 0h2m25 0h3m11 0h1m9 0h13m5 0h9m7 0h1m7 0h2m31 0h4m18 0h3m16 0h22m7 0h10m7 0h2m8 0h2m23 0h3m11 0h2m10 0h13m7 0h7m8 0h5m8 0h3m5 0h4m2 0h32m2 0h4m6 0h4m1 0h12m15 0h7m9 0h7m1 0h2m3 0h3m1 0h12M0 372.5h14m25 0h5m37 0h6m21 0h3m17 0h19m21 0h11m9 0h3m11 0h3m39 0h7m27 0h5m21 0h26m24 0h10m9 0h2m11 0h3m22 0h2m11 0h2m9 0h10m12 0h7m6 0h2m7 0h2m26 0h5m19 0h3m16 0h17m17 0h8m7 0h1m9 0h2m20 0h3m12 0h2m9 0h11m16 0h3m8 0h4m8 0h4m6 0h4m2 0h28m2 0h4m7 0h3m2 0h11m12 0h15m7 0h10m3 0h3m1 0h11M11 373.5h7m24 0h5m30 0h6m22 0h4m16 0h17m29 0h9m10 0h2m12 0h4m30 0h8m29 0h5m21 0h22m34 0h9m8 0h2m12 0h3m17 0h4m11 0h2m9 0h9m16 0h6m6 0h1m9 0h2m21 0h5m20 0h3m15 0h16m23 0h7m7 0h1m9 0h3m16 0h3m12 0h2m10 0h9m21 0h2m9 0h2m8 0h1m1 0h3m7 0h4m3 0h22m3 0h5m6 0h4m1 0h12m10 0h20m6 0h9m4 0h3m2 0h9M16 374.5h5m24 0h7m20 0h8m23 0h4m16 0h16m34 0h9m9 0h2m13 0h5m20 0h11m30 0h5m21 0h20m41 0h8m9 0h2m12 0h4m12 0h4m12 0h2m8 0h9m19 0h6m6 0h1m9 0h3m14 0h7m21 0h3m15 0h14m29 0h6m7 0h1m10 0h3m10 0h5m13 0h2m9 0h9m23 0h3m9 0h1m8 0h2m1 0h4m6 0h6m3 0h16m3 0h6m7 0h3m2 0h11m10 0h23m6 0h6m1 0h2m4 0h4m2 0h7M19 375.5h5m25 0h26m26 0h3m16 0h15m40 0h8m9 0h2m15 0h27m33 0h5m21 0h19m46 0h8m9 0h2m13 0h15m14 0h2m8 0h8m22 0h6m6 0h1m10 0h18m23 0h3m15 0h13m33 0h6m7 0h1m11 0h13m15 0h2m9 0h8m26 0h4m16 0h3m2 0h3m7 0h7m5 0h5m6 0h6m8 0h4m1 0h12m9 0h26m6 0h6m1 0h2m5 0h4m3 0h4M23 376.5h4m28 0h13m30 0h4m16 0h14m45 0h8m9 0h2m17 0h14m39 0h5m21 0h18m52 0h8m8 0h2m16 0h8m15 0h2m9 0h7m26 0h5m6 0h1m11 0h10m27 0h3m15 0h12m38 0h5m7 0h1m12 0h8m16 0h3m9 0h8m27 0h6m5 0h1m8 0h5m1 0h4m8 0h9m5 0h10m8 0h4m2 0h11m9 0h29m6 0h6m1 0h2m5 0h6M25 377.5h5m66 0h4m16 0h13m49 0h8m9 0h2m65 0h6m21 0h17m58 0h7m8 0h2m37 0h2m9 0h7m28 0h5m6 0h1m44 0h4m15 0h12m41 0h5m7 0h1m34 0h2m9 0h8m29 0h8m12 0h6m2 0h4m8 0h19m9 0h5m1 0h12m8 0h33m4 0h7m1 0h2m6 0h8M28 378.5h5m60 0h4m17 0h13m28 0h9m16 0h7m9 0h3m60 0h5m22 0h17m37 0h10m15 0h7m9 0h2m34 0h2m8 0h7m15 0h5m11 0h4m7 0h1m41 0h4m15 0h11m26 0h7m12 0h5m7 0h1m32 0h2m9 0h8m15 0h7m7 0h10m10 0h9m1 0h5m10 0h11m12 0h4m2 0h11m8 0h36m4 0h7m1 0h3m6 0h6M31 379.5h4m55 0h5m16 0h13m23 0h21m13 0h7m10 0h2m55 0h6m22 0h17m30 0h24m12 0h7m9 0h2m31 0h3m8 0h7m12 0h12m8 0h5m6 0h2m38 0h4m14 0h12m21 0h17m10 0h5m7 0h1m29 0h2m10 0h7m13 0h16m1 0h13m8 0h10m2 0h5m28 0h5m2 0h12m8 0h16m12 0h9m5 0h7m1 0h3M0 380.5h11m23 0h4m49 0h5m17 0h13m20 0h9m15 0h5m11 0h8m9 0h3m50 0h6m22 0h16m27 0h12m17 0h5m11 0h6m9 0h3m28 0h2m9 0h7m11 0h4m9 0h3m7 0h5m6 0h2m34 0h4m15 0h12m19 0h7m13 0h3m9 0h5m7 0h2m25 0h3m10 0h7m11 0h5m11 0h17m9 0h11m2 0h5m24 0h5m2 0h12m8 0h15m3 0h12m2 0h8m5 0h7m1 0h3M0 381.5h16m20 0h5m43 0h5m18 0h12m20 0h6m24 0h4m11 0h7m10 0h3m43 0h7m23 0h16m25 0h9m28 0h4m10 0h7m9 0h3m24 0h3m9 0h7m10 0h3m14 0h2m7 0h5m7 0h1m30 0h5m15 0h12m17 0h6m20 0h3m8 0h5m7 0h2m23 0h2m10 0h7m11 0h4m18 0h13m10 0h12m2 0h5m19 0h6m2 0h13m7 0h14m3 0h17m1 0h8m5 0h7m1 0h4M0 382.5h19m20 0h5m37 0h5m18 0h13m18 0h6m31 0h3m10 0h7m11 0h3m37 0h7m24 0h16m24 0h7m36 0h3m10 0h7m10 0h3m20 0h3m10 0h6m10 0h3m17 0h2m7 0h5m7 0h2m25 0h5m16 0h12m16 0h5m26 0h2m8 0h5m7 0h2m20 0h3m10 0h7m10 0h3m22 0h2m2 0h8m12 0h12m2 0h7m11 0h8m2 0h13m8 0h13m2 0h8m9 0h4m2 0h7m5 0h7m2 0h4M0 383.5h23m19 0h6m28 0h7m19 0h13m17 0h5m37 0h3m9 0h8m11 0h3m29 0h9m25 0h16m23 0h7m42 0h3m9 0h7m10 0h4m16 0h3m10 0h7m9 0h3m21 0h1m7 0h5m7 0h2m20 0h6m17 0h12m15 0h5m30 0h2m8 0h5m8 0h2m15 0h4m11 0h7m10 0h2m25 0h3m2 0h6m13 0h13m2 0h21m3 0h14m7 0h13m2 0h6m15 0h4m1 0h7m5 0h8m1 0h9M0 384.5h25m21 0h7m17 0h9m21 0h13m16 0h5m42 0h2m10 0h7m12 0h5m17 0h12m27 0h16m22 0h6m49 0h3m9 0h6m11 0h5m10 0h4m11 0h7m9 0h2m24 0h2m6 0h5m7 0h3m13 0h7m19 0h12m15 0h4m35 0h2m7 0h5m8 0h4m9 0h5m11 0h7m10 0h3m27 0h4m2 0h4m15 0h13m4 0h14m3 0h15m8 0h12m2 0h5m20 0h3m1 0h7m5 0h8m2 0h7M7 385.5h21m22 0h24m23 0h13m17 0h4m46 0h3m9 0h7m13 0h25m30 0h17m22 0h6m54 0h2m9 0h7m12 0h14m12 0h7m8 0h3m26 0h2m6 0h5m8 0h17m21 0h12m14 0h4m39 0h2m6 0h6m9 0h13m13 0h7m10 0h2m30 0h5m2 0h2m7 0h1m8 0h16m14 0h16m8 0h12m2 0h5m23 0h3m1 0h7m5 0h9M13 386.5h18m25 0h11m28 0h13m16 0h4m51 0h2m9 0h8m16 0h10m37 0h17m22 0h5m59 0h2m9 0h7m15 0h6m15 0h7m8 0h2m29 0h1m7 0h4m11 0h7m26 0h11m15 0h4m42 0h2m6 0h6m11 0h6m15 0h8m9 0h2m34 0h5m1 0h1m7 0h3m8 0h43m8 0h11m2 0h4m12 0h9m6 0h3m1 0h7m4 0h16M17 387.5h17m58 0h14m16 0h4m54 0h2m10 0h7m59 0h17m21 0h6m64 0h2m8 0h7m33 0h7m9 0h2m31 0h1m6 0h5m40 0h12m15 0h4m45 0h2m6 0h6m30 0h8m9 0h2m37 0h4m8 0h4m8 0h40m8 0h12m1 0h5m9 0h15m6 0h2m1 0h7m4 0h15M21 388.5h15m53 0h14m16 0h4m30 0h12m17 0h2m9 0h8m53 0h18m21 0h5m39 0h14m16 0h2m8 0h8m30 0h7m9 0h2m15 0h7m11 0h1m6 0h5m37 0h12m15 0h3m27 0h10m12 0h2m6 0h6m27 0h8m9 0h3m16 0h9m15 0h3m7 0h6m8 0h36m9 0h11m2 0h4m8 0h10m4 0h6m5 0h2m1 0h6m6 0h13M24 389.5h15m47 0h15m16 0h4m25 0h23m14 0h2m9 0h9m47 0h19m21 0h5m33 0h27m13 0h2m9 0h8m26 0h8m8 0h2m14 0h12m10 0h1m6 0h6m32 0h13m15 0h3m23 0h19m10 0h2m6 0h6m25 0h8m9 0h2m15 0h16m1 0h5m7 0h1m7 0h7m9 0h32m9 0h12m1 0h4m8 0h6m6 0h4m3 0h4m5 0h2m1 0h6m6 0h12M27 390.5h15m41 0h16m16 0h3m24 0h8m17 0h4m13 0h2m10 0h9m41 0h20m21 0h5m30 0h11m20 0h4m12 0h2m9 0h8m23 0h9m8 0h2m12 0h4m10 0h3m9 0h1m6 0h6m28 0h14m15 0h3m21 0h7m14 0h4m9 0h2m6 0h7m21 0h9m9 0h2m13 0h5m12 0h10m13 0h9m9 0h28m10 0h11m2 0h3m7 0h6m3 0h13m2 0h4m4 0h2m1 0h6m6 0h11M29 391.5h17m33 0h17m17 0h3m22 0h6m26 0h3m13 0h2m9 0h10m34 0h22m21 0h5m29 0h8m30 0h3m12 0h2m8 0h9m19 0h9m9 0h2m11 0h4m14 0h2m9 0h1m6 0h6m23 0h16m15 0h3m20 0h5m22 0h2m9 0h2m6 0h7m18 0h9m10 0h2m12 0h3m19 0h3m1 0h4m12 0h10m10 0h24m10 0h12m1 0h4m6 0h5m3 0h18m2 0h3m4 0h9m6 0h10M0 392.5h7m25 0h18m24 0h20m16 0h4m21 0h5m32 0h3m12 0h2m9 0h11m25 0h26m21 0h5m27 0h7m38 0h3m11 0h2m9 0h10m14 0h10m9 0h2m11 0h2m19 0h2m7 0h2m6 0h7m17 0h17m16 0h3m19 0h5m26 0h2m9 0h1m7 0h8m13 0h11m9 0h2m12 0h3m22 0h3m2 0h4m11 0h11m11 0h18m12 0h11m2 0h3m7 0h4m2 0h23m1 0h3m3 0h10m7 0h8M0 393.5h13m22 0h21m11 0h24m17 0h4m20 0h5m37 0h3m11 0h2m10 0h14m10 0h32m22 0h5m26 0h7m44 0h2m11 0h2m9 0h13m6 0h13m9 0h1m11 0h3m21 0h2m7 0h1m7 0h9m7 0h22m16 0h3m18 0h4m32 0h2m8 0h1m7 0h10m6 0h13m10 0h2m11 0h3m24 0h5m2 0h4m8 0h1m1 0h11m14 0h9m15 0h12m1 0h4m6 0h4m2 0h26m1 0h3m3 0h2m1 0h7m9 0h5M10 394.5h7m21 0h50m18 0h3m20 0h5m42 0h2m12 0h2m10 0h50m23 0h5m26 0h6m49 0h3m10 0h2m10 0h28m9 0h2m11 0h2m24 0h2m7 0h1m7 0h34m16 0h4m17 0h5m35 0h2m8 0h1m8 0h26m10 0h2m11 0h2m27 0h6m1 0h4m7 0h2m2 0h11m34 0h12m2 0h3m6 0h4m2 0h29m1 0h3m3 0h2m1 0h7M15 395.5h6m19 0h45m18 0h4m19 0h5m46 0h3m11 0h2m10 0h45m24 0h5m25 0h6m55 0h2m10 0h2m10 0h25m10 0h2m10 0h2m27 0h2m7 0h1m7 0h31m16 0h4m17 0h4m39 0h2m8 0h1m8 0h23m10 0h2m11 0h3m28 0h7m2 0h2m7 0h4m1 0h12m30 0h13m1 0h4m6 0h4m1 0h32m1 0h3m3 0h2m1 0h8M19 396.5h5m20 0h37m20 0h4m19 0h4m51 0h2m11 0h2m11 0h39m25 0h5m25 0h5m60 0h3m10 0h2m10 0h22m10 0h2m10 0h2m29 0h2m7 0h1m7 0h26m18 0h4m17 0h4m42 0h2m8 0h1m8 0h20m11 0h2m11 0h2m30 0h9m11 0h3m1 0h13m25 0h14m2 0h3m6 0h4m2 0h34m1 0h2m4 0h2m1 0h8M22 397.5h5m20 0h30m22 0h3m19 0h4m25 0h17m13 0h3m10 0h3m12 0h30m28 0h5m25 0h5m32 0h20m13 0h2m10 0h2m11 0h17m12 0h2m10 0h2m12 0h10m9 0h1m8 0h1m8 0h21m19 0h4m17 0h3m22 0h14m10 0h2m8 0h1m9 0h16m12 0h2m11 0h2m14 0h12m4 0h13m9 0h4m1 0h14m20 0h15m1 0h4m6 0h3m2 0h17m10 0h10m1 0h2m4 0h2m1 0h9M25 398.5h4m23 0h20m24 0h4m19 0h4m21 0h26m12 0h2m11 0h2m14 0h20m32 0h5m25 0h5m28 0h30m11 0h2m10 0h2m13 0h12m12 0h2m10 0h2m12 0h14m8 0h1m8 0h1m9 0h14m22 0h3m17 0h4m19 0h22m8 0h2m8 0h1m10 0h10m14 0h2m11 0h2m12 0h33m1 0h4m5 0h4m1 0h17m12 0h17m2 0h3m6 0h4m1 0h15m16 0h9m1 0h2m4 0h2m1 0h10M28 399.5h4m62 0h4m19 0h3m20 0h32m11 0h2m11 0h2m62 0h5m25 0h5m25 0h38m10 0h2m10 0h3m34 0h2m10 0h2m10 0h19m7 0h1m7 0h2m41 0h4m17 0h4m18 0h26m8 0h2m8 0h1m32 0h2m11 0h2m11 0h37m1 0h3m6 0h3m2 0h42m2 0h4m6 0h3m2 0h14m20 0h8m1 0h2m4 0h2m1 0h15M30 400.5h5m56 0h4m19 0h4m19 0h37m11 0h2m11 0h2m56 0h6m25 0h5m24 0h44m10 0h2m10 0h2m32 0h2m10 0h2m10 0h21m7 0h1m7 0h2m38 0h4m17 0h4m16 0h32m7 0h2m8 0h1m29 0h3m11 0h2m10 0h23m5 0h12m1 0h4m5 0h4m2 0h39m1 0h4m6 0h4m1 0h13m24 0h8m1 0h2m3 0h3m1 0h14M33 401.5h5m50 0h5m19 0h4m18 0h42m10 0h2m11 0h3m50 0h6m26 0h5m23 0h49m10 0h2m10 0h3m28 0h2m11 0h2m9 0h24m7 0h1m7 0h2m34 0h5m17 0h4m16 0h35m7 0h2m8 0h2m26 0h2m11 0h2m10 0h25m7 0h11m2 0h3m6 0h4m1 0h36m2 0h4m6 0h3m2 0h12m28 0h7m1 0h2m3 0h3m1 0h13M0 402.5h8m28 0h4m45 0h5m20 0h4m17 0h24m9 0h13m10 0h2m12 0h2m45 0h7m26 0h5m22 0h32m10 0h13m9 0h2m11 0h2m25 0h3m11 0h1m9 0h13m5 0h9m7 0h1m7 0h2m31 0h4m18 0h3m16 0h22m7 0h10m7 0h2m8 0h2m23 0h3m11 0h2m10 0h13m7 0h7m8 0h11m1 0h4m5 0h4m2 0h32m2 0h4m6 0h4m1 0h12m15 0h7m9 0h7m1 0h2m3 0h3m1 0h12M0 403.5h14m25 0h5m37 0h6m21 0h3m17 0h19m21 0h11m9 0h3m11 0h3m39 0h7m27 0h5m21 0h26m24 0h10m9 0h2m11 0h3m22 0h2m11 0h2m9 0h10m12 0h7m6 0h2m7 0h2m26 0h5m19 0h3m16 0h17m17 0h8m7 0h1m9 0h2m20 0h3m12 0h2m9 0h11m16 0h3m8 0h11m1 0h4m6 0h4m2 0h28m2 0h4m7 0h3m2 0h11m12 0h15m7 0h10m3 0h3m1 0h11M11 404.5h7m24 0h5m30 0h6m22 0h4m16 0h17m29 0h9m10 0h2m12 0h4m30 0h8m29 0h5m21 0h22m34 0h9m8 0h2m12 0h3m17 0h4m11 0h2m9 0h9m16 0h6m6 0h1m9 0h2m21 0h5m20 0h3m15 0h16m23 0h7m7 0h1m9 0h3m16 0h3m12 0h2m10 0h9m21 0h2m9 0h11m1 0h3m7 0h4m3 0h22m3 0h5m6 0h4m1 0h12m10 0h20m6 0h9m4 0h3m2 0h9M16 405.5h5m24 0h7m20 0h8m23 0h4m16 0h16m34 0h9m9 0h2m13 0h5m20 0h11m30 0h5m21 0h20m41 0h8m9 0h2m12 0h4m12 0h4m12 0h2m8 0h9m19 0h6m6 0h1m9 0h3m14 0h7m21 0h3m15 0h14m29 0h6m7 0h1m10 0h3m10 0h5m13 0h2m9 0h9m23 0h3m9 0h11m1 0h4m6 0h6m3 0h16m3 0h6m7 0h3m2 0h11m10 0h23m6 0h6m1 0h2m4 0h4m2 0h7M19 406.5h5m25 0h26m26 0h3m16 0h15m40 0h8m9 0h2m15 0h27m33 0h5m21 0h19m46 0h8m9 0h2m13 0h15m14 0h2m8 0h8m22 0h6m6 0h1m10 0h18m23 0h3m15 0h13m33 0h6m7 0h1m11 0h13m15 0h2m9 0h8m26 0h4m9 0h10m2 0h3m7 0h7m5 0h5m6 0h6m8 0h4m1 0h12m9 0h26m6 0h6m1 0h2m5 0h4m3 0h4M23 407.5h4m28 0h13m30 0h4m16 0h14m45 0h8m9 0h2m17 0h14m39 0h5m21 0h18m52 0h8m8 0h2m16 0h8m15 0h2m9 0h7m26 0h5m6 0h1m11 0h10m27 0h3m15 0h12m38 0h5m7 0h1m12 0h8m16 0h3m9 0h8m27 0h6m8 0h11m1 0h4m8 0h9m5 0h10m8 0h4m2 0h11m9 0h29m6 0h6m1 0h2m5 0h6M25 408.5h5m66 0h4m16 0h13m49 0h8m9 0h2m65 0h6m21 0h17m58 0h7m8 0h2m37 0h2m9 0h7m28 0h5m6 0h1m44 0h4m15 0h12m41 0h5m7 0h1m34 0h2m9 0h8m29 0h8m8 0h10m2 0h4m8 0h19m9 0h5m1 0h12m8 0h33m4 0h7m1 0h2m6 0h8M28 409.5h5m60 0h4m17 0h13m28 0h9m16 0h7m9 0h3m60 0h5m22 0h17m37 0h10m15 0h7m9 0h2m34 0h2m8 0h7m15 0h5m11 0h4m7 0h1m41 0h4m15 0h11m26 0h7m12 0h5m7 0h1m32 0h2m9 0h8m15 0h7m7 0h10m8 0h11m1 0h5m10 0h11m12 0h4m2 0h11m8 0h36m4 0h7m1 0h3m6 0h6M31 410.5h4m55 0h5m16 0h13m23 0h21m13 0h7m10 0h2m55 0h6m22 0h17m30 0h24m12 0h7m9 0h2m31 0h3m8 0h7m12 0h12m8 0h5m6 0h2m38 0h4m14 0h12m21 0h17m10 0h5m7 0h1m29 0h2m10 0h7m13 0h16m1 0h13m8 0h10m2 0h5m28 0h5m2 0h12m8 0h16m12 0h9m5 0h7m1 0h3M0 411.5h11m23 0h4m49 0h5m17 0h13m20 0h9m15 0h5m11 0h8m9 0h3m50 0h6m22 0h16m27 0h12m17 0h5m11 0h6m9 0h3m28 0h2m9 0h7m11 0h4m9 0h3m7 0h5m6 0h2m34 0h4m15 0h12m19 0h7m13 0h3m9 0h5m7 0h2m25 0h3m10 0h7m11 0h5m11 0h18m8 0h11m2 0h5m24 0h5m2 0h12m8 0h15m3 0h12m2 0h8m5 0h7m1 0h3M0 412.5h16m20 0h5m43 0h5m18 0h12m20 0h6m24 0h4m11 0h7m10 0h3m43 0h7m23 0h16m25 0h9m28 0h4m10 0h7m9 0h3m24 0h3m9 0h7m10 0h3m14 0h2m7 0h5m7 0h1m30 0h5m15 0h12m17 0h6m20 0h3m8 0h5m7 0h2m23 0h2m10 0h7m11 0h4m18 0h16m7 0h12m2 0h5m19 0h6m2 0h13m7 0h14m3 0h17m1 0h8m5 0h7m1 0h4M0 413.5h19m20 0h5m37 0h5m18 0h13m18 0h6m31 0h3m10 0h7m11 0h3m37 0h7m24 0h16m24 0h7m36 0h3m10 0h7m10 0h3m20 0h3m10 0h6m10 0h3m17 0h2m7 0h5m7 0h2m25 0h5m16 0h12m16 0h5m26 0h2m8 0h5m7 0h2m20 0h3m10 0h7m10 0h3m22 0h2m2 0h12m8 0h12m2 0h7m11 0h8m2 0h13m8 0h13m2 0h8m9 0h4m2 0h7m5 0h7m2 0h4M0 414.5h23m19 0h6m28 0h7m19 0h13m17 0h5m37 0h3m9 0h8m11 0h3m29 0h9m25 0h16m23 0h7m42 0h3m9 0h7m10 0h4m16 0h3m10 0h7m9 0h3m21 0h1m7 0h5m7 0h2m20 0h6m17 0h12m15 0h5m30 0h2m8 0h5m8 0h2m15 0h4m11 0h7m10 0h2m25 0h3m2 0h12m7 0h13m2 0h21m3 0h14m7 0h13m2 0h6m15 0h4m1 0h7m5 0h8m1 0h9M0 415.5h25m21 0h7m17 0h9m21 0h13m16 0h5m42 0h2m10 0h7m12 0h5m17 0h12m27 0h16m22 0h6m49 0h3m9 0h6m11 0h5m10 0h4m11 0h7m9 0h2m24 0h2m6 0h5m7 0h3m13 0h7m19 0h12m15 0h4m35 0h2m7 0h5m8 0h4m9 0h5m11 0h7m10 0h3m27 0h4m2 0h11m8 0h13m4 0h14m3 0h15m8 0h12m2 0h5m20 0h3m1 0h7m5 0h8m2 0h7M7 416.5h21m22 0h24m23 0h13m17 0h4m46 0h3m9 0h7m13 0h25m30 0h17m22 0h6m54 0h2m9 0h7m12 0h14m12 0h7m8 0h3m26 0h2m6 0h5m8 0h17m21 0h12m14 0h4m39 0h2m6 0h6m9 0h13m13 0h7m10 0h2m30 0h5m2 0h10m8 0h16m14 0h16m8 0h12m2 0h5m23 0h3m1 0h7m5 0h9M13 417.5h18m25 0h11m28 0h13m16 0h4m51 0h2m9 0h8m16 0h10m37 0h17m22 0h5m59 0h2m9 0h7m15 0h6m15 0h7m8 0h2m29 0h1m7 0h4m11 0h7m26 0h11m15 0h4m42 0h2m6 0h6m11 0h6m15 0h8m9 0h2m34 0h5m1 0h11m8 0h43m8 0h11m2 0h4m12 0h9m6 0h3m1 0h7m4 0h16M17 418.5h17m58 0h14m16 0h4m54 0h2m10 0h7m59 0h17m21 0h6m64 0h2m8 0h7m33 0h7m9 0h2m31 0h1m6 0h5m40 0h12m15 0h4m45 0h2m6 0h6m30 0h8m9 0h2m37 0h4m2 0h10m8 0h40m8 0h12m1 0h5m9 0h15m6 0h2m1 0h7m4 0h15M21 419.5h15m53 0h14m16 0h4m30 0h12m17 0h2m9 0h8m53 0h18m21 0h5m39 0h14m16 0h2m8 0h8m30 0h7m9 0h2m15 0h7m11 0h1m6 0h5m37 0h12m15 0h3m27 0h10m12 0h2m6 0h6m27 0h8m9 0h3m16 0h9m15 0h4m1 0h11m8 0h36m9 0h11m2 0h4m8 0h10m4 0h6m5 0h2m1 0h6m6 0h13M24 420.5h15m47 0h15m16 0h4m25 0h23m14 0h2m9 0h9m47 0h19m21 0h5m33 0h27m13 0h2m9 0h8m26 0h8m8 0h2m14 0h12m10 0h1m6 0h6m32 0h13m15 0h3m23 0h19m10 0h2m6 0h6m25 0h8m9 0h2m15 0h16m1 0h5m7 0h3m2 0h10m9 0h32m9 0h12m1 0h4m8 0h6m6 0h4m3 0h4m5 0h2m1 0h6m6 0h12M27 421.5h15m41 0h16m16 0h3m24 0h8m17 0h4m13 0h2m10 0h9m41 0h20m21 0h5m30 0h11m20 0h4m12 0h2m9 0h8m23 0h9m8 0h2m12 0h4m10 0h3m9 0h1m6 0h6m28 0h14m15 0h3m21 0h7m14 0h4m9 0h2m6 0h7m21 0h9m9 0h2m13 0h5m12 0h10m6 0h4m1 0h11m9 0h28m10 0h11m2 0h3m7 0h6m3 0h13m2 0h4m4 0h2m1 0h6m6 0h11M29 422.5h17m33 0h17m17 0h3m22 0h6m26 0h3m13 0h2m9 0h10m34 0h22m21 0h5m29 0h8m30 0h3m12 0h2m8 0h9m19 0h9m9 0h2m11 0h4m14 0h2m9 0h1m6 0h6m23 0h16m15 0h3m20 0h5m22 0h2m9 0h2m6 0h7m18 0h9m10 0h2m12 0h3m19 0h3m1 0h4m7 0h3m1 0h11m10 0h24m10 0h12m1 0h4m6 0h5m3 0h18m2 0h3m4 0h9m6 0h10M0 423.5h7m25 0h18m24 0h20m16 0h4m21 0h5m32 0h3m12 0h2m9 0h11m25 0h26m21 0h5m27 0h7m38 0h3m11 0h2m9 0h10m14 0h10m9 0h2m11 0h2m19 0h2m7 0h2m6 0h7m17 0h17m16 0h3m19 0h5m26 0h2m9 0h1m7 0h8m13 0h11m9 0h2m12 0h3m22 0h3m2 0h4m6 0h4m1 0h11m11 0h18m12 0h11m2 0h3m7 0h4m2 0h23m1 0h3m3 0h10m7 0h8M0 424.5h13m22 0h21m11 0h24m17 0h4m20 0h5m37 0h3m11 0h2m10 0h14m10 0h32m22 0h5m26 0h7m44 0h2m11 0h2m9 0h13m6 0h13m9 0h1m11 0h3m21 0h2m7 0h1m7 0h9m7 0h22m16 0h3m18 0h4m32 0h2m8 0h1m7 0h10m6 0h13m10 0h2m11 0h3m24 0h5m2 0h4m5 0h4m1 0h11m14 0h9m15 0h12m1 0h4m6 0h4m2 0h26m1 0h3m3 0h2m1 0h7m9 0h5M10 425.5h7m21 0h50m18 0h3m20 0h5m42 0h2m12 0h2m10 0h50m23 0h5m26 0h6m49 0h3m10 0h2m10 0h28m9 0h2m11 0h2m24 0h2m7 0h1m7 0h34m16 0h4m17 0h5m35 0h2m8 0h1m8 0h26m10 0h2m11 0h2m27 0h6m1 0h4m6 0h3m2 0h11m34 0h12m2 0h3m6 0h4m2 0h29m1 0h3m3 0h2m1 0h7M15 426.5h6m19 0h45m18 0h4m19 0h5m46 0h3m11 0h2m10 0h45m24 0h5m25 0h6m55 0h2m10 0h2m10 0h25m10 0h2m10 0h2m27 0h2m7 0h1m7 0h31m16 0h4m17 0h4m39 0h2m8 0h1m8 0h23m10 0h2m11 0h3m28 0h7m2 0h4m5 0h4m1 0h12m30 0h13m1 0h4m6 0h4m1 0h32m1 0h3m3 0h2m1 0h8M19 427.5h5m20 0h37m20 0h4m19 0h4m51 0h2m11 0h2m11 0h39m25 0h5m25 0h5m60 0h3m10 0h2m10 0h22m10 0h2m10 0h2m29 0h2m7 0h1m7 0h26m18 0h4m17 0h4m42 0h2m8 0h1m8 0h20m11 0h2m11 0h2m30 0h9m2 0h3m6 0h3m1 0h13m25 0h14m2 0h3m6 0h4m2 0h34m1 0h2m4 0h2m1 0h8M22 428.5h5m20 0h30m22 0h3m19 0h4m25 0h17m13 0h3m10 0h3m12 0h30m28 0h5m25 0h5m32 0h20m13 0h2m10 0h2m11 0h17m12 0h2m10 0h2m12 0h10m9 0h1m8 0h1m8 0h21m19 0h4m17 0h3m22 0h14m10 0h2m8 0h1m9 0h16m12 0h2m11 0h2m14 0h12m4 0h12m1 0h4m5 0h4m1 0h14m20 0h15m1 0h4m6 0h3m2 0h17m10 0h10m1 0h2m4 0h2m1 0h9M25 429.5h4m23 0h20m24 0h4m19 0h4m21 0h26m12 0h2m11 0h2m14 0h20m32 0h5m25 0h5m28 0h30m11 0h2m10 0h2m13 0h12m12 0h2m10 0h2m12 0h14m8 0h1m8 0h1m9 0h14m22 0h3m17 0h4m19 0h22m8 0h2m8 0h1m10 0h10m14 0h2m11 0h2m12 0h33m1 0h4m5 0h4m1 0h17m12 0h17m2 0h3m6 0h4m1 0h15m16 0h9m1 0h2m4 0h2m1 0h10M28 430.5h4m62 0h4m19 0h3m20 0h32m11 0h2m11 0h2m62 0h5m25 0h5m25 0h38m10 0h2m10 0h3m34 0h2m10 0h2m10 0h19m7 0h1m7 0h2m41 0h4m17 0h4m18 0h26m8 0h2m8 0h1m32 0h2m11 0h2m11 0h37m1 0h3m6 0h3m2 0h42m2 0h4m6 0h3m2 0h14m20 0h8m1 0h2m4 0h2m1 0h15M30 431.5h5m56 0h4m19 0h4m19 0h37m11 0h2m11 0h2m56 0h6m25 0h5m24 0h44m10 0h2m10 0h2m32 0h2m10 0h2m10 0h21m7 0h1m7 0h2m38 0h4m17 0h4m16 0h32m7 0h2m8 0h1m29 0h3m11 0h2m10 0h23m5 0h12m1 0h4m5 0h4m2 0h39m1 0h4m6 0h4m1 0h13m24 0h8m1 0h2m3 0h3m1 0h14M33 432.5h5m50 0h5m19 0h4m18 0h42m10 0h2m11 0h3m50 0h6m26 0h5m23 0h49m10 0h2m10 0h3m28 0h2m11 0h2m9 0h24m7 0h1m7 0h2m34 0h5m17 0h4m16 0h35m7 0h2m8 0h2m26 0h2m11 0h2m10 0h25m7 0h11m2 0h3m6 0h4m1 0h36m2 0h4m6 0h3m2 0h12m28 0h7m1 0h2m3 0h3m1 0h13M0 433.5h8m28 0h4m45 0h5m20 0h4m17 0h24m9 0h13m10 0h2m12 0h2m45 0h7m26 0h5m22 0h32m10 0h13m9 0h2m11 0h2m25 0h3m11 0h1m9 0h13m5 0h9m7 0h1m7 0h2m31 0h4m18 0h3m16 0h22m7 0h10m7 0h2m8 0h2m23 0h3m11 0h2m10 0h13m7 0h7m8 0h11m1 0h4m5 0h4m2 0h32m2 0h4m6 0h4m1 0h12m15 0h7m9 0h7m1 0h2m3 0h3m1 0h12M0 434.5h14m25 0h5m37 0h6m21 0h3m17 0h19m21 0h11m9 0h3m11 0h3m39 0h7m27 0h5m21 0h26m24 0h10m9 0h2m11 0h3m22 0h2m11 0h2m9 0h10m12 0h7m6 0h2m7 0h2m26 0h5m19 0h3m16 0h17m17 0h8m7 0h1m9 0h2m20 0h3m12 0h2m9 0h11m16 0h3m8 0h11m1 0h4m6 0h4m2 0h28m2 0h4m7 0h3m2 0h11m12 0h15m7 0h10m3 0h3m1 0h11M11 435.5h7m24 0h5m30 0h6m22 0h4m16 0h17m29 0h9m10 0h2m12 0h4m30 0h8m29 0h5m21 0h22m34 0h9m8 0h2m12 0h3m17 0h4m11 0h2m9 0h9m16 0h6m6 0h1m9 0h2m21 0h5m20 0h3m15 0h16m23 0h7m7 0h1m9 0h3m16 0h3m12 0h2m10 0h9m21 0h2m9 0h11m1 0h3m7 0h4m3 0h22m3 0h5m6 0h4m1 0h12m10 0h20m6 0h9m4 0h3m2 0h9M16 436.5h5m24 0h7m20 0h8m23 0h4m16 0h16m34 0h9m9 0h2m13 0h5m20 0h11m30 0h5m21 0h20m41 0h8m9 0h2m12 0h4m12 0h4m12 0h2m8 0h9m19 0h6m6 0h1m9 0h3m14 0h7m21 0h3m15 0h14m29 0h6m7 0h1m10 0h3m10 0h5m13 0h2m9 0h9m23 0h3m9 0h11m1 0h4m6 0h6m3 0h16m3 0h6m7 0h3m2 0h11m10 0h23m6 0h6m1 0h2m4 0h4m2 0h7M19 437.5h5m25 0h26m26 0h3m16 0h15m40 0h8m9 0h2m15 0h27m33 0h5m21 0h19m46 0h8m9 0h2m13 0h15m14 0h2m8 0h8m22 0h6m6 0h1m10 0h18m23 0h3m15 0h13m33 0h6m7 0h1m11 0h13m15 0h2m9 0h8m26 0h4m9 0h10m2 0h3m7 0h7m5 0h5m6 0h6m8 0h4m1 0h12m9 0h26m6 0h6m1 0h2m5 0h4m3 0h4M23 438.5h4m28 0h13m30 0h4m16 0h14m45 0h8m9 0h2m17 0h14m39 0h5m21 0h18m52 0h8m8 0h2m16 0h8m15 0h2m9 0h7m26 0h5m6 0h1m11 0h10m27 0h3m15 0h12m38 0h5m7 0h1m12 0h8m16 0h3m9 0h8m27 0h6m8 0h11m1 0h4m8 0h9m5 0h10m8 0h4m2 0h11m9 0h29m6 0h6m1 0h2m5 0h6M25 439.5h5m66 0h4m16 0h13m49 0h8m9 0h2m65 0h6m21 0h17m58 0h7m8 0h2m37 0h2m9 0h7m28 0h5m6 0h1m44 0h4m15 0h12m41 0h5m7 0h1m34 0h2m9 0h8m29 0h8m8 0h10m2 0h4m8 0h19m9 0h5m1 0h12m8 0h33m4 0h7m1 0h2m6 0h8M28 440.5h5m60 0h4m17 0h13m28 0h9m16 0h7m9 0h3m60 0h5m22 0h17m37 0h10m15 0h7m9 0h2m34 0h2m8 0h7m15 0h5m11 0h4m7 0h1m41 0h4m15 0h11m26 0h7m12 0h5m7 0h1m32 0h2m9 0h8m15 0h7m7 0h10m8 0h11m1 0h5m10 0h11m12 0h4m2 0h11m8 0h36m4 0h7m1 0h3m6 0h6M31 441.5h4m55 0h5m16 0h13m23 0h21m13 0h7m10 0h2m55 0h6m22 0h17m30 0h24m12 0h7m9 0h2m31 0h3m8 0h7m12 0h12m8 0h5m6 0h2m38 0h4m14 0h12m21 0h17m10 0h5m7 0h1m29 0h2m10 0h7m13 0h16m1 0h13m8 0h10m2 0h5m28 0h5m2 0h12m8 0h16m12 0h9m5 0h7m1 0h3M0 442.5h11m23 0h4m49 0h5m17 0h13m20 0h9m15 0h5m11 0h8m9 0h3m50 0h6m22 0h16m27 0h12m17 0h5m11 0h6m9 0h3m28 0h2m9 0h7m11 0h4m9 0h3m7 0h5m6 0h2m34 0h4m15 0h12m19 0h7m13 0h3m9 0h5m7 0h2m25 0h3m10 0h7m11 0h5m11 0h18m8 0h11m2 0h5m24 0h5m2 0h12m8 0h15m3 0h12m2 0h8m5 0h7m1 0h3M0 443.5h16m20 0h5m43 0h5m18 0h12m20 0h6m24 0h4m11 0h7m10 0h3m43 0h7m23 0h16m25 0h9m28 0h4m10 0h7m9 0h3m24 0h3m9 0h7m10 0h3m14 0h2m7 0h5m7 0h1m30 0h5m15 0h12m17 0h6m20 0h3m8 0h5m7 0h2m23 0h2m10 0h7m11 0h4m18 0h16m7 0h12m2 0h5m19 0h6m2 0h13m7 0h14m3 0h17m1 0h8m5 0h7m1 0h4M0 444.5h19m20 0h5m37 0h5m18 0h13m18 0h6m31 0h3m10 0h7m11 0h3m37 0h7m24 0h16m24 0h7m36 0h3m10 0h7m10 0h3m20 0h3m10 0h6m10 0h3m17 0h2m7 0h5m7 0h2m25 0h5m16 0h12m16 0h5m26 0h2m8 0h5m7 0h2m20 0h3m10 0h7m10 0h3m22 0h2m2 0h12m8 0h12m2 0h7m11 0h8m2 0h13m8 0h13m2 0h8m9 0h4m2 0h7m5 0h7m2 0h4M0 445.5h23m19 0h6m28 0h7m19 0h13m17 0h5m37 0h3m9 0h8m11 0h3m29 0h9m25 0h16m23 0h7m42 0h3m9 0h7m10 0h4m16 0h3m10 0h7m9 0h3m21 0h1m7 0h5m7 0h2m20 0h6m17 0h12m15 0h5m30 0h2m8 0h5m8 0h2m15 0h4m11 0h7m10 0h2m25 0h3m2 0h12m7 0h13m2 0h21m3 0h14m7 0h13m2 0h6m15 0h4m1 0h7m5 0h8m1 0h9M0 446.5h25m21 0h7m17 0h9m21 0h13m16 0h5m42 0h2m10 0h7m12 0h5m17 0h12m27 0h16m22 0h6m49 0h3m9 0h6m11 0h5m10 0h4m11 0h7m9 0h2m24 0h2m6 0h5m7 0h3m13 0h7m19 0h12m15 0h4m35 0h2m7 0h5m8 0h4m9 0h5m11 0h7m10 0h3m27 0h4m2 0h11m8 0h13m4 0h14m3 0h15m8 0h12m2 0h5m20 0h3m1 0h7m5 0h8m2 0h7M7 447.5h21m22 0h24m23 0h13m17 0h4m46 0h3m9 0h7m13 0h25m30 0h17m22 0h6m54 0h2m9 0h7m12 0h14m12 0h7m8 0h3m26 0h2m6 0h5m8 0h17m21 0h12m14 0h4m39 0h2m6 0h6m9 0h13m13 0h7m10 0h2m30 0h5m2 0h10m8 0h16m14 0h16m8 0h12m2 0h5m23 0h3m1 0h7m5 0h9M13 448.5h18m25 0h11m28 0h13m16 0h4m51 0h2m9 0h8m16 0h10m37 0h17m22 0h5m59 0h2m9 0h7m15 0h6m15 0h7m8 0h2m29 0h1m7 0h4m11 0h7m26 0h11m15 0h4m42 0h2m6 0h6m11 0h6m15 0h8m9 0h2m34 0h5m1 0h11m8 0h43m8 0h11m2 0h4m12 0h9m6 0h3m1 0h7m4 0h16M17 449.5h17m58 0h14m16 0h4m54 0h2m10 0h7m59 0h17m21 0h6m64 0h2m8 0h7m33 0h7m9 0h2m31 0h1m6 0h5m40 0h12m15 0h4m45 0h2m6 0h6m30 0h8m9 0h2m37 0h4m2 0h10m8 0h40m8 0h12m1 0h5m9 0h15m6 0h2m1 0h7m4 0h15M21 450.5h15m53 0h14m16 0h4m30 0h12m17 0h2m9 0h8m53 0h18m21 0h5m39 0h14m16 0h2m8 0h8m30 0h7m9 0h2m15 0h7m11 0h1m6 0h5m37 0h12m15 0h3m27 0h10m12 0h2m6 0h6m27 0h8m9 0h3m16 0h9m15 0h4m1 0h11m8 0h36m9 0h11m2 0h4m8 0h10m4 0h6m5 0h2m1 0h6m6 0h13M24 451.5h15m48 0h14m17 0h2m27 0h13m1 0h7m15 0h2m9 0h8m48 0h19m22 0h4m35 0h16m1 0h7m14 0h2m9 0h7m27 0h8m9 0h1m14 0h12m10 0h1m6 0h5m33 0h13m15 0h3m24 0h11m1 0h5m11 0h1m7 0h6m25 0h8m9 0h2m15 0h7m1 0h8m2 0h4m6 0h16m9 0h33m8 0h17m7 0h24m5 0h9m6 0h12M28 452.5h13m43 0h14m98 0h8m42 0h20m22 0h3m33 0h7m23 0h2m14 0h1m9 0h8m24 0h8m9 0h1m13 0h3m11 0h2m9 0h1m6 0h6m28 0h14m15 0h2m23 0h5m16 0h2m10 0h1m7 0h6m22 0h9m9 0h2m14 0h3m14 0h9m6 0h16m8 0h30m8 0h18m6 0h28m3 0h11m4 0h12M32 453.5h11m40 0h11m104 0h7m32 0h13m7 0h37m17 0h51m7 0h15m3 0h26m3 0h15m7 0h24m5 0h11m2 0h32m4 0h26m12 0h36m6 0h11m2 0h25m3 0h16m7 0h27m2 0h5m5 0h18m6 0h28m7 0h18m6 0h31m3 0h11m4 0h11M237 454.5h2m21 0h21m6 0h26m9 0h35m4 0h11m2 0h8m11 0h14m10 0h8m3 0h10m4 0h17m3 0h7m2 0h6m7 0h16m19 0h14m4 0h18m7 0h25m3 0h8m2 0h6m8 0h13m11 0h9m3 0h11m4 0h20m3 0h4m12 0h3m9 0h13m15 0h14m10 0h4m12 0h6m18 0h4m7 0h2m6 0h8M237 455.5h1m450 0h1M237 456.5h1M237 457.5h1M237 458.5h1M237 459.5h1M237 460.5h1M237 461.5h1M237 462.5h1M237 463.5h1M237 464.5h1M237 465.5h1M237 466.5h1"/><path stroke="#112000" d="M133 196.5h9m59 0h16m2 0h6m1 0h4m1 0h7m35 0h6m2 0h2m82 0h21m2 0h8m2 0h6m28 0h8m11 0h17m11 0h7m46 0h20m4 0h9m3 0h6M714 245.5h2M714 246.5h2M714 247.5h2M714 248.5h2M714 249.5h2M714 250.5h2M714 251.5h2M714 252.5h3M716 253.5h28"/><path stroke="#114000" d="M29 190.5h1m27 0h1m74 0h1m92 0h1m4 0h1m41 0h1m6 0h2m2 0h1m102 0h2m8 0h2m33 0h1m8 0h1m45 0h1m44 0h1m33 0h1m1 0h1m80 0h9m9 0h15m17 0h16m15 0h7m18 0h18m11 0h8m37 0h14M29 191.5h1m27 0h1m74 0h1m92 0h1m4 0h1m41 0h1m6 0h2m2 0h1m102 0h2m8 0h2m33 0h1m8 0h1m45 0h1m44 0h1m33 0h1m1 0h1m80 0h9m9 0h15m17 0h16m15 0h7m18 0h18m11 0h8m37 0h14M29 192.5h1m27 0h1m74 0h1m92 0h1m4 0h1m41 0h1m6 0h2m2 0h1m102 0h2m8 0h2m33 0h1m8 0h1m45 0h1m44 0h1m33 0h1m1 0h1m80 0h9m9 0h15m17 0h16m15 0h7m18 0h18m11 0h8m37 0h14M29 193.5h1m27 0h1m74 0h1m92 0h1m4 0h1m41 0h1m6 0h2m2 0h1m102 0h2m8 0h2m33 0h1m8 0h1m45 0h1m44 0h1m33 0h1m1 0h1m80 0h9m9 0h15m17 0h16m15 0h7m18 0h18m11 0h8m37 0h14M29 194.5h1m27 0h1m74 0h1m92 0h1m4 0h1m41 0h1m6 0h2m2 0h1m102 0h2m8 0h2m33 0h1m8 0h1m45 0h1m44 0h1m33 0h1m1 0h1m80 0h9m9 0h15m17 0h16m15 0h7m18 0h18m11 0h8m37 0h14M132 195.5h1m92 0h1m4 0h1m41 0h1m6 0h2m2 0h1m102 0h2m8 0h2m33 0h1m8 0h1m45 0h1m44 0h1m33 0h1m1 0h1m80 0h9m9 0h15m17 0h16m15 0h7m18 0h18m11 0h8m37 0h14M70 201.5h1m465 0h3M542 202.5h2M68 203.5h1M68 204.5h1M68 205.5h1M97 210.5h1M97 211.5h1M97 212.5h1M98 213.5h1M132 214.5h2M136 215.5h2M140 216.5h1M467 217.5h1M471 218.5h65M466 219.5h70M466 220.5h1M135 221.5h4m327 0h1M139 222.5h1m326 0h1M139 223.5h1m326 0h1M139 224.5h1m326 0h1M139 225.5h1m326 0h1M139 226.5h1m326 0h1M139 227.5h1m326 0h1M139 228.5h1m326 0h1M139 229.5h1m326 0h1M145 230.5h290m31 0h1M140 231.5h2M140 232.5h2M140 233.5h2M140 234.5h2M141 235.5h3M146 236.5h390M146 237.5h142m4 0h9m6 0h48m4 0h3m6 0h5m3 0h160M146 238.5h142m4 0h9m6 0h48m4 0h3m6 0h5m3 0h160M139 239.5h2m2 0h145m4 0h9m6 0h48m4 0h3m6 0h5m3 0h160M104 240.5h30m4 0h3m2 0h145m4 0h9m6 0h48m4 0h3m6 0h5m3 0h160M104 241.5h30m4 0h3m2 0h145m4 0h9m6 0h48m4 0h3m6 0h5m3 0h160M716 245.5h3M716 246.5h3M716 247.5h3M716 248.5h3M716 249.5h3M716 250.5h3M716 251.5h3M717 252.5h2"/><path stroke="#116000" d="M628 203.5h2M629 204.5h1M629 205.5h1M68 206.5h1m560 0h1M629 207.5h1M629 208.5h1M95 209.5h1m533 0h1M629 210.5h1M629 211.5h1M629 212.5h1M629 213.5h1M629 214.5h1M628 215.5h1M628 216.5h1M630 217.5h1M630 218.5h1M630 219.5h1M630 220.5h1M631 221.5h1M639 222.5h84M719 245.5h2M719 246.5h2M719 247.5h2M719 248.5h2M719 249.5h2M719 250.5h2M719 251.5h2M719 252.5h3"/><path stroke="#118000" d="M723 222.5h23M738 227.5h3M735 228.5h2M735 229.5h2M735 230.5h2M735 231.5h2M735 232.5h2M735 233.5h2M735 234.5h2M735 235.5h2M735 236.5h2M735 237.5h2M735 238.5h2M735 239.5h2M735 240.5h2M735 241.5h2M721 245.5h14M721 246.5h14M721 247.5h14M721 248.5h14M721 249.5h14M721 250.5h14M721 251.5h14M722 252.5h13"/><path stroke="#11bf00" d="M68 207.5h1"/><path stroke="#130000" d="M0 0.5h842M0 1.5h842M0 2.5h842M0 3.5h842M0 4.5h842M0 5.5h842M0 6.5h842M0 7.5h842M0 8.5h842M0 9.5h842M0 10.5h842M0 11.5h842M0 12.5h842M0 13.5h842M0 14.5h842M0 15.5h842M0 16.5h842M0 17.5h842M0 18.5h842M0 19.5h842M0 20.5h842M0 21.5h842M0 22.5h842M0 23.5h26m3 0h18m2 0h15m3 0h9m3 0h9m5 0h12m2 0h7m5 0h9m2 0h4m3 0h18m1 0h6m4 0h6m4 0h6m3 0h6m4 0h6m5 0h3m4 0h3m3 0h22m4 0h4m5 0h5m3 0h8m3 0h35m1 0h5m1 0h7m2 0h7m3 0h9m4 0h9m3 0h14m3 0h10m5 0h10m1 0h13m4 0h14m3 0h406M0 24.5h10m2 0h5m4 0h5m4 0h9m1 0h6m3 0h4m3 0h8m3 0h9m3 0h9m5 0h5m2 0h4m3 0h7m5 0h9m3 0h3m3 0h7m1 0h9m3 0h5m4 0h6m4 0h6m4 0h5m5 0h5m5 0h2m5 0h2m5 0h7m3 0h4m1 0h6m4 0h4m5 0h5m3 0h7m4 0h8m2 0h10m1 0h8m3 0h3m2 0h4m2 0h5m4 0h6m4 0h7m5 0h8m4 0h6m5 0h2m5 0h2m1 0h6m5 0h3m1 0h5m2 0h6m1 0h5m6 0h3m2 0h8m3 0h406M0 25.5h10m2 0h5m4 0h5m4 0h9m1 0h6m3 0h4m3 0h8m3 0h9m3 0h9m5 0h5m2 0h4m3 0h7m5 0h9m3 0h3m3 0h7m1 0h9m3 0h5m4 0h6m4 0h6m4 0h5m5 0h5m5 0h2m5 0h2m5 0h7m3 0h4m1 0h6m4 0h4m5 0h5m3 0h7m4 0h8m2 0h10m1 0h8m3 0h3m2 0h4m2 0h5m4 0h6m4 0h7m5 0h8m4 0h6m5 0h2m5 0h2m1 0h6m5 0h3m1 0h5m2 0h6m1 0h5m6 0h3m2 0h8m3 0h406M0 26.5h842M0 27.5h842M0 28.5h842M0 29.5h842M0 30.5h842M0 31.5h842M0 32.5h842M0 33.5h842M0 34.5h615m6 0h221M0 35.5h615m6 0h221M0 36.5h615m6 0h221M0 37.5h615m6 0h221M0 38.5h615m6 0h221M0 39.5h615m6 0h221M0 40.5h9m1 0h4m4 0h2m1 0h7m3 0h7m4 0h5m3 0h5m3 0h3m4 0h8m2 0h7m3 0h10m1 0h9m2 0h3m4 0h4m3 0h6m1 0h6m2 0h7m3 0h9m2 0h4m2 0h4m4 0h5m4 0h2m4 0h9m2 0h5m4 0h7m4 0h9m2 0h4m4 0h7m4 0h6m3 0h3m3 0h8m1 0h4m4 0h9m5 0h4m4 0h9m4 0h10m3 0h7m4 0h9m1 0h3m1 0h7m2 0h6m1 0h6m2 0h7m4 0h3m1 0h7m5 0h9m5 0h5m4 0h6m5 0h6m5 0h4m6 0h8m3 0h9m5 0h7m5 0h6m2 0h4m4 0h3m5 0h5m3 0h8m4 0h8m3 0h2m4 0h8m6 0h2m3 0h1m4 0h2m3 0h8m4 0h6m2 0h5m3 0h9m2 0h2m6 0h5m4 0h4m5 0h2m5 0h8m3 0h3m5 0h6m4 0h7m6 0h4m3 0h7m2 0h8m6 0h4m1 0h2m5 0h4m3 0h2m2 0h4m4 0h6m2 0h6m3 0h7m3 0h7m4 0h1m2 0h9m2 0h7m4 0h7m4 0h8M0 41.5h9m2 0h2m5 0h2m2 0h6m3 0h7m4 0h5m3 0h5m3 0h3m4 0h7m3 0h6m5 0h8m2 0h9m3 0h1m6 0h3m3 0h5m2 0h5m3 0h6m5 0h8m2 0h3m3 0h4m4 0h4m5 0h2m4 0h8m4 0h3m6 0h5m5 0h8m4 0h3m4 0h6m5 0h5m4 0h2m4 0h7m3 0h2m5 0h9m5 0h3m5 0h8m6 0h8m4 0h6m5 0h9m2 0h1m2 0h7m2 0h5m3 0h4m4 0h5m6 0h1m3 0h6m5 0h9m5 0h5m4 0h6m5 0h6m5 0h4m6 0h8m3 0h9m5 0h7m5 0h6m2 0h4m4 0h3m5 0h5m3 0h8m4 0h8m3 0h2m4 0h8m6 0h2m3 0h1m4 0h2m3 0h8m4 0h6m2 0h5m3 0h9m2 0h2m6 0h5m4 0h4m5 0h2m5 0h8m3 0h3m5 0h6m4 0h7m6 0h4m3 0h7m2 0h8m6 0h3m3 0h1m5 0h4m3 0h2m2 0h4m4 0h6m2 0h6m3 0h7m3 0h7m4 0h1m2 0h9m2 0h7m4 0h7m4 0h8M0 42.5h9m2 0h2m5 0h2m2 0h6m3 0h7m4 0h5m3 0h5m3 0h3m4 0h7m3 0h6m5 0h8m2 0h9m3 0h1m6 0h3m3 0h5m2 0h5m3 0h6m5 0h8m2 0h3m3 0h4m4 0h4m5 0h2m4 0h8m4 0h3m6 0h5m5 0h8m4 0h3m4 0h6m5 0h5m4 0h2m4 0h7m3 0h2m5 0h9m5 0h3m5 0h8m6 0h8m4 0h6m5 0h9m2 0h1m2 0h7m2 0h5m3 0h4m4 0h5m6 0h1m3 0h6m5 0h9m5 0h5m4 0h6m5 0h6m5 0h4m6 0h8m3 0h9m5 0h7m5 0h6m2 0h4m4 0h3m5 0h5m3 0h8m4 0h8m3 0h2m4 0h8m6 0h2m3 0h1m4 0h2m3 0h8m4 0h6m2 0h5m3 0h9m2 0h2m6 0h5m4 0h4m5 0h2m5 0h8m3 0h3m5 0h6m4 0h7m6 0h4m3 0h7m2 0h8m6 0h3m3 0h1m5 0h4m3 0h2m2 0h4m4 0h6m2 0h6m3 0h7m3 0h7m4 0h1m2 0h9m2 0h7m4 0h7m4 0h8M0 43.5h842M0 44.5h842M0 45.5h842M0 46.5h842M0 47.5h842M0 48.5h842M0 49.5h842M0 50.5h842M0 51.5h842M0 52.5h364m4 0h474M0 53.5h364m4 0h474M0 54.5h364m4 0h474M0 55.5h364m4 0h474M0 56.5h364m4 0h474M0 57.5h364m4 0h474M0 58.5h842M0 59.5h842M0 60.5h842M0 61.5h8m5 0h5m3 0h10m1 0h6m3 0h2m2 0h3m3 0h4m4 0h2m6 0h2m3 0h7m3 0h10m3 0h5m4 0h5m4 0h4m3 0h8m4 0h8m4 0h2m3 0h9m2 0h4m4 0h3m2 0h6m3 0h8m1 0h4m4 0h4m3 0h8m2 0h8m2 0h4m3 0h7m3 0h4m3 0h5m3 0h10m3 0h10m1 0h7m1 0h9m3 0h5m4 0h3m3 0h8m3 0h2m4 0h7m5 0h5m4 0h4m5 0h9m2 0h7m3 0h8m2 0h3m1 0h5m4 0h7m4 0h5m4 0h9m4 0h7m3 0h3m5 0h6m1 0h10m2 0h6m3 0h9m4 0h6m2 0h8m1 0h7m3 0h5m5 0h5m2 0h5m4 0h3m4 0h9m3 0h6m3 0h8m4 0h8m1 0h4m2 0h4m1 0h3m4 0h7m2 0h8m3 0h3m5 0h3m3 0h2m3 0h4m3 0h2m3 0h9m3 0h7m2 0h4m1 0h6m3 0h8m1 0h5m3 0h6m3 0h9m3 0h6m3 0h5m3 0h8m3 0h5m4 0h2m2 0h5m2 0h10m1 0h4m4 0h5m4 0h3m1 0h6m4 0h2M0 62.5h8m5 0h5m4 0h8m2 0h6m3 0h2m2 0h2m5 0h3m4 0h2m6 0h2m3 0h6m5 0h8m4 0h4m6 0h4m4 0h4m3 0h8m5 0h7m4 0h2m4 0h8m2 0h4m5 0h2m2 0h6m3 0h7m3 0h2m5 0h4m4 0h7m2 0h8m2 0h4m3 0h7m3 0h4m4 0h3m5 0h8m5 0h8m3 0h6m2 0h7m5 0h3m5 0h3m3 0h8m3 0h2m4 0h7m5 0h4m5 0h4m5 0h8m4 0h6m3 0h7m3 0h3m2 0h4m4 0h6m6 0h3m6 0h7m5 0h7m3 0h3m5 0h5m3 0h8m3 0h5m4 0h9m5 0h4m4 0h7m2 0h6m3 0h5m5 0h4m4 0h4m5 0h1m5 0h8m4 0h6m4 0h7m4 0h7m2 0h4m2 0h3m2 0h3m4 0h7m3 0h7m3 0h3m5 0h3m3 0h2m3 0h4m3 0h2m4 0h8m4 0h5m4 0h3m2 0h5m3 0h8m2 0h4m3 0h5m5 0h7m4 0h6m4 0h4m4 0h7m3 0h5m4 0h2m3 0h4m3 0h8m2 0h4m5 0h4m4 0h2m2 0h6m4 0h2M0 63.5h8m5 0h5m4 0h8m2 0h6m3 0h2m2 0h2m5 0h3m4 0h2m6 0h2m3 0h6m5 0h8m4 0h4m6 0h4m4 0h4m3 0h8m5 0h7m4 0h2m4 0h8m2 0h4m5 0h2m2 0h6m3 0h7m3 0h2m5 0h4m4 0h7m2 0h8m2 0h4m3 0h7m3 0h4m4 0h3m5 0h8m5 0h8m3 0h6m2 0h7m5 0h3m5 0h3m3 0h8m3 0h2m4 0h7m5 0h4m5 0h4m5 0h8m4 0h6m3 0h7m3 0h3m2 0h4m4 0h6m6 0h3m6 0h7m5 0h7m3 0h3m5 0h5m3 0h8m3 0h5m4 0h9m5 0h4m4 0h7m2 0h6m3 0h5m5 0h4m4 0h4m5 0h1m5 0h8m4 0h6m4 0h7m4 0h7m2 0h4m2 0h3m2 0h3m4 0h7m3 0h7m3 0h3m5 0h3m3 0h2m3 0h4m3 0h2m4 0h8m4 0h5m4 0h3m2 0h5m3 0h8m2 0h4m3 0h5m5 0h7m4 0h6m4 0h4m4 0h7m3 0h5m4 0h2m3 0h4m3 0h8m2 0h4m5 0h4m4 0h2m2 0h6m4 0h2M0 64.5h8m5 0h5m4 0h8m2 0h6m3 0h2m2 0h2m5 0h3m4 0h2m6 0h2m3 0h6m5 0h8m4 0h4m6 0h4m4 0h4m3 0h8m5 0h7m4 0h2m4 0h8m2 0h4m5 0h2m2 0h6m3 0h7m3 0h2m5 0h4m4 0h7m2 0h8m2 0h4m3 0h7m3 0h4m4 0h3m5 0h8m5 0h8m3 0h6m2 0h7m5 0h3m5 0h3m3 0h8m3 0h2m4 0h7m5 0h4m5 0h4m5 0h8m4 0h6m3 0h7m3 0h3m2 0h4m4 0h6m6 0h3m6 0h7m5 0h7m3 0h3m5 0h5m3 0h8m3 0h5m4 0h9m5 0h4m4 0h7m2 0h6m3 0h5m5 0h4m4 0h4m5 0h1m5 0h8m4 0h6m4 0h7m4 0h7m2 0h4m2 0h3m2 0h3m4 0h7m3 0h7m3 0h3m5 0h3m3 0h2m3 0h4m3 0h2m4 0h8m4 0h5m4 0h3m2 0h5m3 0h8m2 0h4m3 0h5m5 0h7m4 0h6m4 0h4m4 0h7m3 0h5m4 0h2m3 0h4m3 0h8m2 0h4m5 0h4m4 0h2m2 0h6m4 0h2M0 65.5h842M0 66.5h842M0 67.5h842M0 68.5h842M0 69.5h842M0 70.5h842M0 71.5h10m5 0h19m4 0h11m6 0h11m6 0h14m6 0h14m2 0h18m2 0h14m6 0h6m3 0h12m6 0h13m5 0h16m3 0h18m5 0h5m3 0h7m3 0h6m5 0h11m4 0h9m4 0h13m7 0h16m6 0h17m3 0h10m3 0h17m6 0h9m2 0h15m6 0h12m3 0h4m6 0h12m3 0h19m6 0h7m4 0h7m4 0h8m6 0h20m5 0h5m3 0h14m7 0h6m6 0h12m6 0h18m4 0h5m3 0h14m3 0h5m6 0h11m6 0h13m5 0h9m6 0h17m4 0h10m3 0h11m7 0h13m7 0h9m2 0h20m6 0h15M0 72.5h10m5 0h19m4 0h11m6 0h11m6 0h14m6 0h14m2 0h18m2 0h14m6 0h6m3 0h12m6 0h13m5 0h16m3 0h18m5 0h5m3 0h7m3 0h6m5 0h11m4 0h9m4 0h13m7 0h16m6 0h17m3 0h10m3 0h17m6 0h9m2 0h15m6 0h12m3 0h4m6 0h12m3 0h19m6 0h7m4 0h7m4 0h8m6 0h20m5 0h5m3 0h14m7 0h6m6 0h12m6 0h18m4 0h5m3 0h14m3 0h5m6 0h11m6 0h13m5 0h9m6 0h17m4 0h10m3 0h11m7 0h13m7 0h9m2 0h20m6 0h15M0 73.5h11m3 0h20m3 0h12m6 0h12m4 0h16m4 0h15m2 0h18m2 0h14m5 0h8m1 0h14m5 0h13m4 0h18m2 0h18m5 0h5m3 0h8m2 0h7m4 0h11m4 0h9m4 0h14m5 0h17m6 0h17m3 0h10m3 0h17m6 0h9m2 0h16m4 0h14m1 0h5m6 0h13m2 0h20m5 0h8m2 0h9m3 0h9m5 0h20m4 0h7m2 0h14m7 0h7m4 0h13m5 0h19m3 0h6m2 0h15m3 0h5m6 0h11m5 0h14m5 0h10m5 0h17m4 0h10m3 0h12m5 0h15m5 0h10m2 0h20m5 0h16M0 74.5h842M0 75.5h842M0 76.5h842M0 77.5h842M0 78.5h432m6 0h404M0 79.5h432m6 0h404M0 80.5h432m6 0h404M0 81.5h432m6 0h404M0 82.5h432m6 0h404M0 83.5h432m6 0h404M0 84.5h842M0 85.5h842M0 86.5h842M0 87.5h488m6 0h33m5 0h72m30 0h208M0 88.5h26m2 0h18m3 0h9m1 0h24m1 0h10m3 0h23m1 0h21m1 0h17m2 0h17m4 0h20m3 0h16m1 0h42m1 0h25m2 0h22m3 0h12m2 0h26m1 0h25m3 0h41m3 0h18m1 0h11m3 0h20m3 0h1m6 0h9m1 0h21m7 0h16m2 0h9m1 0h19m1 0h15m3 0h6m30 0h1m2 0h18m3 0h18m2 0h8m2 0h15m4 0h8m3 0h16m4 0h17m1 0h17m3 0h25m3 0h18m1 0h12m3 0h4M0 89.5h25m4 0h17m4 0h7m3 0h23m2 0h9m4 0h21m3 0h19m3 0h15m4 0h16m4 0h20m3 0h15m3 0h22m3 0h15m2 0h24m3 0h22m3 0h12m3 0h24m2 0h24m4 0h20m2 0h19m4 0h16m3 0h10m3 0h20m3 0h1m6 0h9m2 0h20m7 0h15m3 0h9m2 0h17m3 0h13m4 0h6m34 0h16m4 0h17m3 0h8m3 0h14m4 0h7m4 0h16m4 0h17m2 0h15m5 0h24m3 0h17m3 0h11m3 0h4M0 90.5h25m4 0h17m4 0h7m3 0h23m2 0h9m4 0h21m3 0h19m3 0h15m4 0h16m4 0h20m3 0h15m3 0h22m3 0h15m2 0h24m3 0h22m3 0h12m3 0h24m2 0h24m4 0h20m2 0h19m4 0h16m3 0h10m3 0h20m3 0h1m6 0h9m2 0h20m7 0h15m3 0h9m2 0h17m3 0h13m4 0h6m34 0h16m4 0h17m3 0h8m3 0h14m4 0h7m4 0h16m4 0h17m2 0h15m5 0h24m3 0h17m3 0h11m3 0h4M0 91.5h488m6 0h33m5 0h72m30 0h208M0 92.5h842M0 93.5h842M0 94.5h842M0 95.5h842M0 96.5h842M0 97.5h842M0 98.5h842M0 99.5h842M0 100.5h842M0 101.5h842M0 102.5h842M0 103.5h696M0 104.5h696M0 105.5h696M0 106.5h842M0 107.5h842M0 108.5h842M0 109.5h842M0 110.5h842M0 111.5h842M0 112.5h842M0 113.5h842M0 114.5h842M0 115.5h842M0 116.5h842M0 117.5h842M0 118.5h842M0 119.5h842M0 120.5h842M0 121.5h842M0 122.5h842M0 123.5h842M0 124.5h842M0 125.5h842M0 126.5h842M0 127.5h460m39 0h343M460 128.5h1M460 129.5h1M460 130.5h1M0 131.5h842M0 132.5h842M0 133.5h842M0 134.5h842M0 135.5h842M0 136.5h432m4 0h406M0 137.5h432m4 0h406M0 138.5h36m21 0h19m26 0h159m31 0h24m41 0h75m4 0h15m21 0h59m26 0h134m31 0h99M0 139.5h36m21 0h19m26 0h159m31 0h24m41 0h75m4 0h15m21 0h59m26 0h134m31 0h99M0 140.5h432m4 0h406M0 157.5h842M0 158.5h842M0 159.5h374m25 0h443M0 160.5h374m25 0h443M0 161.5h374m25 0h443M0 165.5h374m25 0h443M0 166.5h374m25 0h443M0 176.5h842M0 185.5h25m3 0h1m7 0h1m29 0h50m3 0h4m4 0h5m10 0h59m16 0h2m19 0h34m12 0h81m39 0h9m5 0h13m10 0h10m17 0h11m8 0h44m21 0h4m10 0h1m7 0h73m10 0h8m17 0h16m16 0h15m8 0h16m20 0h10m8 0h37M56 244.5h1M443 261.5h1m9 0h1m74 0h1m10 0h1m226 0h1m24 0h1m9 0h1m19 0h1M443 264.5h1m9 0h1m74 0h1m10 0h1m226 0h1m24 0h1m9 0h1m19 0h1M275 265.5h6m18 0h21m38 0h9m7 0h2m16 0h16m15 0h3m7 0h8m19 0h6m5 0h1m11 0h20m26 0h5m11 0h15m28 0h6m5 0h2m12 0h15m17 0h2m8 0h9m23 0h1M238 266.5h12m13 0h10m7 0h16m20 0h44m8 0h7m2 0h4m6 0h6m14 0h6m5 0h4m3 0h7m8 0h21m5 0h5m2 0h3m4 0h4m16 0h12m9 0h7m4 0h12m14 0h31m6 0h5m2 0h3m4 0h5m13 0h7m5 0h5m2 0h8m8 0h180M238 267.5h5m18 0h9m6 0h17m19 0h49m8 0h7m2 0h4m7 0h22m7 0h3m3 0h6m8 0h24m5 0h5m2 0h2m5 0h26m13 0h6m4 0h12m13 0h35m6 0h5m2 0h3m5 0h20m8 0h3m3 0h7m8 0h182M238 268.5h3m17 0h9m6 0h17m18 0h55m7 0h7m3 0h3m9 0h16m8 0h4m2 0h7m7 0h27m5 0h5m2 0h2m6 0h20m14 0h7m4 0h12m12 0h16m6 0h13m10 0h3m4 0h3m6 0h15m9 0h4m3 0h7m8 0h183M238 269.5h2m14 0h10m6 0h17m18 0h26m22 0h11m7 0h7m3 0h4m10 0h10m10 0h4m2 0h7m7 0h11m10 0h8m5 0h5m2 0h2m7 0h13m17 0h7m4 0h12m12 0h18m16 0h3m11 0h2m5 0h3m7 0h10m11 0h4m2 0h8m7 0h12m14 0h159M238 270.5h1m11 0h11m6 0h17m17 0h24m17 0h7m7 0h10m7 0h7m2 0h4m27 0h4m3 0h7m7 0h9m7 0h3m5 0h7m5 0h5m2 0h3m32 0h7m5 0h11m12 0h17m12 0h5m5 0h1m12 0h1m6 0h3m25 0h4m3 0h7m8 0h10m7 0h5m7 0h4M238 271.5h2m6 0h11m7 0h17m17 0h21m11 0h10m10 0h4m4 0h9m7 0h7m3 0h4m24 0h4m3 0h7m6 0h9m4 0h12m3 0h6m5 0h5m2 0h3m28 0h8m4 0h12m12 0h15m14 0h10m20 0h1m2 0h3m22 0h5m3 0h7m7 0h10m4 0h15m2 0h4M238 272.5h16m6 0h18m17 0h20m9 0h16m10 0h6m4 0h8m7 0h7m3 0h5m20 0h5m2 0h7m7 0h8m4 0h16m2 0h6m5 0h5m2 0h3m24 0h8m5 0h12m12 0h14m6 0h5m6 0h12m18 0h2m2 0h4m18 0h5m3 0h8m7 0h9m4 0h23M238 273.5h12m7 0h18m17 0h19m8 0h20m11 0h8m4 0h8m6 0h8m3 0h6m14 0h6m3 0h7m7 0h8m3 0h8m5 0h6m2 0h6m4 0h6m2 0h4m17 0h11m5 0h12m12 0h13m6 0h8m14 0h5m8 0h1m8 0h3m2 0h5m13 0h7m3 0h8m7 0h8m3 0h9m7 0h10M238 274.5h7m8 0h19m17 0h18m7 0h15m25 0h6m3 0h8m6 0h8m4 0h8m6 0h8m3 0h8m7 0h7m3 0h6m12 0h4m2 0h6m4 0h6m2 0h6m8 0h13m6 0h13m12 0h12m5 0h11m18 0h2m8 0h2m7 0h4m3 0h6m6 0h9m3 0h8m7 0h8m3 0h7m16 0h5M238 275.5h3m8 0h20m17 0h18m6 0h13m34 0h5m3 0h7m7 0h8m4 0h18m4 0h8m7 0h7m2 0h5m17 0h3m2 0h5m5 0h6m2 0h23m6 0h14m12 0h12m5 0h8m24 0h4m2 0h6m5 0h7m2 0h17m4 0h9m7 0h8m3 0h5m21 0h3M238 276.5h3m4 0h21m17 0h17m7 0h11m41 0h4m3 0h7m7 0h9m4 0h14m4 0h9m6 0h7m3 0h4m20 0h3m2 0h5m5 0h6m3 0h16m8 0h15m12 0h12m4 0h8m29 0h4m1 0h6m5 0h7m3 0h13m4 0h10m7 0h7m3 0h5m24 0h2M238 277.5h25m17 0h17m6 0h11m47 0h4m2 0h7m7 0h10m7 0h4m7 0h9m7 0h7m3 0h4m22 0h3m2 0h5m5 0h7m5 0h4m12 0h17m12 0h11m5 0h7m33 0h4m1 0h6m5 0h8m5 0h4m7 0h10m8 0h7m3 0h4m27 0h1M238 278.5h21m18 0h17m6 0h10m24 0h18m10 0h4m3 0h7m7 0h11m12 0h11m7 0h7m2 0h4m10 0h9m7 0h2m2 0h5m5 0h8m15 0h18m12 0h12m4 0h7m17 0h13m8 0h3m1 0h6m5 0h9m11 0h12m7 0h8m2 0h4m11 0h12m6 0h1M238 279.5h18m18 0h17m6 0h9m20 0h29m9 0h3m3 0h7m7 0h32m7 0h7m2 0h4m8 0h14m6 0h2m2 0h5m5 0h38m12 0h12m4 0h7m14 0h20m7 0h3m1 0h6m5 0h29m8 0h7m3 0h4m9 0h18m2 0h2M238 280.5h14m19 0h17m6 0h9m18 0h37m7 0h4m2 0h7m8 0h28m8 0h6m3 0h3m8 0h17m6 0h2m2 0h5m5 0h34m13 0h12m4 0h6m13 0h26m6 0h3m1 0h6m6 0h26m8 0h7m3 0h3m8 0h25M238 281.5h10m20 0h17m6 0h8m17 0h16m21 0h7m6 0h4m2 0h7m8 0h25m8 0h7m2 0h4m7 0h6m10 0h5m5 0h2m2 0h5m5 0h30m14 0h12m4 0h6m12 0h11m15 0h5m5 0h3m1 0h6m6 0h23m8 0h8m2 0h4m7 0h7m13 0h7M238 282.5h5m22 0h17m6 0h8m16 0h13m31 0h5m7 0h3m2 0h8m8 0h21m9 0h7m2 0h4m6 0h5m15 0h4m4 0h3m1 0h5m7 0h25m15 0h12m4 0h6m11 0h9m22 0h4m5 0h3m1 0h6m6 0h20m9 0h8m2 0h4m6 0h6m19 0h4M238 283.5h2m21 0h18m6 0h8m15 0h12m11 0h22m5 0h5m6 0h3m3 0h7m10 0h16m10 0h7m2 0h3m6 0h5m5 0h10m4 0h3m4 0h3m1 0h5m7 0h20m17 0h12m4 0h6m10 0h8m8 0h16m3 0h4m5 0h2m2 0h6m7 0h15m11 0h7m3 0h3m7 0h5m5 0h14m2 0h4M238 284.5h2m18 0h18m6 0h8m15 0h10m10 0h31m4 0h4m6 0h4m2 0h7m12 0h10m11 0h8m2 0h3m6 0h4m4 0h15m3 0h3m4 0h3m1 0h5m8 0h13m19 0h13m4 0h6m10 0h7m6 0h23m3 0h3m5 0h2m2 0h6m8 0h10m12 0h8m2 0h4m6 0h5m4 0h23M238 285.5h2m14 0h19m6 0h8m14 0h10m8 0h39m4 0h4m5 0h4m2 0h8m30 0h7m3 0h3m6 0h4m3 0h19m2 0h3m4 0h2m2 0h5m37 0h13m4 0h6m9 0h7m6 0h28m2 0h3m5 0h2m2 0h6m28 0h8m2 0h4m6 0h4m4 0h25M238 286.5h2m10 0h20m6 0h8m14 0h10m7 0h45m3 0h4m6 0h3m2 0h8m27 0h8m2 0h4m5 0h4m3 0h22m2 0h3m4 0h2m2 0h6m32 0h14m4 0h5m10 0h7m5 0h32m2 0h3m5 0h2m2 0h6m25 0h8m3 0h3m6 0h5m3 0h27M238 287.5h2m6 0h21m6 0h8m14 0h9m7 0h51m2 0h4m6 0h3m3 0h8m24 0h8m2 0h4m5 0h4m3 0h24m2 0h3m4 0h2m2 0h6m28 0h15m4 0h5m10 0h6m5 0h36m2 0h3m5 0h2m2 0h6m22 0h9m2 0h4m6 0h4m3 0h29M238 288.5h2m1 0h23m6 0h8m14 0h9m6 0h32m11 0h13m3 0h3m6 0h4m2 0h9m20 0h9m2 0h3m6 0h3m3 0h13m5 0h9m2 0h3m4 0h2m2 0h6m24 0h15m4 0h6m10 0h6m4 0h22m9 0h9m2 0h3m4 0h3m2 0h7m18 0h10m2 0h4m6 0h4m2 0h14m7 0h10M238 289.5h22m7 0h8m14 0h8m7 0h25m25 0h11m2 0h4m5 0h4m2 0h11m14 0h10m3 0h3m6 0h3m3 0h10m12 0h7m2 0h3m3 0h3m2 0h7m17 0h18m4 0h6m10 0h6m4 0h18m18 0h8m1 0h3m4 0h3m2 0h8m13 0h11m3 0h4m5 0h4m3 0h11m16 0h5M238 290.5h19m6 0h9m14 0h8m6 0h23m34 0h9m2 0h4m6 0h3m3 0h13m6 0h13m3 0h3m6 0h3m2 0h9m17 0h6m2 0h2m4 0h3m2 0h9m8 0h22m4 0h6m10 0h6m4 0h15m24 0h8m1 0h3m4 0h3m2 0h10m6 0h14m2 0h4m6 0h4m2 0h10m21 0h3M238 291.5h15m7 0h9m14 0h8m6 0h21m41 0h8m3 0h3m6 0h4m2 0h29m3 0h4m5 0h4m2 0h8m20 0h6m2 0h2m4 0h3m2 0h35m5 0h6m10 0h5m4 0h15m29 0h7m1 0h3m4 0h3m2 0h27m3 0h4m6 0h4m2 0h9m23 0h3M238 292.5h11m7 0h10m14 0h8m6 0h20m47 0h8m2 0h3m6 0h4m3 0h26m3 0h4m5 0h4m2 0h8m22 0h6m2 0h2m4 0h3m2 0h31m5 0h7m10 0h5m4 0h14m33 0h7m1 0h3m4 0h3m2 0h24m3 0h5m6 0h3m3 0h8m26 0h2M238 293.5h7m8 0h10m14 0h8m6 0h19m52 0h8m2 0h4m5 0h4m4 0h22m3 0h4m6 0h3m3 0h7m26 0h5m2 0h2m4 0h3m2 0h27m6 0h7m9 0h6m4 0h13m38 0h6m1 0h3m4 0h3m3 0h20m4 0h4m6 0h4m2 0h8m28 0h2M238 294.5h3m8 0h10m15 0h8m6 0h18m28 0h18m12 0h7m2 0h4m6 0h4m4 0h18m4 0h4m6 0h3m2 0h8m11 0h9m8 0h5m1 0h3m4 0h3m3 0h22m6 0h7m10 0h6m4 0h13m19 0h13m9 0h5m2 0h3m4 0h4m3 0h16m4 0h5m6 0h4m2 0h8m12 0h12m4 0h3M238 295.5h3m3 0h12m15 0h8m6 0h18m23 0h29m10 0h7m3 0h3m6 0h5m5 0h12m5 0h5m6 0h3m2 0h7m10 0h14m7 0h5m1 0h3m4 0h3m4 0h15m8 0h8m10 0h6m4 0h12m17 0h20m8 0h5m2 0h3m4 0h4m4 0h11m5 0h5m7 0h3m3 0h7m11 0h22M238 296.5h14m16 0h8m6 0h17m22 0h37m8 0h8m2 0h3m7 0h5m18 0h5m6 0h4m2 0h7m9 0h17m7 0h5m1 0h3m4 0h4m21 0h9m11 0h6m4 0h12m15 0h26m7 0h5m2 0h3m5 0h4m16 0h6m6 0h4m2 0h8m9 0h25M238 297.5h10m17 0h8m6 0h17m20 0h44m8 0h7m2 0h4m6 0h7m12 0h6m7 0h4m2 0h7m8 0h21m5 0h5m2 0h2m5 0h5m14 0h11m12 0h6m4 0h12m14 0h31m6 0h5m2 0h3m5 0h5m11 0h7m7 0h4m2 0h8m8 0h27M238 298.5h5m18 0h9m6 0h17m19 0h49m8 0h7m2 0h4m7 0h21m8 0h3m3 0h6m8 0h24m5 0h5m2 0h2m6 0h25m13 0h6m4 0h12m13 0h35m6 0h5m2 0h3m5 0h20m8 0h3m3 0h7m8 0h29M238 299.5h3m17 0h9m6 0h17m18 0h55m7 0h7m3 0h3m9 0h16m8 0h4m2 0h7m7 0h27m5 0h5m2 0h2m6 0h20m14 0h7m4 0h12m12 0h39m6 0h5m2 0h3m6 0h15m9 0h4m3 0h7m8 0h30M238 300.5h2m14 0h10m6 0h17m18 0h26m22 0h11m7 0h7m3 0h4m10 0h10m10 0h4m2 0h7m7 0h11m10 0h8m5 0h5m2 0h2m7 0h13m17 0h7m4 0h12m12 0h18m16 0h8m6 0h5m2 0h3m7 0h10m11 0h4m2 0h8m7 0h12m14 0h6M238 301.5h1m11 0h11m6 0h17m17 0h24m17 0h7m7 0h10m7 0h7m2 0h4m27 0h4m3 0h7m7 0h9m7 0h3m5 0h7m5 0h5m2 0h3m32 0h7m5 0h11m12 0h17m12 0h5m5 0h7m6 0h5m2 0h3m25 0h4m3 0h7m8 0h10m7 0h5m7 0h4M238 302.5h2m6 0h11m7 0h17m17 0h21m11 0h24m4 0h9m7 0h7m3 0h4m24 0h4m3 0h7m6 0h9m4 0h12m3 0h6m5 0h5m2 0h3m28 0h8m4 0h12m12 0h15m8 0h16m4 0h6m6 0h5m2 0h3m22 0h5m3 0h7m7 0h10m4 0h15m2 0h4M238 303.5h16m6 0h18m17 0h20m9 0h32m4 0h8m7 0h7m3 0h5m20 0h5m2 0h7m7 0h8m4 0h16m2 0h6m5 0h5m2 0h3m24 0h8m5 0h12m12 0h14m6 0h23m3 0h6m5 0h6m2 0h4m18 0h5m3 0h8m7 0h9m4 0h23M238 304.5h12m7 0h18m17 0h19m8 0h20m11 0h8m4 0h8m6 0h8m3 0h6m14 0h6m3 0h7m7 0h8m3 0h8m5 0h6m2 0h6m4 0h6m2 0h4m17 0h11m5 0h12m12 0h13m6 0h13m9 0h6m2 0h6m5 0h6m2 0h5m13 0h7m3 0h8m7 0h8m3 0h9m7 0h10M238 305.5h3m1 0h3m2 0h5m1 0h6m1 0h1m4 0h1m3 0h1m9 0h2m4 0h1m5 0h3m4 0h11m2 0h3m1 0h2m2 0h4m2 0h1m30 0h8m3 0h4m1 0h1m4 0h1m2 0h4m1 0h10m10 0h3m2 0h5m3 0h2m6 0h6m2 0h4m2 0h4m13 0h14m2 0h1m2 0h1m2 0h2m2 0h2m12 0h1m4 0h5m3 0h8m3 0h3m1 0h3m2 0h3m2 0h2m1 0h1m3 0h5m3 0h2m3 0h4m1 0h6m19 0h2m1 0h5m1 0h1m4 0h6m2 0h4m1 0h4m8 0h1m3 0h5m2 0h6m2 0h1m2 0h1m3 0h2m3 0h3m2 0h6m19 0h2M239 306.5h1m2 0h2m4 0h3m2 0h5m11 0h1m16 0h2m10 0h4m2 0h4m3 0h2m3 0h1m45 0h2m3 0h1m15 0h1m3 0h2m2 0h4m10 0h3m3 0h3m11 0h1m8 0h4m22 0h2m2 0h2m5 0h1m7 0h1m3 0h2m1 0h1m6 0h5m4 0h5m3 0h2m3 0h2m6 0h1m1 0h2m3 0h1m6 0h1m6 0h3m4 0h1m3 0h3m30 0h4m2 0h1m2 0h2m4 0h1m4 0h2m2 0h5m5 0h3m3 0h4m3 0h2m11 0h2m5 0h2m4 0h2M239 307.5h1m2 0h2m4 0h3m2 0h1m11 0h1m15 0h3m9 0h1m4 0h4m2 0h4m3 0h2m49 0h2m3 0h3m10 0h2m5 0h2m2 0h4m3 0h3m4 0h3m3 0h3m4 0h2m11 0h1m2 0h4m23 0h1m2 0h3m4 0h1m7 0h1m3 0h2m1 0h6m1 0h5m4 0h5m3 0h2m9 0h3m10 0h1m7 0h5m4 0h1m3 0h1m33 0h3m2 0h1m3 0h1m5 0h1m3 0h2m2 0h5m1 0h1m3 0h3m3 0h4m7 0h2m2 0h1m3 0h2m6 0h2M238 308.5h25m16 0h34m47 0h3m7 0h3m9 0h37m6 0h13m24 0h9m5 0h45m11 0h23m35 0h10m5 0h34m7 0h15M238 309.5h21m18 0h17m6 0h10m24 0h18m9 0h2m20 0h11m12 0h11m7 0h7m2 0h4m10 0h9m7 0h2m2 0h5m5 0h8m15 0h18m12 0h12m4 0h7m17 0h13m8 0h3m1 0h6m5 0h9m11 0h12m7 0h8m2 0h4m11 0h12m6 0h1M238 310.5h18m18 0h17m6 0h9m20 0h29m7 0h2m20 0h32m7 0h7m2 0h4m8 0h14m6 0h2m2 0h5m5 0h38m12 0h12m4 0h7m14 0h20m7 0h3m1 0h6m5 0h29m8 0h7m3 0h4m9 0h18m2 0h2M238 311.5h14m19 0h17m6 0h9m18 0h37m4 0h2m22 0h28m8 0h6m3 0h3m8 0h17m6 0h2m2 0h5m5 0h34m13 0h12m4 0h6m13 0h26m6 0h3m1 0h6m6 0h26m8 0h7m3 0h3m8 0h25M238 312.5h10m20 0h17m6 0h8m17 0h16m21 0h13m21 0h25m8 0h7m2 0h4m7 0h6m10 0h5m5 0h2m2 0h5m5 0h30m14 0h12m4 0h6m12 0h11m15 0h5m5 0h3m1 0h6m6 0h23m8 0h8m2 0h4m7 0h7m13 0h7M238 313.5h5m22 0h17m6 0h8m16 0h13m31 0h11m22 0h21m9 0h7m2 0h4m6 0h5m15 0h4m4 0h3m1 0h5m7 0h25m15 0h12m4 0h6m11 0h9m22 0h4m5 0h3m1 0h6m6 0h20m9 0h8m2 0h4m6 0h6m19 0h4M238 314.5h2m21 0h18m6 0h8m15 0h12m11 0h22m5 0h1m4 0h5m24 0h16m10 0h7m2 0h3m6 0h5m5 0h10m4 0h3m4 0h3m1 0h5m7 0h20m17 0h12m4 0h6m10 0h8m8 0h16m3 0h4m5 0h2m2 0h6m7 0h15m11 0h7m3 0h3m7 0h5m5 0h14m2 0h4M238 315.5h2m18 0h18m6 0h8m15 0h10m10 0h31m9 0h4m12 0h1m13 0h10m11 0h8m2 0h3m6 0h4m4 0h15m3 0h3m4 0h3m1 0h5m8 0h13m19 0h13m4 0h6m10 0h7m6 0h23m3 0h3m5 0h2m2 0h6m8 0h10m12 0h8m2 0h4m6 0h5m4 0h23M238 316.5h2m14 0h19m6 0h8m14 0h10m8 0h39m9 0h4m10 0h4m30 0h7m3 0h3m6 0h4m3 0h19m2 0h3m4 0h2m2 0h5m37 0h13m4 0h6m9 0h7m6 0h28m2 0h3m5 0h2m2 0h6m28 0h8m2 0h4m6 0h4m4 0h25M238 317.5h2m10 0h20m6 0h8m14 0h10m7 0h44m9 0h4m10 0h4m27 0h8m2 0h4m5 0h4m3 0h22m2 0h3m4 0h2m2 0h6m32 0h14m4 0h5m10 0h7m5 0h32m2 0h3m5 0h2m2 0h6m25 0h8m3 0h3m6 0h5m3 0h27M238 318.5h2m6 0h21m6 0h8m14 0h9m7 0h49m9 0h4m9 0h6m24 0h8m2 0h4m5 0h4m3 0h24m2 0h3m4 0h2m2 0h6m28 0h15m4 0h5m10 0h6m5 0h36m2 0h3m5 0h2m2 0h6m22 0h9m3 0h3m6 0h4m3 0h29M238 319.5h2m1 0h22m7 0h9m12 0h9m7 0h32m11 0h10m11 0h3m9 0h7m20 0h9m2 0h4m5 0h3m3 0h13m5 0h9m2 0h3m3 0h3m2 0h6m24 0h15m5 0h6m9 0h6m5 0h21m9 0h9m2 0h3m4 0h3m2 0h7m18 0h10m2 0h4m6 0h3m3 0h14m7 0h10M238 320.5h22m7 0h9m12 0h9m7 0h25m25 0h7m11 0h3m9 0h9m14 0h10m3 0h4m4 0h4m3 0h10m12 0h7m2 0h3m3 0h3m2 0h7m17 0h18m5 0h6m8 0h6m5 0h18m18 0h7m3 0h2m4 0h3m2 0h8m13 0h11m3 0h4m5 0h4m3 0h11m16 0h5M238 321.5h18m8 0h10m11 0h9m7 0h22m34 0h4m13 0h2m8 0h12m8 0h12m3 0h4m4 0h4m3 0h8m17 0h6m2 0h3m3 0h3m2 0h8m9 0h21m6 0h6m8 0h6m5 0h15m25 0h6m3 0h2m4 0h3m2 0h10m6 0h13m4 0h4m5 0h4m3 0h9m21 0h3M238 322.5h14m9 0h10m10 0h9m8 0h20m41 0h1m26 0h28m4 0h4m4 0h3m3 0h8m20 0h6m2 0h3m3 0h3m2 0h34m6 0h7m7 0h7m5 0h14m29 0h6m3 0h3m3 0h3m3 0h26m3 0h5m4 0h4m3 0h9m23 0h3M238 323.5h10m10 0h11m8 0h10m8 0h19m74 0h24m4 0h5m3 0h4m3 0h8m23 0h5m2 0h3m2 0h3m3 0h30m7 0h8m6 0h7m5 0h13m33 0h6m3 0h3m2 0h4m3 0h23m4 0h5m3 0h5m3 0h8m25 0h3M238 324.5h4m12 0h13m6 0h11m8 0h18m74 0h1m5 0h20m5 0h5m2 0h5m3 0h7m26 0h5m2 0h3m2 0h3m4 0h25m8 0h8m5 0h7m6 0h12m38 0h5m3 0h3m2 0h4m4 0h18m6 0h5m3 0h4m4 0h7m27 0h3M238 325.5h2m11 0h15m2 0h13m9 0h16m29 0h17m29 0h5m6 0h16m6 0h11m4 0h7m11 0h8m9 0h4m3 0h8m5 0h18m11 0h10m1 0h9m6 0h11m21 0h12m9 0h5m3 0h9m5 0h14m6 0h13m4 0h7m12 0h11m5 0h3M238 326.5h2m7 0h30m10 0h15m25 0h28m26 0h7m8 0h7m9 0h12m4 0h6m10 0h14m7 0h4m3 0h8m7 0h8m15 0h21m6 0h11m17 0h20m8 0h5m3 0h9m7 0h6m10 0h13m4 0h6m11 0h22M238 327.5h3m2 0h31m11 0h14m23 0h35m24 0h8m22 0h12m4 0h6m9 0h17m7 0h4m3 0h9m25 0h21m8 0h10m16 0h25m7 0h4m4 0h9m20 0h13m5 0h6m10 0h24M238 328.5h32m12 0h13m22 0h42m23 0h9m18 0h12m5 0h5m9 0h20m7 0h3m4 0h9m21 0h22m8 0h9m16 0h29m7 0h4m4 0h10m16 0h13m6 0h5m10 0h26M238 329.5h29m13 0h12m22 0h25m11 0h10m22 0h11m14 0h13m5 0h5m9 0h10m5 0h8m6 0h3m4 0h9m17 0h22m10 0h8m15 0h17m9 0h7m7 0h4m4 0h10m13 0h14m6 0h5m9 0h11m7 0h10M238 330.5h24m16 0h10m22 0h17m28 0h5m23 0h13m8 0h14m6 0h5m8 0h7m14 0h4m7 0h3m4 0h10m10 0h24m11 0h7m16 0h11m20 0h5m7 0h3m5 0h11m8 0h15m7 0h4m10 0h7m18 0h4M238 331.5h19m20 0h7m24 0h10m41 0h3m22 0h32m8 0h3m10 0h3m20 0h3m7 0h2m6 0h39m14 0h5m16 0h7m29 0h3m8 0h2m6 0h30m8 0h3m11 0h4m22 0h4M243 332.5h4m3 0h2m3 0h3m3 0h5m2 0h2m3 0h5m1 0h4m2 0h3m3 0h1m2 0h1m2 0h3m3 0h3m3 0h3m3 0h3m2 0h2m2 0h2m3 0h3m3 0h4m2 0h3m2 0h4m1 0h4m2 0h2m2 0h5m1 0h4m1 0h3m2 0h1m2 0h2m2 0h3m2 0h5m2 0h4m3 0h4m2 0h3m3 0h4m2 0h3m2 0h2m3 0h2m3 0h2m2 0h2m3 0h4m2 0h4m2 0h4m2 0h4m2 0h3m3 0h3m2 0h3m2 0h3m3 0h2m3 0h2m3 0h4m3 0h2m3 0h1m3 0h3m3 0h4m2 0h1m2 0h1m3 0h3m3 0h2m3 0h1m3 0h2m3 0h4m3 0h3m2 0h3m2 0h2m2 0h2m2 0h3m2 0h4m2 0h3m3 0h3m2 0h1m3 0h1m4 0h4m3 0h1m4 0h3m3 0h1m2 0h2m3 0h3m4 0h1m3 0h4m3 0h3m3 0h3m2 0h3m4 0h1m2 0h2m4 0h1m2 0h1M243 333.5h4m3 0h2m3 0h3m3 0h5m2 0h2m3 0h5m1 0h4m2 0h3m3 0h1m2 0h1m2 0h3m3 0h3m3 0h3m3 0h3m2 0h2m2 0h2m3 0h3m3 0h4m2 0h3m2 0h4m1 0h4m2 0h2m2 0h5m1 0h4m1 0h3m2 0h1m2 0h2m2 0h3m2 0h5m2 0h4m3 0h4m2 0h3m3 0h4m2 0h3m2 0h2m3 0h2m3 0h2m2 0h2m3 0h4m2 0h4m2 0h4m2 0h4m2 0h3m3 0h3m2 0h3m2 0h3m3 0h2m3 0h2m3 0h4m3 0h2m3 0h1m3 0h3m3 0h4m2 0h1m2 0h1m3 0h3m3 0h2m3 0h1m3 0h2m3 0h4m3 0h3m2 0h3m2 0h2m2 0h2m2 0h3m2 0h4m2 0h3m3 0h3m2 0h1m3 0h1m4 0h4m3 0h1m4 0h3m3 0h1m2 0h2m3 0h3m4 0h1m3 0h4m3 0h3m3 0h3m2 0h3m4 0h1m2 0h2m4 0h1M243 334.5h4m3 0h2m3 0h3m3 0h5m2 0h2m3 0h5m1 0h4m2 0h3m3 0h1m2 0h1m2 0h3m3 0h3m3 0h3m3 0h3m2 0h2m2 0h2m3 0h3m3 0h4m2 0h3m2 0h4m1 0h4m2 0h2m2 0h5m1 0h4m1 0h3m2 0h1m2 0h2m2 0h3m2 0h5m2 0h4m3 0h4m2 0h3m3 0h4m2 0h3m2 0h2m3 0h2m3 0h2m2 0h2m3 0h4m2 0h4m2 0h4m2 0h4m2 0h3m3 0h3m2 0h3m2 0h3m3 0h2m3 0h2m3 0h4m3 0h2m3 0h1m3 0h3m3 0h4m2 0h1m2 0h1m3 0h3m3 0h2m3 0h1m3 0h2m3 0h4m3 0h3m2 0h3m2 0h2m2 0h2m2 0h3m2 0h4m2 0h3m3 0h3m2 0h1m3 0h1m4 0h4m3 0h1m4 0h3m3 0h1m2 0h2m3 0h3m4 0h1m3 0h4m3 0h3m3 0h3m2 0h3m4 0h1m2 0h2m4 0h1M237 335.5h450M0 336.5h688M0 337.5h687M0 338.5h687M0 339.5h687M0 340.5h687M0 341.5h432m5 0h250M0 342.5h432m5 0h250M0 343.5h432m5 0h250M0 344.5h432m5 0h250M0 345.5h432m5 0h250M0 346.5h687M0 347.5h687M0 348.5h687M0 349.5h687M0 350.5h687M0 351.5h687M0 352.5h687M0 353.5h687M0 354.5h7m3 0h6m3 0h6m3 0h3m3 0h2m2 0h3m3 0h6m2 0h7m3 0h6m2 0h3m1 0h6m2 0h5m2 0h2m3 0h4m2 0h2m2 0h3m1 0h6m3 0h4m2 0h4m2 0h1m2 0h6m3 0h2m2 0h4m3 0h3m3 0h5m3 0h6m2 0h6m4 0h5m4 0h2m3 0h3m3 0h1m2 0h6m1 0h5m4 0h2m4 0h1m3 0h4m1 0h5m2 0h7m3 0h3m2 0h2m2 0h4m2 0h5m3 0h6m3 0h6m1 0h3m2 0h6m3 0h6m1 0h5m2 0h5m3 0h4m2 0h6m2 0h6m2 0h3m2 0h2m2 0h3m2 0h6m2 0h3m4 0h2m1 0h4m2 0h2m2 0h2m3 0h6m4 0h3m2 0h6m1 0h5m3 0h5m3 0h6m3 0h3m4 0h4m3 0h2m3 0h4m3 0h5m4 0h4m2 0h6m2 0h6m1 0h3m2 0h6m2 0h2m1 0h4m3 0h3m2 0h2m3 0h6m4 0h3m3 0h3m2 0h5m2 0h3m3 0h6m2 0h4m2 0h5m3 0h6m2 0h2m2 0h3m2 0h3m2 0h4m2 0h2m2 0h2m2 0h6m2 0h3m3 0h2m3 0h5m2 0h3m2 0h2m3 0h6m3 0h3m4 0h6m14 0h2m2 0h1m10 0h2m4 0h2m22 0h1m1 0h1m2 0h2m8 0h3m5 0h1m3 0h2m6 0h1m3 0h1m9 0h2m3 0h1m1 0h1m4 0h3m3 0h1m18 0h1m5 0h1M0 355.5h7m3 0h6m3 0h6m3 0h3m3 0h2m2 0h3m3 0h6m2 0h7m3 0h6m2 0h3m1 0h6m2 0h5m2 0h2m3 0h4m2 0h2m2 0h3m1 0h6m3 0h4m2 0h4m2 0h1m2 0h6m3 0h2m2 0h4m3 0h3m3 0h5m3 0h6m2 0h6m4 0h5m4 0h2m3 0h3m3 0h1m2 0h6m1 0h5m4 0h2m4 0h1m3 0h4m1 0h5m2 0h7m3 0h3m2 0h2m2 0h4m2 0h5m3 0h6m3 0h6m1 0h3m2 0h6m3 0h6m1 0h5m2 0h5m3 0h4m2 0h6m2 0h6m2 0h3m2 0h2m2 0h3m2 0h6m2 0h3m4 0h2m1 0h4m2 0h2m2 0h2m3 0h6m4 0h3m2 0h6m1 0h5m3 0h5m3 0h6m3 0h3m4 0h4m3 0h2m3 0h4m3 0h5m4 0h4m2 0h6m2 0h6m1 0h3m2 0h6m2 0h2m1 0h4m3 0h3m2 0h2m3 0h6m4 0h3m3 0h3m2 0h5m2 0h3m3 0h6m2 0h4m2 0h5m3 0h6m2 0h2m2 0h3m2 0h3m2 0h4m2 0h2m2 0h2m2 0h6m2 0h3m3 0h2m3 0h5m2 0h3m2 0h2m3 0h6m3 0h3m4 0h6m14 0h2m2 0h1m10 0h2m4 0h2m22 0h1m1 0h1m2 0h2m8 0h3m5 0h1m3 0h2m6 0h1m3 0h1m9 0h2m3 0h1m1 0h1m4 0h3m3 0h1m18 0h1m5 0h1M0 356.5h7m3 0h6m3 0h7m1 0h4m3 0h2m2 0h3m3 0h6m2 0h7m3 0h6m2 0h3m1 0h6m2 0h5m2 0h2m2 0h5m2 0h2m2 0h3m1 0h6m3 0h5m1 0h7m2 0h6m3 0h3m1 0h4m3 0h3m3 0h6m2 0h6m2 0h6m4 0h5m4 0h2m3 0h3m3 0h1m2 0h6m1 0h5m4 0h2m4 0h1m3 0h4m1 0h5m2 0h7m3 0h3m2 0h2m2 0h12m2 0h6m2 0h7m1 0h4m1 0h6m3 0h6m1 0h5m2 0h5m3 0h12m2 0h6m2 0h3m2 0h2m2 0h3m2 0h6m2 0h4m2 0h3m1 0h4m2 0h2m2 0h2m3 0h6m4 0h3m2 0h6m1 0h5m3 0h5m3 0h6m3 0h3m4 0h5m1 0h3m3 0h5m1 0h6m4 0h4m2 0h7m1 0h6m1 0h4m1 0h6m2 0h2m1 0h4m3 0h4m1 0h2m2 0h8m2 0h4m3 0h3m2 0h5m2 0h3m3 0h6m2 0h11m3 0h6m2 0h2m2 0h3m2 0h3m2 0h4m2 0h2m2 0h10m2 0h4m1 0h3m3 0h5m2 0h3m2 0h2m3 0h6m3 0h3m4 0h7m8 0h2m3 0h2m2 0h2m4 0h1m4 0h2m4 0h2m2 0h1m2 0h1m5 0h1m6 0h1m3 0h3m2 0h2m2 0h3m3 0h3m4 0h2m3 0h1m5 0h3m3 0h2m2 0h3m3 0h2m3 0h3m5 0h2m3 0h2m6 0h3m3 0h2m3 0h3m3 0h3M0 357.5h687M0 358.5h687M0 359.5h686M0 360.5h686M0 361.5h38m3 0h43m3 0h115m2 0h43m4 0h135m2 0h24m2 0h65m1 0h30m3 0h96m1 0h22m2 0h52m12 0h1m78 0h1m37 0h1M0 362.5h39m9 0h29m10 0h33m2 0h60m1 0h20m5 0h29m13 0h44m3 0h70m1 0h18m6 0h16m5 0h18m1 0h34m1 0h13m3 0h20m9 0h30m2 0h65m4 0h15m6 0h19m1 0h33m11 0h3m73 0h3m39 0h1M0 363.5h41m15 0h11m18 0h31m5 0h62m3 0h18m10 0h11m23 0h41m7 0h72m2 0h17m10 0h6m9 0h17m2 0h36m1 0h12m7 0h8m15 0h29m4 0h52m2 0h13m7 0h6m10 0h18m2 0h34m12 0h4m69 0h4m40 0h3M0 364.5h43m39 0h31m6 0h65m3 0h18m40 0h41m7 0h76m3 0h17m22 0h16m4 0h36m2 0h12m27 0h28m6 0h54m2 0h13m20 0h18m3 0h35m12 0h1m5 0h1m64 0h5m42 0h3M0 365.5h46m33 0h32m7 0h67m4 0h18m34 0h41m9 0h79m3 0h17m19 0h17m4 0h38m2 0h12m23 0h29m6 0h57m2 0h13m18 0h18m3 0h36m82 0h5m44 0h3M13 366.5h36m26 0h33m8 0h37m12 0h21m4 0h19m27 0h43m9 0h49m14 0h20m4 0h17m16 0h17m3 0h20m7 0h14m2 0h13m18 0h30m6 0h34m10 0h15m3 0h14m14 0h18m4 0h21m9 0h6m21 0h1m59 0h5m47 0h3M17 367.5h9m2 0h25m17 0h28m1 0h7m8 0h6m1 0h24m24 0h18m5 0h20m17 0h36m2 0h8m11 0h8m2 0h31m28 0h17m4 0h19m10 0h14m1 0h3m4 0h4m1 0h12m14 0h11m3 0h14m11 0h25m1 0h6m7 0h7m1 0h21m20 0h13m3 0h15m9 0h15m1 0h4m4 0h18m40 0h2m56 0h6m48 0h4M21 368.5h7m4 0h62m3 0h6m8 0h6m3 0h20m32 0h11m2 0h3m5 0h3m2 0h62m5 0h7m11 0h7m4 0h27m37 0h11m1 0h3m5 0h3m1 0h35m2 0h3m4 0h3m2 0h11m17 0h8m1 0h2m3 0h3m1 0h42m3 0h5m8 0h5m2 0h19m26 0h8m2 0h2m3 0h3m1 0h32m2 0h3m5 0h3m2 0h11m43 0h4m53 0h6m50 0h4M0 369.5h10m14 0h6m5 0h56m4 0h6m8 0h5m4 0h19m37 0h11m2 0h3m4 0h4m2 0h56m6 0h7m11 0h7m5 0h24m44 0h10m2 0h2m5 0h3m2 0h32m2 0h3m4 0h3m2 0h10m21 0h7m1 0h2m3 0h2m2 0h38m4 0h5m8 0h4m4 0h16m32 0h7m2 0h2m3 0h3m1 0h29m3 0h3m5 0h3m2 0h10m45 0h5m50 0h6m53 0h3M0 370.5h15m12 0h6m5 0h50m5 0h5m9 0h5m4 0h18m42 0h10m2 0h3m5 0h3m3 0h50m6 0h8m11 0h7m5 0h23m49 0h10m2 0h3m4 0h3m3 0h28m2 0h4m4 0h3m2 0h9m24 0h7m1 0h2m3 0h2m2 0h34m5 0h5m8 0h4m4 0h16m35 0h7m2 0h2m3 0h3m2 0h26m2 0h4m4 0h3m2 0h10m48 0h6m47 0h6m55 0h3M8 371.5h11m11 0h6m4 0h45m5 0h6m9 0h5m4 0h17m24 0h9m13 0h10m2 0h3m5 0h4m2 0h45m7 0h8m11 0h7m5 0h22m32 0h10m13 0h9m2 0h3m4 0h4m2 0h25m3 0h3m5 0h3m1 0h9m13 0h5m9 0h7m1 0h2m3 0h2m2 0h31m4 0h6m8 0h4m3 0h16m22 0h7m10 0h7m2 0h2m3 0h3m2 0h23m3 0h3m5 0h3m2 0h10m13 0h7m31 0h5m44 0h6m58 0h3M14 372.5h8m10 0h7m5 0h37m6 0h6m9 0h6m3 0h17m19 0h21m11 0h9m3 0h3m5 0h3m3 0h39m7 0h8m12 0h7m5 0h21m26 0h24m10 0h9m2 0h3m5 0h3m3 0h22m2 0h4m5 0h2m2 0h9m10 0h12m7 0h6m2 0h2m3 0h2m2 0h26m5 0h6m8 0h5m3 0h16m17 0h17m8 0h7m1 0h3m3 0h3m2 0h20m3 0h4m5 0h3m2 0h9m11 0h16m27 0h6m40 0h7m60 0h3M0 373.5h11m7 0h7m10 0h7m5 0h30m6 0h8m9 0h5m4 0h16m17 0h29m9 0h10m2 0h3m5 0h4m4 0h30m8 0h10m12 0h7m5 0h21m22 0h34m9 0h8m2 0h3m5 0h4m3 0h17m4 0h3m5 0h3m2 0h9m9 0h16m6 0h6m1 0h3m3 0h3m2 0h21m5 0h7m8 0h5m3 0h15m16 0h23m7 0h7m1 0h3m3 0h3m3 0h16m3 0h4m5 0h3m2 0h10m9 0h21m26 0h7m37 0h6m62 0h4M0 374.5h16m5 0h7m10 0h7m7 0h20m8 0h8m10 0h5m4 0h16m16 0h34m9 0h9m2 0h3m6 0h4m5 0h20m11 0h10m13 0h7m5 0h21m20 0h41m8 0h9m2 0h3m5 0h4m4 0h12m4 0h4m5 0h3m2 0h8m9 0h19m6 0h6m1 0h2m4 0h3m3 0h14m7 0h7m9 0h5m3 0h15m14 0h29m6 0h7m1 0h3m4 0h3m3 0h10m5 0h4m6 0h3m2 0h9m9 0h23m28 0h6m34 0h7m64 0h4M0 375.5h19m5 0h7m10 0h8m26 0h9m11 0h6m3 0h16m15 0h40m8 0h9m2 0h4m6 0h5m27 0h12m14 0h7m5 0h21m19 0h46m8 0h9m2 0h3m6 0h4m15 0h5m6 0h3m2 0h8m8 0h22m6 0h6m1 0h2m4 0h4m18 0h8m10 0h5m3 0h15m13 0h33m6 0h7m1 0h3m4 0h4m13 0h6m6 0h3m2 0h9m8 0h26m28 0h7m29 0h8m67 0h5M0 376.5h23m4 0h6m11 0h11m13 0h13m11 0h6m4 0h16m14 0h45m8 0h9m2 0h3m7 0h7m14 0h16m15 0h8m5 0h21m18 0h52m8 0h8m2 0h3m6 0h7m8 0h6m6 0h3m2 0h9m7 0h26m5 0h6m1 0h2m5 0h4m10 0h11m10 0h6m3 0h15m12 0h38m5 0h7m1 0h3m4 0h5m8 0h7m6 0h3m3 0h9m8 0h27m30 0h8m24 0h8m70 0h5M0 377.5h25m5 0h6m12 0h29m13 0h6m4 0h16m13 0h49m8 0h9m2 0h4m7 0h29m17 0h8m6 0h21m17 0h58m7 0h8m2 0h4m7 0h16m7 0h3m2 0h9m7 0h28m5 0h6m1 0h2m5 0h20m12 0h5m4 0h15m12 0h41m5 0h7m1 0h3m5 0h15m8 0h3m2 0h9m8 0h29m32 0h8m19 0h9m73 0h6M0 378.5h28m5 0h6m14 0h18m16 0h6m4 0h17m13 0h28m9 0h16m7 0h9m3 0h3m10 0h18m21 0h8m5 0h22m17 0h37m10 0h15m7 0h9m2 0h3m9 0h10m8 0h4m2 0h8m7 0h15m5 0h11m4 0h7m1 0h2m6 0h13m14 0h6m4 0h15m11 0h26m7 0h12m5 0h7m1 0h3m7 0h9m9 0h4m2 0h9m8 0h15m7 0h7m19 0h1m15 0h10m11 0h12m76 0h6M0 379.5h31m4 0h7m41 0h7m5 0h16m13 0h23m21 0h13m7 0h10m2 0h4m42 0h9m6 0h22m17 0h30m24 0h12m7 0h9m2 0h4m24 0h3m3 0h8m7 0h12m12 0h8m5 0h6m2 0h3m28 0h7m4 0h14m12 0h21m17 0h10m5 0h7m1 0h3m22 0h4m2 0h10m7 0h13m16 0h1m38 0h28m80 0h11M11 380.5h23m4 0h7m35 0h7m5 0h17m13 0h20m9 0h15m5 0h11m8 0h9m3 0h4m35 0h11m6 0h22m16 0h27m12 0h17m5 0h11m6 0h9m3 0h4m20 0h4m2 0h9m7 0h11m4 0h9m3 0h7m5 0h6m2 0h3m24 0h7m4 0h15m12 0h19m7 0h13m3 0h9m5 0h7m2 0h3m18 0h4m3 0h10m7 0h11m5 0h11m44 0h24m83 0h10M16 381.5h20m5 0h8m26 0h9m5 0h18m12 0h20m6 0h24m4 0h11m7 0h10m3 0h5m26 0h12m7 0h23m16 0h25m9 0h28m4 0h10m7 0h9m3 0h5m14 0h5m3 0h9m7 0h10m3 0h14m2 0h7m5 0h7m1 0h4m18 0h8m5 0h15m12 0h17m6 0h20m3 0h8m5 0h7m2 0h4m13 0h6m2 0h10m7 0h11m4 0h18m42 0h19m88 0h8M19 382.5h20m5 0h11m13 0h13m5 0h18m13 0h18m6 0h12m12 0h7m3 0h10m7 0h11m3 0h7m13 0h17m7 0h24m16 0h24m7 0h17m13 0h6m3 0h10m7 0h10m3 0h6m8 0h6m3 0h10m6 0h10m3 0h6m7 0h4m2 0h7m5 0h7m2 0h4m9 0h12m5 0h16m12 0h16m5 0h12m9 0h5m2 0h8m5 0h7m2 0h6m6 0h8m3 0h10m7 0h10m3 0h8m8 0h6m45 0h11m54 0h9m31 0h6M23 383.5h19m6 0h28m7 0h19m13 0h17m5 0h9m22 0h6m3 0h9m8 0h11m3 0h29m9 0h25m16 0h23m7 0h12m25 0h5m3 0h9m7 0h10m4 0h16m3 0h10m7 0h9m3 0h5m12 0h4m1 0h7m5 0h7m2 0h20m6 0h17m12 0h15m5 0h8m19 0h3m2 0h8m5 0h8m2 0h15m4 0h11m7 0h10m2 0h6m16 0h3m105 0h15M25 384.5h21m7 0h17m9 0h21m13 0h16m5 0h8m29 0h5m2 0h10m7 0h12m5 0h17m12 0h27m16 0h22m6 0h11m34 0h4m3 0h9m6 0h11m5 0h10m4 0h11m7 0h9m2 0h4m17 0h3m2 0h6m5 0h7m3 0h13m7 0h19m12 0h15m4 0h7m25 0h3m2 0h7m5 0h8m4 0h9m5 0h11m7 0h10m3 0h4m21 0h2m101 0h20M0 385.5h7m21 0h22m24 0h23m13 0h17m4 0h7m35 0h4m3 0h9m7 0h13m25 0h30m17 0h22m6 0h9m41 0h4m2 0h9m7 0h12m14 0h12m7 0h8m3 0h3m20 0h3m2 0h6m5 0h8m17 0h21m12 0h14m4 0h7m29 0h3m2 0h6m6 0h9m13 0h13m7 0h10m2 0h4m23 0h3m98 0h23M0 386.5h13m18 0h25m11 0h28m13 0h16m4 0h7m16 0h15m9 0h4m2 0h9m8 0h16m10 0h37m17 0h22m5 0h8m21 0h18m9 0h3m2 0h9m7 0h15m6 0h15m7 0h8m2 0h4m8 0h9m6 0h2m1 0h7m4 0h11m7 0h26m11 0h15m4 0h6m14 0h13m6 0h3m2 0h6m6 0h11m6 0h15m8 0h9m2 0h4m9 0h11m5 0h5m93 0h12m9 0h6M0 387.5h17m17 0h58m14 0h16m4 0h6m13 0h24m8 0h3m2 0h10m7 0h59m17 0h21m6 0h8m17 0h28m7 0h4m2 0h8m7 0h33m7 0h9m2 0h3m7 0h14m5 0h2m1 0h6m5 0h40m12 0h15m4 0h5m12 0h20m6 0h2m2 0h6m6 0h30m8 0h9m2 0h3m8 0h26m90 0h9m15 0h6M0 388.5h21m15 0h53m14 0h16m4 0h6m12 0h12m12 0h7m6 0h4m2 0h9m8 0h53m18 0h21m5 0h8m15 0h16m14 0h7m6 0h3m2 0h8m8 0h30m7 0h9m2 0h3m6 0h6m7 0h4m5 0h2m1 0h6m5 0h37m12 0h15m3 0h6m10 0h11m10 0h5m5 0h2m2 0h6m6 0h27m8 0h9m3 0h3m6 0h7m9 0h15m86 0h8m20 0h5M0 389.5h24m15 0h47m15 0h16m4 0h5m11 0h9m23 0h5m6 0h3m2 0h9m9 0h47m19 0h21m5 0h7m14 0h12m27 0h4m6 0h3m2 0h9m8 0h26m8 0h8m2 0h3m6 0h5m12 0h4m4 0h2m1 0h6m6 0h32m13 0h15m3 0h5m10 0h8m19 0h4m4 0h2m2 0h6m6 0h25m8 0h9m2 0h3m6 0h6m16 0h1m5 0h7m82 0h8m23 0h5M0 390.5h27m15 0h41m16 0h16m3 0h6m10 0h8m8 0h17m4 0h5m5 0h3m2 0h10m9 0h41m20 0h21m5 0h7m13 0h10m11 0h20m4 0h4m5 0h3m2 0h9m8 0h23m9 0h8m2 0h3m5 0h4m4 0h10m3 0h3m4 0h2m1 0h6m6 0h28m14 0h15m3 0h5m9 0h7m7 0h14m4 0h3m4 0h2m2 0h6m7 0h21m9 0h9m2 0h3m6 0h4m5 0h12m10 0h6m79 0h7m28 0h4M0 391.5h29m17 0h33m17 0h17m3 0h5m10 0h7m6 0h26m3 0h4m6 0h3m2 0h9m10 0h34m22 0h21m5 0h7m12 0h10m8 0h30m3 0h4m5 0h3m2 0h8m9 0h19m9 0h9m2 0h3m5 0h3m4 0h14m2 0h3m3 0h3m1 0h6m6 0h23m16 0h15m3 0h5m8 0h7m5 0h22m2 0h3m4 0h2m2 0h6m7 0h18m9 0h10m2 0h3m5 0h4m3 0h19m8 0h5m78 0h6m31 0h4M7 392.5h25m18 0h24m20 0h16m4 0h5m9 0h7m5 0h32m3 0h4m5 0h3m2 0h9m11 0h25m26 0h21m5 0h7m12 0h8m7 0h38m3 0h3m5 0h3m2 0h9m10 0h14m10 0h9m2 0h2m5 0h4m2 0h19m2 0h2m3 0h2m2 0h6m7 0h17m17 0h16m3 0h5m8 0h6m5 0h26m2 0h3m4 0h2m1 0h7m8 0h13m11 0h9m2 0h3m5 0h4m3 0h22m9 0h3m76 0h7m33 0h3M13 393.5h22m21 0h11m24 0h17m4 0h5m9 0h6m5 0h37m3 0h3m5 0h3m2 0h10m14 0h10m32 0h22m5 0h7m11 0h8m7 0h44m2 0h4m4 0h3m2 0h9m13 0h6m13 0h9m1 0h3m5 0h3m3 0h21m2 0h2m3 0h2m1 0h7m9 0h7m22 0h16m3 0h4m8 0h6m4 0h32m2 0h2m4 0h2m1 0h7m10 0h6m13 0h10m2 0h3m5 0h3m3 0h24m11 0h1m75 0h6m36 0h3M0 394.5h10m7 0h21m50 0h18m3 0h5m9 0h6m5 0h42m2 0h4m5 0h3m2 0h10m50 0h23m5 0h7m11 0h8m6 0h49m3 0h3m4 0h3m2 0h10m28 0h9m2 0h3m4 0h4m2 0h24m2 0h2m3 0h2m1 0h7m34 0h16m4 0h4m8 0h5m5 0h35m2 0h2m4 0h2m1 0h8m26 0h10m2 0h3m4 0h4m2 0h27m84 0h6m39 0h3M0 395.5h15m6 0h19m45 0h18m4 0h5m9 0h5m5 0h46m3 0h3m5 0h3m2 0h10m45 0h24m5 0h7m11 0h7m6 0h55m2 0h3m5 0h2m2 0h10m25 0h10m2 0h3m4 0h3m2 0h27m2 0h2m3 0h2m1 0h7m31 0h16m4 0h4m8 0h5m4 0h39m2 0h2m4 0h2m1 0h8m23 0h10m2 0h3m5 0h3m3 0h28m83 0h6m41 0h3M8 396.5h11m5 0h20m37 0h20m4 0h5m8 0h6m4 0h51m2 0h3m5 0h3m2 0h11m39 0h25m5 0h7m11 0h7m5 0h60m3 0h2m5 0h3m2 0h10m22 0h10m2 0h3m4 0h3m2 0h29m2 0h2m3 0h2m1 0h7m26 0h18m4 0h4m8 0h5m4 0h42m2 0h2m4 0h2m1 0h8m20 0h11m2 0h3m5 0h3m2 0h30m18 0h2m61 0h6m43 0h4M14 397.5h8m5 0h20m30 0h22m3 0h6m8 0h5m4 0h25m17 0h13m3 0h3m4 0h3m3 0h12m30 0h28m5 0h7m11 0h7m5 0h32m20 0h13m2 0h3m4 0h3m2 0h11m17 0h12m2 0h2m5 0h3m2 0h12m10 0h9m1 0h3m3 0h2m1 0h8m21 0h19m4 0h4m8 0h5m3 0h22m14 0h10m2 0h2m3 0h3m1 0h9m16 0h12m2 0h3m4 0h4m2 0h14m12 0h4m13 0h4m1 0h4m59 0h6m45 0h4M18 398.5h7m4 0h23m20 0h24m4 0h5m9 0h5m4 0h21m26 0h12m2 0h3m5 0h3m2 0h14m20 0h32m5 0h7m11 0h7m5 0h28m30 0h11m2 0h3m4 0h3m2 0h13m12 0h12m2 0h3m5 0h2m2 0h12m14 0h8m1 0h2m3 0h3m1 0h9m14 0h22m3 0h5m8 0h4m4 0h19m22 0h8m2 0h2m3 0h3m1 0h10m10 0h14m2 0h4m4 0h3m2 0h12m38 0h5m56 0h6m48 0h4M21 399.5h7m4 0h62m4 0h5m9 0h5m3 0h20m32 0h11m2 0h3m5 0h3m2 0h62m5 0h7m11 0h7m5 0h25m38 0h10m2 0h3m5 0h2m3 0h34m2 0h3m4 0h3m2 0h10m19 0h7m1 0h2m3 0h2m2 0h41m4 0h5m8 0h4m4 0h18m26 0h8m2 0h2m3 0h3m1 0h32m2 0h3m5 0h3m2 0h11m41 0h6m53 0h6m50 0h4M0 400.5h10m14 0h6m5 0h56m4 0h6m8 0h5m4 0h19m37 0h11m2 0h3m4 0h4m2 0h56m6 0h7m11 0h7m5 0h24m44 0h10m2 0h2m5 0h3m2 0h32m2 0h3m4 0h3m2 0h10m21 0h7m1 0h2m3 0h2m2 0h38m4 0h5m8 0h4m4 0h16m32 0h7m2 0h2m3 0h3m1 0h29m3 0h3m5 0h3m2 0h10m45 0h5m50 0h6m53 0h3M0 401.5h15m12 0h6m5 0h50m5 0h5m9 0h5m4 0h18m42 0h10m2 0h3m5 0h3m3 0h50m6 0h8m11 0h7m5 0h23m49 0h10m2 0h3m4 0h3m3 0h28m2 0h4m4 0h3m2 0h9m24 0h7m1 0h2m3 0h2m2 0h34m5 0h5m8 0h4m4 0h16m35 0h7m2 0h2m3 0h3m2 0h26m2 0h4m4 0h3m2 0h10m48 0h6m47 0h6m55 0h3M8 402.5h11m11 0h6m4 0h45m5 0h6m9 0h5m4 0h17m24 0h9m13 0h10m2 0h3m5 0h4m2 0h45m7 0h8m11 0h7m5 0h22m32 0h10m13 0h9m2 0h3m4 0h4m2 0h25m3 0h3m5 0h3m1 0h9m13 0h5m9 0h7m1 0h2m3 0h2m2 0h31m4 0h6m8 0h4m3 0h16m22 0h7m10 0h7m2 0h2m3 0h3m2 0h23m3 0h3m5 0h3m2 0h10m13 0h7m31 0h5m44 0h6m58 0h3M14 403.5h8m10 0h7m5 0h37m6 0h6m9 0h6m3 0h17m19 0h21m11 0h9m3 0h3m5 0h3m3 0h39m7 0h8m12 0h7m5 0h21m26 0h24m10 0h9m2 0h3m5 0h3m3 0h22m2 0h4m5 0h2m2 0h9m10 0h12m7 0h6m2 0h2m3 0h2m2 0h26m5 0h6m8 0h5m3 0h16m17 0h17m8 0h7m1 0h3m3 0h3m2 0h20m3 0h4m5 0h3m2 0h9m11 0h16m27 0h6m40 0h7m60 0h3M0 404.5h11m7 0h7m10 0h7m5 0h30m6 0h8m9 0h5m4 0h16m17 0h29m9 0h10m2 0h3m5 0h4m4 0h30m8 0h10m12 0h7m5 0h21m22 0h34m9 0h8m2 0h3m5 0h4m3 0h17m4 0h3m5 0h3m2 0h9m9 0h16m6 0h6m1 0h3m3 0h3m2 0h21m5 0h7m8 0h5m3 0h15m16 0h23m7 0h7m1 0h3m3 0h3m3 0h16m3 0h4m5 0h3m2 0h10m9 0h21m26 0h7m37 0h6m62 0h4M0 405.5h16m5 0h7m10 0h7m7 0h20m8 0h8m10 0h5m4 0h16m16 0h34m9 0h9m2 0h3m6 0h4m5 0h20m11 0h10m13 0h7m5 0h21m20 0h41m8 0h9m2 0h3m5 0h4m4 0h12m4 0h4m5 0h3m2 0h8m9 0h19m6 0h6m1 0h2m4 0h3m3 0h14m7 0h7m9 0h5m3 0h15m14 0h29m6 0h7m1 0h3m4 0h3m3 0h10m5 0h4m6 0h3m2 0h9m9 0h23m28 0h6m34 0h7m64 0h4M0 406.5h19m5 0h7m10 0h8m26 0h9m11 0h6m3 0h16m15 0h40m8 0h9m2 0h4m6 0h5m27 0h12m14 0h7m5 0h21m19 0h46m8 0h9m2 0h3m6 0h4m15 0h5m6 0h3m2 0h8m8 0h22m6 0h6m1 0h2m4 0h4m18 0h8m10 0h5m3 0h15m13 0h33m6 0h7m1 0h3m4 0h4m13 0h6m6 0h3m2 0h9m8 0h26m28 0h7m29 0h8m67 0h5M0 407.5h23m4 0h6m11 0h11m13 0h13m11 0h6m4 0h16m14 0h45m8 0h9m2 0h3m7 0h7m14 0h16m15 0h8m5 0h21m18 0h52m8 0h8m2 0h3m6 0h7m8 0h6m6 0h3m2 0h9m7 0h26m5 0h6m1 0h2m5 0h4m10 0h11m10 0h6m3 0h15m12 0h38m5 0h7m1 0h3m4 0h5m8 0h7m6 0h3m3 0h9m8 0h27m30 0h8m24 0h8m70 0h5M0 408.5h25m5 0h6m12 0h29m13 0h6m4 0h16m13 0h49m8 0h9m2 0h4m7 0h29m17 0h8m6 0h21m17 0h58m7 0h8m2 0h4m7 0h16m7 0h3m2 0h9m7 0h28m5 0h6m1 0h2m5 0h20m12 0h5m4 0h15m12 0h41m5 0h7m1 0h3m5 0h15m8 0h3m2 0h9m8 0h29m32 0h8m19 0h9m73 0h6M0 409.5h28m5 0h6m14 0h18m16 0h6m4 0h17m13 0h28m9 0h16m7 0h9m3 0h3m10 0h18m21 0h8m5 0h22m17 0h37m10 0h15m7 0h9m2 0h3m9 0h10m8 0h4m2 0h8m7 0h15m5 0h11m4 0h7m1 0h2m6 0h13m14 0h6m4 0h15m11 0h26m7 0h12m5 0h7m1 0h3m7 0h9m9 0h4m2 0h9m8 0h15m7 0h7m35 0h10m11 0h12m76 0h6M0 410.5h31m4 0h7m41 0h7m5 0h16m13 0h23m21 0h13m7 0h10m2 0h4m42 0h9m6 0h22m17 0h30m24 0h12m7 0h9m2 0h4m24 0h3m3 0h8m7 0h12m12 0h8m5 0h6m2 0h3m28 0h7m4 0h14m12 0h21m17 0h10m5 0h7m1 0h3m22 0h4m2 0h10m7 0h13m16 0h1m38 0h28m80 0h11M11 411.5h23m4 0h7m35 0h7m5 0h17m13 0h20m9 0h15m5 0h11m8 0h9m3 0h4m35 0h11m6 0h22m16 0h27m12 0h17m5 0h11m6 0h9m3 0h4m20 0h4m2 0h9m7 0h11m4 0h9m3 0h7m5 0h6m2 0h3m24 0h7m4 0h15m12 0h19m7 0h13m3 0h9m5 0h7m2 0h3m18 0h4m3 0h10m7 0h11m5 0h11m44 0h24m83 0h10M16 412.5h20m5 0h8m26 0h9m5 0h18m12 0h20m6 0h24m4 0h11m7 0h10m3 0h5m26 0h12m7 0h23m16 0h25m9 0h28m4 0h10m7 0h9m3 0h5m14 0h5m3 0h9m7 0h10m3 0h14m2 0h7m5 0h7m1 0h4m18 0h8m5 0h15m12 0h17m6 0h20m3 0h8m5 0h7m2 0h4m13 0h6m2 0h10m7 0h11m4 0h18m42 0h19m88 0h8M19 413.5h20m5 0h11m13 0h13m5 0h18m13 0h18m6 0h12m12 0h7m3 0h10m7 0h11m3 0h7m13 0h17m7 0h24m16 0h24m7 0h17m13 0h6m3 0h10m7 0h10m3 0h6m8 0h6m3 0h10m6 0h10m3 0h6m7 0h4m2 0h7m5 0h7m2 0h4m9 0h12m5 0h16m12 0h16m5 0h12m9 0h5m2 0h8m5 0h7m2 0h6m6 0h8m3 0h10m7 0h10m3 0h8m8 0h6m45 0h11m54 0h9m31 0h6M23 414.5h19m6 0h28m7 0h19m13 0h17m5 0h9m22 0h6m3 0h9m8 0h11m3 0h29m9 0h25m16 0h23m7 0h12m25 0h5m3 0h9m7 0h10m4 0h16m3 0h10m7 0h9m3 0h5m12 0h4m1 0h7m5 0h7m2 0h20m6 0h17m12 0h15m5 0h8m19 0h3m2 0h8m5 0h8m2 0h15m4 0h11m7 0h10m2 0h6m16 0h3m105 0h15M25 415.5h21m7 0h17m9 0h21m13 0h16m5 0h8m29 0h5m2 0h10m7 0h12m5 0h17m12 0h27m16 0h22m6 0h11m34 0h4m3 0h9m6 0h11m5 0h10m4 0h11m7 0h9m2 0h4m17 0h3m2 0h6m5 0h7m3 0h13m7 0h19m12 0h15m4 0h7m25 0h3m2 0h7m5 0h8m4 0h9m5 0h11m7 0h10m3 0h4m21 0h2m101 0h20M0 416.5h7m21 0h22m24 0h23m13 0h17m4 0h7m35 0h4m3 0h9m7 0h13m25 0h30m17 0h22m6 0h9m41 0h4m2 0h9m7 0h12m14 0h12m7 0h8m3 0h3m20 0h3m2 0h6m5 0h8m17 0h21m12 0h14m4 0h7m29 0h3m2 0h6m6 0h9m13 0h13m7 0h10m2 0h4m23 0h3m98 0h23M0 417.5h13m18 0h25m11 0h28m13 0h16m4 0h7m16 0h15m9 0h4m2 0h9m8 0h16m10 0h37m17 0h22m5 0h8m21 0h18m9 0h3m2 0h9m7 0h15m6 0h15m7 0h8m2 0h4m8 0h9m6 0h2m1 0h7m4 0h11m7 0h26m11 0h15m4 0h6m14 0h13m6 0h3m2 0h6m6 0h11m6 0h15m8 0h9m2 0h4m9 0h11m5 0h5m93 0h12m9 0h6M0 418.5h17m17 0h58m14 0h16m4 0h6m13 0h24m8 0h3m2 0h10m7 0h59m17 0h21m6 0h8m17 0h28m7 0h4m2 0h8m7 0h33m7 0h9m2 0h3m7 0h14m5 0h2m1 0h6m5 0h40m12 0h15m4 0h5m12 0h20m6 0h2m2 0h6m6 0h30m8 0h9m2 0h3m8 0h26m90 0h9m15 0h6M0 419.5h21m15 0h53m14 0h16m4 0h6m12 0h12m12 0h7m6 0h4m2 0h9m8 0h53m18 0h21m5 0h8m15 0h16m14 0h7m6 0h3m2 0h8m8 0h30m7 0h9m2 0h3m6 0h6m7 0h4m5 0h2m1 0h6m5 0h37m12 0h15m3 0h6m10 0h11m10 0h5m5 0h2m2 0h6m6 0h27m8 0h9m3 0h3m6 0h7m9 0h15m86 0h8m20 0h5M0 420.5h24m15 0h47m15 0h16m4 0h5m11 0h9m23 0h5m6 0h3m2 0h9m9 0h47m19 0h21m5 0h7m14 0h12m27 0h4m6 0h3m2 0h9m8 0h26m8 0h8m2 0h3m6 0h5m12 0h4m4 0h2m1 0h6m6 0h32m13 0h15m3 0h5m10 0h8m19 0h4m4 0h2m2 0h6m6 0h25m8 0h9m2 0h3m6 0h6m16 0h1m5 0h7m82 0h8m23 0h5M0 421.5h27m15 0h41m16 0h16m3 0h6m10 0h8m8 0h17m4 0h5m5 0h3m2 0h10m9 0h41m20 0h21m5 0h7m13 0h10m11 0h20m4 0h4m5 0h3m2 0h9m8 0h23m9 0h8m2 0h3m5 0h4m4 0h10m3 0h3m4 0h2m1 0h6m6 0h28m14 0h15m3 0h5m9 0h7m7 0h14m4 0h3m4 0h2m2 0h6m7 0h21m9 0h9m2 0h3m6 0h4m5 0h12m10 0h6m79 0h7m28 0h4M0 422.5h29m17 0h33m17 0h17m3 0h5m10 0h7m6 0h26m3 0h4m6 0h3m2 0h9m10 0h34m22 0h21m5 0h7m12 0h10m8 0h30m3 0h4m5 0h3m2 0h8m9 0h19m9 0h9m2 0h3m5 0h3m4 0h14m2 0h3m3 0h3m1 0h6m6 0h23m16 0h15m3 0h5m8 0h7m5 0h22m2 0h3m4 0h2m2 0h6m7 0h18m9 0h10m2 0h3m5 0h4m3 0h19m8 0h7m76 0h6m31 0h4M7 423.5h25m18 0h24m20 0h16m4 0h5m9 0h7m5 0h32m3 0h4m5 0h3m2 0h9m11 0h25m26 0h21m5 0h7m12 0h8m7 0h38m3 0h3m5 0h3m2 0h9m10 0h14m10 0h9m2 0h2m5 0h4m2 0h19m2 0h2m3 0h2m2 0h6m7 0h17m17 0h16m3 0h5m8 0h6m5 0h26m2 0h3m4 0h2m1 0h7m8 0h13m11 0h9m2 0h3m5 0h4m3 0h22m9 0h6m73 0h7m33 0h3M13 424.5h22m21 0h11m24 0h17m4 0h5m9 0h6m5 0h37m3 0h3m5 0h3m2 0h10m14 0h10m32 0h22m5 0h7m11 0h8m7 0h44m2 0h4m4 0h3m2 0h9m13 0h6m13 0h9m1 0h3m5 0h3m3 0h21m2 0h2m3 0h2m1 0h7m9 0h7m22 0h16m3 0h4m8 0h6m4 0h32m2 0h2m4 0h2m1 0h7m10 0h6m13 0h10m2 0h3m5 0h3m3 0h24m11 0h5m71 0h6m36 0h3M0 425.5h10m7 0h21m50 0h18m3 0h5m9 0h6m5 0h42m2 0h4m5 0h3m2 0h10m50 0h23m5 0h7m11 0h8m6 0h49m3 0h3m4 0h3m2 0h10m28 0h9m2 0h3m4 0h4m2 0h24m2 0h2m3 0h2m1 0h7m34 0h16m4 0h4m8 0h5m5 0h35m2 0h2m4 0h2m1 0h8m26 0h10m2 0h3m4 0h4m2 0h27m11 0h6m67 0h6m39 0h3M0 426.5h15m6 0h19m45 0h18m4 0h5m9 0h5m5 0h46m3 0h3m5 0h3m2 0h10m45 0h24m5 0h7m11 0h7m6 0h55m2 0h3m5 0h2m2 0h10m25 0h10m2 0h3m4 0h3m2 0h27m2 0h2m3 0h2m1 0h7m31 0h16m4 0h4m8 0h5m4 0h39m2 0h2m4 0h2m1 0h8m23 0h10m2 0h3m5 0h3m3 0h28m13 0h5m65 0h6m41 0h3M8 427.5h11m5 0h20m37 0h20m4 0h5m8 0h6m4 0h51m2 0h3m5 0h3m2 0h11m39 0h25m5 0h7m11 0h7m5 0h60m3 0h2m5 0h3m2 0h10m22 0h10m2 0h3m4 0h3m2 0h29m2 0h2m3 0h2m1 0h7m26 0h18m4 0h4m8 0h5m4 0h42m2 0h2m4 0h2m1 0h8m20 0h11m2 0h3m5 0h3m2 0h30m14 0h6m61 0h6m43 0h4M14 428.5h8m5 0h20m30 0h22m3 0h6m8 0h5m4 0h25m17 0h13m3 0h3m4 0h3m3 0h12m30 0h28m5 0h7m11 0h7m5 0h32m20 0h13m2 0h3m4 0h3m2 0h11m17 0h12m2 0h2m5 0h3m2 0h12m10 0h9m1 0h3m3 0h2m1 0h8m21 0h19m4 0h4m8 0h5m3 0h22m14 0h10m2 0h2m3 0h3m1 0h9m16 0h12m2 0h3m4 0h4m2 0h14m12 0h4m17 0h5m59 0h6m45 0h4M18 429.5h7m4 0h23m20 0h24m4 0h5m9 0h5m4 0h21m26 0h12m2 0h3m5 0h3m2 0h14m20 0h32m5 0h7m11 0h7m5 0h28m30 0h11m2 0h3m4 0h3m2 0h13m12 0h12m2 0h3m5 0h2m2 0h12m14 0h8m1 0h2m3 0h3m1 0h9m14 0h22m3 0h5m8 0h4m4 0h19m22 0h8m2 0h2m3 0h3m1 0h10m10 0h14m2 0h4m4 0h3m2 0h12m38 0h5m56 0h6m48 0h4M21 430.5h7m4 0h62m4 0h5m9 0h5m3 0h20m32 0h11m2 0h3m5 0h3m2 0h62m5 0h7m11 0h7m5 0h25m38 0h10m2 0h3m5 0h2m3 0h34m2 0h3m4 0h3m2 0h10m19 0h7m1 0h2m3 0h2m2 0h41m4 0h5m8 0h4m4 0h18m26 0h8m2 0h2m3 0h3m1 0h32m2 0h3m5 0h3m2 0h11m41 0h6m53 0h6m50 0h4M0 431.5h10m14 0h6m5 0h56m4 0h6m8 0h5m4 0h19m37 0h11m2 0h3m4 0h4m2 0h56m6 0h7m11 0h7m5 0h24m44 0h10m2 0h2m5 0h3m2 0h32m2 0h3m4 0h3m2 0h10m21 0h7m1 0h2m3 0h2m2 0h38m4 0h5m8 0h4m4 0h16m32 0h7m2 0h2m3 0h3m1 0h29m3 0h3m5 0h3m2 0h10m45 0h5m50 0h6m53 0h3M0 432.5h15m12 0h6m5 0h50m5 0h5m9 0h5m4 0h18m42 0h10m2 0h3m5 0h3m3 0h50m6 0h8m11 0h7m5 0h23m49 0h10m2 0h3m4 0h3m3 0h28m2 0h4m4 0h3m2 0h9m24 0h7m1 0h2m3 0h2m2 0h34m5 0h5m8 0h4m4 0h16m35 0h7m2 0h2m3 0h3m2 0h26m2 0h4m4 0h3m2 0h10m48 0h6m47 0h6m55 0h3M8 433.5h11m11 0h6m4 0h45m5 0h6m9 0h5m4 0h17m24 0h9m13 0h10m2 0h3m5 0h4m2 0h45m7 0h8m11 0h7m5 0h22m32 0h10m13 0h9m2 0h3m4 0h4m2 0h25m3 0h3m5 0h3m1 0h9m13 0h5m9 0h7m1 0h2m3 0h2m2 0h31m4 0h6m8 0h4m3 0h16m22 0h7m10 0h7m2 0h2m3 0h3m2 0h23m3 0h3m5 0h3m2 0h10m13 0h7m31 0h5m44 0h6m58 0h3M14 434.5h8m10 0h7m5 0h37m6 0h6m9 0h6m3 0h17m19 0h21m11 0h9m3 0h3m5 0h3m3 0h39m7 0h8m12 0h7m5 0h21m26 0h24m10 0h9m2 0h3m5 0h3m3 0h22m2 0h4m5 0h2m2 0h9m10 0h12m7 0h6m2 0h2m3 0h2m2 0h26m5 0h6m8 0h5m3 0h16m17 0h17m8 0h7m1 0h3m3 0h3m2 0h20m3 0h4m5 0h3m2 0h9m11 0h16m27 0h6m40 0h7m60 0h3M0 435.5h11m7 0h7m10 0h7m5 0h30m6 0h8m9 0h5m4 0h16m17 0h29m9 0h10m2 0h3m5 0h4m4 0h30m8 0h10m12 0h7m5 0h21m22 0h34m9 0h8m2 0h3m5 0h4m3 0h17m4 0h3m5 0h3m2 0h9m9 0h16m6 0h6m1 0h3m3 0h3m2 0h21m5 0h7m8 0h5m3 0h15m16 0h23m7 0h7m1 0h3m3 0h3m3 0h16m3 0h4m5 0h3m2 0h10m9 0h21m26 0h7m37 0h6m62 0h4M0 436.5h16m5 0h7m10 0h7m7 0h20m8 0h8m10 0h5m4 0h16m16 0h34m9 0h9m2 0h3m6 0h4m5 0h20m11 0h10m13 0h7m5 0h21m20 0h41m8 0h9m2 0h3m5 0h4m4 0h12m4 0h4m5 0h3m2 0h8m9 0h19m6 0h6m1 0h2m4 0h3m3 0h14m7 0h7m9 0h5m3 0h15m14 0h29m6 0h7m1 0h3m4 0h3m3 0h10m5 0h4m6 0h3m2 0h9m9 0h23m28 0h6m34 0h7m64 0h4M0 437.5h19m5 0h7m10 0h8m26 0h9m11 0h6m3 0h16m15 0h40m8 0h9m2 0h4m6 0h5m27 0h12m14 0h7m5 0h21m19 0h46m8 0h9m2 0h3m6 0h4m15 0h5m6 0h3m2 0h8m8 0h22m6 0h6m1 0h2m4 0h4m18 0h8m10 0h5m3 0h15m13 0h33m6 0h7m1 0h3m4 0h4m13 0h6m6 0h3m2 0h9m8 0h26m28 0h7m29 0h8m67 0h5M0 438.5h23m4 0h6m11 0h11m13 0h13m11 0h6m4 0h16m14 0h45m8 0h9m2 0h3m7 0h7m14 0h16m15 0h8m5 0h21m18 0h52m8 0h8m2 0h3m6 0h7m8 0h6m6 0h3m2 0h9m7 0h26m5 0h6m1 0h2m5 0h4m10 0h11m10 0h6m3 0h15m12 0h38m5 0h7m1 0h3m4 0h5m8 0h7m6 0h3m3 0h9m8 0h27m30 0h8m24 0h8m70 0h5M0 439.5h25m5 0h6m12 0h29m13 0h6m4 0h16m13 0h49m8 0h9m2 0h4m7 0h29m17 0h8m6 0h21m17 0h58m7 0h8m2 0h4m7 0h16m7 0h3m2 0h9m7 0h28m5 0h6m1 0h2m5 0h20m12 0h5m4 0h15m12 0h41m5 0h7m1 0h3m5 0h15m8 0h3m2 0h9m8 0h29m32 0h8m19 0h9m73 0h6M0 440.5h28m5 0h6m14 0h18m16 0h6m4 0h17m13 0h28m9 0h16m7 0h9m3 0h3m10 0h18m21 0h8m5 0h22m17 0h37m10 0h15m7 0h9m2 0h3m9 0h10m8 0h4m2 0h8m7 0h15m5 0h11m4 0h7m1 0h2m6 0h13m14 0h6m4 0h15m11 0h26m7 0h12m5 0h7m1 0h3m7 0h9m9 0h4m2 0h9m8 0h15m7 0h7m35 0h10m11 0h12m76 0h6M0 441.5h31m4 0h7m41 0h7m5 0h16m13 0h23m21 0h13m7 0h10m2 0h4m42 0h9m6 0h22m17 0h30m24 0h12m7 0h9m2 0h4m24 0h3m3 0h8m7 0h12m12 0h8m5 0h6m2 0h3m28 0h7m4 0h14m12 0h21m17 0h10m5 0h7m1 0h3m22 0h4m2 0h10m7 0h13m16 0h1m38 0h28m80 0h11M11 442.5h23m4 0h7m35 0h7m5 0h17m13 0h20m9 0h15m5 0h11m8 0h9m3 0h4m35 0h11m6 0h22m16 0h27m12 0h17m5 0h11m6 0h9m3 0h4m20 0h4m2 0h9m7 0h11m4 0h9m3 0h7m5 0h6m2 0h3m24 0h7m4 0h15m12 0h19m7 0h13m3 0h9m5 0h7m2 0h3m18 0h4m3 0h10m7 0h11m5 0h11m44 0h24m83 0h10M16 443.5h20m5 0h8m26 0h9m5 0h18m12 0h20m6 0h24m4 0h11m7 0h10m3 0h5m26 0h12m7 0h23m16 0h25m9 0h28m4 0h10m7 0h9m3 0h5m14 0h5m3 0h9m7 0h10m3 0h14m2 0h7m5 0h7m1 0h4m18 0h8m5 0h15m12 0h17m6 0h20m3 0h8m5 0h7m2 0h4m13 0h6m2 0h10m7 0h11m4 0h18m42 0h19m88 0h8M19 444.5h20m5 0h11m13 0h13m5 0h18m13 0h18m6 0h12m12 0h7m3 0h10m7 0h11m3 0h7m13 0h17m7 0h24m16 0h24m7 0h17m13 0h6m3 0h10m7 0h10m3 0h6m8 0h6m3 0h10m6 0h10m3 0h6m7 0h4m2 0h7m5 0h7m2 0h4m9 0h12m5 0h16m12 0h16m5 0h12m9 0h5m2 0h8m5 0h7m2 0h6m6 0h8m3 0h10m7 0h10m3 0h8m8 0h6m45 0h11m54 0h9m31 0h6M23 445.5h19m6 0h28m7 0h19m13 0h17m5 0h9m22 0h6m3 0h9m8 0h11m3 0h29m9 0h25m16 0h23m7 0h12m25 0h5m3 0h9m7 0h10m4 0h16m3 0h10m7 0h9m3 0h5m12 0h4m1 0h7m5 0h7m2 0h20m6 0h17m12 0h15m5 0h8m19 0h3m2 0h8m5 0h8m2 0h15m4 0h11m7 0h10m2 0h6m16 0h3m105 0h15M25 446.5h21m7 0h17m9 0h21m13 0h16m5 0h8m29 0h5m2 0h10m7 0h12m5 0h17m12 0h27m16 0h22m6 0h11m34 0h4m3 0h9m6 0h11m5 0h10m4 0h11m7 0h9m2 0h4m17 0h3m2 0h6m5 0h7m3 0h13m7 0h19m12 0h15m4 0h7m25 0h3m2 0h7m5 0h8m4 0h9m5 0h11m7 0h10m3 0h4m21 0h2m101 0h20M0 447.5h7m21 0h22m24 0h23m13 0h17m4 0h7m35 0h4m3 0h9m7 0h13m25 0h30m17 0h22m6 0h9m41 0h4m2 0h9m7 0h12m14 0h12m7 0h8m3 0h3m20 0h3m2 0h6m5 0h8m17 0h21m12 0h14m4 0h7m29 0h3m2 0h6m6 0h9m13 0h13m7 0h10m2 0h4m23 0h3m98 0h23M0 448.5h13m18 0h25m11 0h28m13 0h16m4 0h7m16 0h15m9 0h4m2 0h9m8 0h16m10 0h37m17 0h22m5 0h8m21 0h18m9 0h3m2 0h9m7 0h15m6 0h15m7 0h8m2 0h4m8 0h9m6 0h2m1 0h7m4 0h11m7 0h26m11 0h15m4 0h6m14 0h13m6 0h3m2 0h6m6 0h11m6 0h15m8 0h9m2 0h4m9 0h11m5 0h5m93 0h12m9 0h6M0 449.5h17m17 0h58m14 0h16m4 0h6m13 0h24m8 0h3m2 0h10m7 0h59m17 0h21m6 0h8m17 0h28m7 0h4m2 0h8m7 0h33m7 0h9m2 0h3m7 0h14m5 0h2m1 0h6m5 0h40m12 0h15m4 0h5m12 0h20m6 0h2m2 0h6m6 0h30m8 0h9m2 0h3m8 0h26m90 0h9m15 0h6M0 450.5h21m15 0h53m14 0h16m4 0h6m12 0h12m12 0h7m6 0h4m2 0h9m8 0h53m18 0h21m5 0h8m15 0h16m14 0h7m6 0h3m2 0h8m8 0h30m7 0h9m2 0h3m6 0h6m7 0h4m5 0h2m1 0h6m5 0h37m12 0h15m3 0h6m10 0h11m10 0h5m5 0h2m2 0h6m6 0h27m8 0h9m3 0h3m6 0h7m9 0h15m86 0h8m20 0h5M0 451.5h24m15 0h48m14 0h17m2 0h7m10 0h10m13 0h1m7 0h6m6 0h3m2 0h9m8 0h48m19 0h22m4 0h8m13 0h14m16 0h1m7 0h6m5 0h3m2 0h9m7 0h27m8 0h9m1 0h3m6 0h5m12 0h4m4 0h2m1 0h6m5 0h33m13 0h15m3 0h5m10 0h9m11 0h1m5 0h5m4 0h2m1 0h7m6 0h25m8 0h9m2 0h3m6 0h6m7 0h1m8 0h2m4 0h6m83 0h7m24 0h5M0 452.5h28m13 0h43m14 0h27m8 0h43m5 0h15m8 0h42m20 0h22m3 0h10m9 0h14m7 0h23m2 0h6m4 0h4m1 0h9m8 0h24m8 0h9m1 0h4m3 0h6m3 0h11m2 0h3m3 0h3m1 0h6m6 0h28m14 0h15m2 0h7m7 0h9m5 0h16m2 0h4m3 0h3m1 0h7m6 0h22m9 0h9m2 0h4m4 0h6m3 0h14m9 0h6m80 0h6m28 0h3M0 453.5h32m11 0h40m11 0h28m8 0h48m4 0h16m7 0h32m57 0h17m51 0h7m62 0h7m24 0h5m75 0h12m36 0h6m57 0h7m34 0h5m77 0h6m31 0h3M0 454.5h15m14 0h27m11 0h29m11 0h9m16 0h14m23 0h8m9 0h5m6 0h17m11 0h12m455 0h12m3 0h9m13 0h15m14 0h10m4 0h12m6 0h18m4 0h7m2 0h6m8 0h7M236 455.5h1m452 0h8m5 0h71m6 0h36m3 0h24M688 456.5h1M688 457.5h1M688 458.5h1M688 459.5h1M688 460.5h1M688 461.5h1M688 462.5h1M688 463.5h1M688 464.5h1M688 465.5h1M688 466.5h1"/><path stroke="#132000" d="M0 141.5h63m3 0h10m2 0h7m3 0h7m2 0h9m2 0h10m2 0h15m3 0h7m3 0h284m4 0h406M0 156.5h842M132 196.5h1m92 0h1m4 0h1m41 0h1m6 0h2m2 0h1m102 0h2m8 0h2m33 0h1m8 0h1m45 0h1m44 0h1m33 0h1m1 0h1M744 253.5h98"/><path stroke="#134000" d="M0 142.5h63m3 0h10m2 0h7m3 0h7m2 0h9m2 0h10m2 0h15m3 0h7m3 0h284m4 0h406M0 143.5h63m3 0h10m2 0h7m3 0h7m2 0h9m2 0h10m2 0h15m3 0h7m3 0h284m4 0h406M0 144.5h63m3 0h10m2 0h7m3 0h7m2 0h9m2 0h10m2 0h15m3 0h7m3 0h284m4 0h406M0 145.5h63m3 0h10m2 0h7m3 0h7m2 0h9m2 0h10m2 0h15m3 0h7m3 0h284m4 0h406M0 146.5h63m3 0h10m2 0h7m3 0h7m2 0h9m2 0h10m2 0h15m3 0h7m3 0h694M0 147.5h63m3 0h10m2 0h7m3 0h7m2 0h9m2 0h10m2 0h15m3 0h7m3 0h694M0 148.5h63m3 0h10m2 0h7m3 0h7m2 0h9m2 0h10m2 0h15m3 0h7m3 0h694M0 149.5h2m3 0h55m6 0h10m2 0h7m3 0h7m2 0h9m2 0h10m5 0h12m3 0h7m3 0h31m4 0h56m4 0h56m4 0h197m3 0h105m4 0h56m4 0h56m4 0h56m4 0h50M0 150.5h2m3 0h55m6 0h10m2 0h7m3 0h7m2 0h9m2 0h10m5 0h12m3 0h7m3 0h31m4 0h56m4 0h56m4 0h30m4 0h50m4 0h50m4 0h50m4 0h1m3 0h46m4 0h55m4 0h56m4 0h56m4 0h56m4 0h50M0 151.5h2m3 0h53m5 0h54m6 0h54m6 0h54m6 0h54m6 0h30m4 0h50m4 0h50m4 0h50m8 0h46m4 0h53m6 0h54m6 0h54m6 0h54m6 0h50M0 152.5h2m3 0h53m3 0h56m4 0h56m4 0h56m4 0h56m3 0h33m4 0h50m4 0h50m4 0h50m7 0h47m4 0h53m4 0h56m4 0h56m4 0h56m3 0h53M0 153.5h58m3 0h56m4 0h56m4 0h56m4 0h56m3 0h199m3 0h104m4 0h56m4 0h56m4 0h56m3 0h53M0 154.5h58m3 0h56m4 0h56m4 0h56m4 0h56m3 0h199m3 0h104m4 0h56m4 0h56m4 0h56m3 0h53M0 155.5h842M29 195.5h1m27 0h1M539 201.5h2M68 202.5h1m475 0h83M332 209.5h1m179 0h1M332 210.5h1m179 0h1M317 211.5h13m3 0h1m160 0h13m6 0h7M101 214.5h31M135 215.5h1M138 216.5h2M144 217.5h323M144 218.5h327M144 219.5h322M144 220.5h322M134 221.5h1m9 0h322M133 222.5h1m10 0h291M133 223.5h1m10 0h291M133 224.5h1m10 0h291M133 225.5h1m10 0h291M133 226.5h1m10 0h291M133 227.5h1m10 0h291M133 228.5h1m10 0h291M133 229.5h1m10 0h291M133 230.5h1m8 0h3m290 0h31M133 231.5h1M133 232.5h1M133 233.5h1M133 234.5h1M139 235.5h2M142 236.5h4M143 237.5h3M138 238.5h3m2 0h3M103 239.5h31m4 0h1M103 240.5h1M102 241.5h2"/><path stroke="#136000" d="M648 196.5h9m9 0h15m17 0h16m15 0h7m18 0h18m11 0h8m37 0h14M630 203.5h1M630 204.5h1M630 205.5h1M630 206.5h1M630 207.5h1M630 208.5h1M630 209.5h1M630 210.5h1M630 211.5h1M630 212.5h1M630 213.5h1M630 214.5h1M629 215.5h2M629 216.5h1M631 220.5h1M632 221.5h2"/><path stroke="#138000" d="M94 209.5h1M746 222.5h96M741 227.5h3M737 228.5h2M737 229.5h2M737 230.5h2M737 231.5h2M737 232.5h2M737 233.5h2M737 234.5h2M737 235.5h2M737 236.5h2M737 237.5h2M737 238.5h2M737 239.5h2M737 240.5h2M737 241.5h2M735 245.5h2M735 246.5h2M735 247.5h2M735 248.5h2M735 249.5h2M735 250.5h2M735 251.5h2M735 252.5h3"/><path stroke="#13bf00" d="M68 208.5h1"/><path stroke="#150000" d="M398 40.5h5m9 0h5m5 0h4m6 0h5m6 0h5m4 0h6m8 0h3m9 0h5m7 0h5m6 0h2m4 0h4m3 0h5m5 0h3m11 0h1m8 0h3m2 0h4m8 0h6m2 0h3m1 0h4m2 0h3m8 0h4m6 0h2m5 0h3m13 0h6m5 0h4m4 0h5m2 0h5m8 0h3m3 0h5m6 0h4m7 0h6m4 0h3m7 0h2m8 0h6m4 0h1m2 0h5m4 0h3m2 0h2m4 0h4m6 0h2m6 0h3m7 0h3m7 0h4m1 0h2m9 0h2m7 0h4m7 0h4M425 41.5h1m10 0h1m6 0h1m8 0h1m4 0h1m56 0h1m3 0h1m30 0h1m2 0h1m11 0h1m4 0h1m4 0h1m1 0h1m2 0h1m30 0h1m15 0h1m4 0h1m20 0h1m29 0h1m2 0h1m7 0h1m4 0h1m4 0h1m9 0h1m9 0h1m4 0h1m3 0h1m1 0h1m1 0h1m8 0h1m1 0h1m2 0h1m5 0h1m10 0h1m8 0h1m7 0h1m12 0h1m1 0h1m11 0h1m7 0h1m2 0h1M425 42.5h1m10 0h1m6 0h1m8 0h1m4 0h1m56 0h1m3 0h1m30 0h1m2 0h1m11 0h1m4 0h1m4 0h1m1 0h1m2 0h1m30 0h1m15 0h1m4 0h1m20 0h1m29 0h1m2 0h1m7 0h1m4 0h1m4 0h1m9 0h1m9 0h1m4 0h1m3 0h1m1 0h1m1 0h1m8 0h1m1 0h1m2 0h1m5 0h1m10 0h1m8 0h1m7 0h1m12 0h1m1 0h1m11 0h1m7 0h1m2 0h1M10 71.5h5m19 0h4m11 0h6m11 0h6m14 0h6m55 0h1m6 0h3m12 0h6m13 0h5m16 0h3m18 0h5m5 0h1m1 0h1m7 0h3m6 0h5m11 0h1m12 0h4m13 0h7m16 0h6m30 0h1m1 0h1m22 0h1m9 0h2m15 0h6m12 0h1m1 0h1m4 0h1m17 0h3m19 0h6m7 0h4m7 0h4m8 0h6m20 0h5m5 0h3m14 0h1m5 0h1m6 0h6m12 0h6m18 0h4m5 0h3m22 0h1m16 0h6m27 0h6m17 0h4m10 0h1m13 0h7m13 0h7m31 0h6m15 0h3M10 72.5h5m19 0h4m11 0h6m11 0h6m14 0h6m55 0h1m6 0h3m12 0h6m13 0h5m16 0h3m18 0h5m5 0h1m1 0h1m7 0h3m6 0h5m11 0h1m12 0h4m13 0h7m16 0h6m30 0h1m1 0h1m22 0h1m9 0h2m15 0h6m12 0h1m1 0h1m4 0h1m17 0h3m19 0h6m7 0h4m7 0h4m8 0h6m20 0h5m5 0h3m14 0h1m5 0h1m6 0h6m12 0h6m18 0h4m5 0h3m22 0h1m16 0h6m27 0h6m17 0h4m10 0h1m13 0h7m13 0h7m31 0h6m15 0h3M11 73.5h3m20 0h3m12 0h6m12 0h4m16 0h4m15 0h2m18 0h2m14 0h5m8 0h1m14 0h5m13 0h4m18 0h2m18 0h5m5 0h3m8 0h2m7 0h4m11 0h4m9 0h4m14 0h5m17 0h6m17 0h3m10 0h3m17 0h6m9 0h2m16 0h4m14 0h1m5 0h6m13 0h2m20 0h5m8 0h2m9 0h3m9 0h5m20 0h4m7 0h2m14 0h7m7 0h4m13 0h5m19 0h3m6 0h2m15 0h3m5 0h6m11 0h5m14 0h5m10 0h5m17 0h4m10 0h3m12 0h5m15 0h5m10 0h2m20 0h5m16 0h3M432 78.5h1M432 83.5h1M460 127.5h1M461 128.5h38M461 129.5h38M461 130.5h38M36 138.5h1m19 0h1m19 0h1m24 0h1m159 0h1m29 0h1m24 0h1m39 0h1m94 0h1m19 0h1m59 0h1m24 0h1m134 0h1m29 0h1m99 0h1M36 139.5h1m19 0h1m19 0h1m24 0h1m159 0h1m29 0h1m24 0h1m39 0h1m94 0h1m19 0h1m59 0h1m24 0h1m134 0h1m29 0h1m99 0h1M398 159.5h1M398 162.5h1M398 163.5h1M398 166.5h1M0 172.5h2m20 0h44m26 0h52m18 0h39m21 0h69m31 0h39m26 0h54m26 0h34m41 0h49m21 0h69m21 0h39m41 0h29m26 0h5M0 175.5h842M52 254.5h1M36 261.5h1m3 0h1m81 0h1M36 264.5h1m3 0h1m81 0h1M273 266.5h7m16 0h20m44 0h8m7 0h2m16 0h14m15 0h3m7 0h8m21 0h5m5 0h2m11 0h16m28 0h4m12 0h14m31 0h6m5 0h2m12 0h13m17 0h2m8 0h8M270 267.5h6m17 0h6m6 0h7m49 0h3m2 0h3m7 0h2m43 0h3m6 0h3m2 0h3m24 0h2m2 0h1m5 0h2m52 0h4m12 0h4m4 0h5m35 0h2m2 0h2m5 0h2m39 0h3m7 0h3m2 0h3M267 268.5h6m17 0h6m6 0h6m55 0h2m3 0h2m7 0h3m40 0h2m7 0h3m2 0h2m27 0h2m2 0h1m5 0h2m49 0h4m12 0h4m4 0h4m43 0h2m44 0h3m7 0h2m3 0h3M264 269.5h6m17 0h6m5 0h7m26 0h22m11 0h3m2 0h2m7 0h3m38 0h2m7 0h2m3 0h2m11 0h10m8 0h2m1 0h2m5 0h2m46 0h4m12 0h3m4 0h5m24 0h10m12 0h2m6 0h1m35 0h2m8 0h2m3 0h2m12 0h14M261 270.5h6m17 0h6m5 0h6m24 0h17m7 0h7m10 0h2m2 0h3m7 0h2m35 0h3m7 0h2m2 0h3m9 0h7m3 0h5m7 0h2m1 0h2m5 0h2m42 0h5m11 0h4m4 0h4m17 0h4m6 0h2m5 0h5m11 0h2m5 0h2m32 0h3m7 0h3m2 0h3m10 0h7m5 0h7M257 271.5h7m17 0h6m5 0h6m21 0h11m24 0h4m9 0h2m3 0h2m7 0h3m32 0h3m7 0h2m2 0h2m9 0h4m12 0h3m6 0h2m1 0h2m5 0h2m39 0h4m12 0h4m4 0h4m15 0h8m16 0h3m8 0h1m2 0h2m5 0h2m30 0h3m7 0h3m2 0h2m10 0h4m15 0h2M254 272.5h6m18 0h6m5 0h6m20 0h9m32 0h4m8 0h3m2 0h2m7 0h3m30 0h2m7 0h3m2 0h2m8 0h4m16 0h2m6 0h1m2 0h2m5 0h2m35 0h5m12 0h4m4 0h4m14 0h6m23 0h1m8 0h2m2 0h1m6 0h2m27 0h3m8 0h2m3 0h2m9 0h4M250 273.5h7m18 0h6m5 0h6m19 0h8m39 0h4m8 0h2m2 0h2m8 0h3m26 0h3m7 0h3m2 0h2m8 0h3m19 0h2m6 0h1m2 0h1m6 0h2m32 0h5m12 0h4m4 0h4m13 0h6m36 0h2m9 0h2m25 0h3m8 0h2m2 0h3m8 0h3M245 274.5h8m19 0h6m5 0h6m18 0h7m46 0h3m8 0h2m2 0h2m8 0h4m22 0h3m8 0h2m2 0h3m7 0h3m22 0h2m6 0h1m2 0h1m6 0h2m27 0h6m13 0h4m4 0h4m12 0h5m41 0h2m9 0h3m21 0h3m8 0h3m2 0h2m8 0h3M241 275.5h8m20 0h6m5 0h6m18 0h6m52 0h3m7 0h2m2 0h3m8 0h4m18 0h4m8 0h2m2 0h3m7 0h2m25 0h2m5 0h2m2 0h1m6 0h2m23 0h6m14 0h4m4 0h4m12 0h5m36 0h2m6 0h2m1 0h2m7 0h2m17 0h4m9 0h2m3 0h2m8 0h3M241 276.5h4m21 0h6m5 0h6m17 0h7m56 0h3m7 0h2m3 0h2m9 0h4m14 0h4m9 0h2m2 0h2m7 0h3m27 0h2m5 0h2m1 0h2m6 0h3m16 0h8m15 0h4m4 0h4m12 0h4m41 0h1m6 0h2m1 0h2m7 0h3m13 0h4m10 0h2m2 0h3m7 0h3M263 277.5h6m5 0h6m17 0h6m62 0h2m7 0h3m2 0h2m10 0h7m4 0h7m9 0h3m2 0h2m7 0h3m29 0h2m5 0h2m1 0h2m7 0h5m4 0h12m17 0h4m4 0h4m11 0h5m44 0h1m6 0h2m1 0h2m8 0h5m4 0h7m10 0h3m2 0h3m7 0h3M259 278.5h7m5 0h6m17 0h6m66 0h3m7 0h2m2 0h3m11 0h12m11 0h2m3 0h2m7 0h2m32 0h2m5 0h2m1 0h2m8 0h15m18 0h5m4 0h3m12 0h4m48 0h1m6 0h2m1 0h2m9 0h11m12 0h2m3 0h2m8 0h2M256 279.5h6m6 0h6m17 0h6m70 0h3m7 0h2m3 0h2m32 0h2m2 0h3m7 0h2m34 0h2m5 0h1m2 0h2m38 0h4m4 0h4m12 0h4m51 0h1m6 0h2m1 0h2m29 0h3m3 0h2m7 0h3M252 280.5h7m6 0h6m17 0h6m75 0h2m7 0h2m3 0h3m28 0h3m2 0h3m6 0h3m36 0h2m5 0h1m2 0h2m34 0h5m4 0h4m12 0h4m54 0h1m6 0h2m1 0h3m26 0h3m2 0h3m7 0h3M248 281.5h7m7 0h6m17 0h6m41 0h21m17 0h2m7 0h3m2 0h3m25 0h3m3 0h2m7 0h2m17 0h10m12 0h2m5 0h1m2 0h2m30 0h6m4 0h4m12 0h4m29 0h15m13 0h1m6 0h2m2 0h2m23 0h3m3 0h2m8 0h2m18 0h13M243 282.5h8m7 0h7m17 0h6m37 0h31m15 0h2m8 0h2m3 0h3m21 0h4m3 0h2m7 0h2m15 0h15m11 0h1m5 0h2m2 0h3m25 0h6m5 0h4m12 0h4m26 0h22m12 0h1m6 0h2m2 0h2m20 0h3m3 0h3m8 0h2m16 0h19M240 283.5h7m8 0h6m18 0h6m35 0h11m22 0h5m14 0h3m7 0h3m3 0h4m16 0h4m3 0h3m7 0h2m14 0h5m10 0h4m10 0h1m5 0h2m2 0h3m20 0h7m5 0h5m12 0h4m24 0h8m16 0h3m11 0h2m6 0h2m2 0h3m15 0h5m3 0h3m7 0h3m15 0h5m14 0h2M240 284.5h2m9 0h7m18 0h6m33 0h10m31 0h4m14 0h2m7 0h3m4 0h5m10 0h5m4 0h2m8 0h2m13 0h4m15 0h3m10 0h1m5 0h2m3 0h3m13 0h9m5 0h5m13 0h4m23 0h6m23 0h3m10 0h2m6 0h2m3 0h3m10 0h5m4 0h3m8 0h2m15 0h4M240 285.5h1m6 0h7m19 0h6m32 0h8m39 0h4m13 0h2m8 0h3m4 0h16m4 0h3m7 0h3m13 0h3m19 0h2m9 0h2m5 0h3m2 0h20m6 0h6m13 0h4m22 0h6m28 0h2m10 0h2m6 0h2m3 0h15m4 0h4m8 0h2m14 0h4M240 286.5h10m20 0h6m32 0h7m45 0h3m13 0h2m8 0h4m5 0h10m5 0h3m8 0h2m13 0h3m22 0h2m9 0h2m6 0h2m4 0h11m9 0h6m14 0h4m22 0h5m32 0h2m10 0h2m6 0h3m4 0h9m5 0h4m8 0h3m14 0h3M240 287.5h6m21 0h6m31 0h7m51 0h2m13 0h3m8 0h4m16 0h4m8 0h2m13 0h3m24 0h2m9 0h2m6 0h3m18 0h7m15 0h4m21 0h5m36 0h2m10 0h2m6 0h4m14 0h4m9 0h2m14 0h3M240 288.5h1m23 0h6m31 0h6m32 0h11m13 0h3m13 0h2m9 0h6m8 0h6m9 0h2m12 0h3m13 0h5m9 0h2m9 0h2m6 0h4m10 0h10m15 0h4m22 0h4m22 0h9m9 0h2m10 0h2m7 0h4m8 0h6m10 0h2m14 0h2m14 0h7M260 289.5h7m30 0h7m25 0h25m11 0h2m13 0h2m11 0h14m10 0h3m12 0h3m10 0h12m7 0h2m9 0h2m7 0h17m18 0h4m22 0h4m18 0h18m8 0h1m10 0h2m8 0h13m11 0h3m13 0h3m11 0h16M257 290.5h6m31 0h6m23 0h14m14 0h6m9 0h2m13 0h3m13 0h6m13 0h3m12 0h2m9 0h6m7 0h4m6 0h2m9 0h2m9 0h8m22 0h4m22 0h4m15 0h10m10 0h4m8 0h1m10 0h2m10 0h6m14 0h2m14 0h2m10 0h6m9 0h6M253 291.5h7m31 0h6m21 0h10m27 0h4m8 0h3m13 0h2m29 0h3m13 0h2m8 0h4m13 0h3m6 0h2m9 0h2m35 0h5m21 0h4m15 0h7m19 0h3m7 0h1m10 0h2m27 0h3m14 0h2m9 0h4m17 0h2M249 292.5h7m32 0h6m20 0h8m13 0h17m5 0h4m8 0h2m13 0h3m26 0h3m13 0h2m8 0h3m5 0h8m4 0h2m6 0h2m9 0h2m31 0h5m22 0h4m14 0h6m9 0h12m4 0h2m7 0h1m10 0h2m24 0h3m14 0h3m8 0h4m5 0h11m4 0h2M245 293.5h8m32 0h6m19 0h7m10 0h28m4 0h3m8 0h2m13 0h4m22 0h3m13 0h3m7 0h3m4 0h14m2 0h3m5 0h2m9 0h2m27 0h6m22 0h4m13 0h6m6 0h20m3 0h3m6 0h1m10 0h3m20 0h4m14 0h2m8 0h4m4 0h20M241 294.5h8m33 0h6m18 0h7m9 0h12m18 0h5m4 0h3m7 0h2m14 0h4m18 0h4m13 0h2m8 0h2m4 0h5m9 0h3m3 0h2m5 0h1m10 0h3m22 0h6m23 0h4m13 0h5m5 0h9m13 0h4m3 0h2m5 0h2m11 0h3m16 0h4m15 0h2m8 0h3m4 0h5m12 0h4M241 295.5h3m35 0h6m18 0h6m8 0h9m29 0h4m3 0h3m7 0h3m14 0h5m12 0h5m14 0h2m7 0h3m3 0h4m14 0h3m2 0h2m5 0h1m10 0h4m15 0h8m24 0h4m12 0h5m5 0h7m20 0h3m3 0h2m5 0h2m11 0h4m11 0h5m15 0h3m7 0h3m3 0h5M276 296.5h6m17 0h7m7 0h8m37 0h3m3 0h2m8 0h2m15 0h18m15 0h2m7 0h2m3 0h4m17 0h3m2 0h2m5 0h1m11 0h21m26 0h4m12 0h4m5 0h6m26 0h3m2 0h2m5 0h2m12 0h16m16 0h2m8 0h3m3 0h3M273 297.5h6m17 0h6m7 0h7m44 0h3m2 0h3m7 0h2m17 0h12m17 0h2m7 0h2m3 0h3m21 0h2m2 0h1m5 0h2m12 0h14m29 0h4m12 0h4m4 0h6m31 0h2m2 0h2m5 0h2m13 0h11m18 0h2m8 0h2m3 0h3M270 298.5h6m17 0h6m6 0h7m49 0h3m3 0h2m7 0h2m43 0h3m6 0h3m2 0h3m24 0h2m2 0h1m5 0h2m52 0h4m12 0h4m4 0h5m35 0h2m2 0h2m5 0h2m39 0h3m7 0h3m2 0h3M267 299.5h6m17 0h6m6 0h6m55 0h2m3 0h2m7 0h3m40 0h2m7 0h3m2 0h2m27 0h2m2 0h1m5 0h2m49 0h4m12 0h4m4 0h4m39 0h2m2 0h2m5 0h2m37 0h3m7 0h2m3 0h3M264 300.5h6m17 0h6m5 0h7m26 0h22m11 0h3m2 0h2m7 0h3m38 0h2m7 0h2m3 0h2m11 0h10m8 0h2m1 0h2m5 0h2m46 0h4m12 0h3m4 0h5m18 0h16m8 0h2m2 0h2m5 0h2m35 0h2m8 0h2m3 0h2m12 0h14M261 301.5h6m17 0h6m5 0h6m24 0h17m7 0h7m10 0h2m2 0h3m7 0h2m35 0h3m7 0h2m2 0h3m9 0h7m3 0h5m7 0h2m1 0h2m5 0h2m42 0h5m11 0h4m4 0h4m17 0h12m5 0h5m7 0h2m2 0h2m5 0h2m32 0h3m7 0h3m2 0h3m10 0h7m5 0h7M257 302.5h7m17 0h6m5 0h6m21 0h11m24 0h4m9 0h2m3 0h2m7 0h3m32 0h3m7 0h2m2 0h2m9 0h4m12 0h3m6 0h2m1 0h2m5 0h2m39 0h4m12 0h4m4 0h4m15 0h8m16 0h4m6 0h2m2 0h2m5 0h2m30 0h3m7 0h3m2 0h2m10 0h4m15 0h2M254 303.5h6m18 0h6m5 0h6m20 0h9m32 0h4m8 0h3m2 0h2m7 0h3m30 0h2m7 0h3m2 0h2m8 0h4m16 0h2m6 0h1m2 0h2m5 0h2m35 0h5m12 0h4m4 0h4m14 0h6m23 0h3m6 0h2m2 0h1m6 0h2m27 0h3m8 0h2m3 0h2m9 0h4M250 304.5h7m18 0h6m5 0h6m19 0h8m39 0h4m8 0h2m2 0h2m8 0h3m26 0h3m7 0h3m2 0h2m8 0h3m19 0h2m6 0h1m2 0h1m6 0h2m32 0h5m12 0h4m4 0h4m13 0h6m28 0h2m6 0h2m2 0h1m6 0h2m25 0h3m8 0h2m2 0h3m8 0h3M273 305.5h6m3 0h3m1 0h2m85 0h1m1 0h2m46 0h3m45 0h2m55 0h2m3 0h2m2 0h1m59 0h2m45 0h2m1 0h3M273 306.5h6m2 0h3m90 0h4m45 0h2m47 0h2m53 0h3m4 0h1m67 0h1m41 0h2m1 0h1M269 307.5h1m3 0h6m95 0h4m45 0h2m47 0h2m51 0h5m72 0h2m40 0h2M263 308.5h7m3 0h6m84 0h7m3 0h2m5 0h2m37 0h2m1 0h3m46 0h2m1 0h2m45 0h5m2 0h4m68 0h2m1 0h2m34 0h3m2 0h2M259 309.5h7m5 0h6m17 0h6m63 0h13m5 0h2m11 0h12m11 0h2m3 0h2m7 0h2m32 0h2m5 0h2m1 0h2m8 0h15m18 0h5m4 0h3m12 0h4m48 0h1m6 0h2m1 0h2m9 0h11m12 0h2m3 0h2m8 0h2M256 310.5h6m6 0h6m17 0h6m67 0h2m5 0h6m6 0h1m32 0h2m2 0h3m7 0h2m34 0h2m5 0h1m2 0h2m38 0h4m4 0h4m12 0h4m51 0h1m6 0h2m1 0h2m29 0h3m3 0h2m7 0h3M252 311.5h7m6 0h6m17 0h6m70 0h3m6 0h4m6 0h3m28 0h3m2 0h3m6 0h3m36 0h2m5 0h1m2 0h2m34 0h5m4 0h4m12 0h4m54 0h1m6 0h2m1 0h3m26 0h3m2 0h3m7 0h3M248 312.5h7m7 0h6m17 0h6m41 0h21m13 0h2m7 0h3m6 0h3m25 0h3m3 0h2m7 0h2m17 0h10m12 0h2m5 0h1m2 0h2m30 0h6m4 0h4m12 0h4m29 0h15m13 0h1m6 0h2m2 0h2m23 0h3m3 0h2m8 0h2m18 0h13M243 313.5h8m7 0h7m17 0h6m37 0h31m11 0h2m7 0h5m5 0h3m21 0h4m3 0h2m7 0h2m15 0h15m11 0h1m5 0h2m2 0h3m25 0h6m5 0h4m12 0h4m26 0h22m12 0h1m6 0h2m2 0h2m20 0h3m3 0h3m8 0h2m16 0h19M240 314.5h7m8 0h6m18 0h6m35 0h11m22 0h5m1 0h4m5 0h2m7 0h8m3 0h4m16 0h4m3 0h3m7 0h2m14 0h5m10 0h4m10 0h1m5 0h2m2 0h3m20 0h7m5 0h5m12 0h4m24 0h8m16 0h3m11 0h2m6 0h2m2 0h3m15 0h5m3 0h3m7 0h3m15 0h5m14 0h2M240 315.5h2m9 0h7m18 0h6m33 0h10m31 0h9m4 0h3m6 0h3m1 0h4m4 0h5m10 0h5m4 0h2m8 0h2m13 0h4m15 0h3m10 0h1m5 0h2m3 0h3m13 0h9m5 0h5m13 0h4m23 0h6m23 0h3m10 0h2m6 0h2m3 0h3m10 0h5m4 0h3m8 0h2m15 0h4M240 316.5h1m6 0h7m19 0h6m32 0h8m39 0h5m1 0h3m4 0h2m6 0h2m4 0h3m4 0h16m4 0h3m7 0h3m13 0h3m19 0h2m9 0h2m5 0h3m2 0h20m6 0h6m13 0h4m22 0h6m28 0h2m10 0h2m6 0h2m3 0h15m4 0h4m8 0h2m14 0h4M240 317.5h10m20 0h6m32 0h7m44 0h3m3 0h3m4 0h2m6 0h2m4 0h4m5 0h10m5 0h3m8 0h2m13 0h3m22 0h2m9 0h2m6 0h2m4 0h11m9 0h6m14 0h4m22 0h5m32 0h2m10 0h2m6 0h3m4 0h9m5 0h4m8 0h3m14 0h3M240 318.5h6m21 0h6m31 0h7m49 0h2m5 0h2m4 0h2m5 0h2m6 0h4m15 0h5m8 0h2m13 0h3m24 0h2m9 0h2m6 0h3m18 0h7m15 0h4m21 0h5m36 0h2m10 0h2m6 0h4m14 0h4m9 0h3m13 0h3M240 319.5h1m22 0h7m30 0h7m32 0h11m10 0h3m5 0h3m3 0h2m5 0h2m7 0h7m6 0h7m9 0h2m12 0h3m13 0h5m9 0h2m9 0h2m6 0h5m7 0h12m15 0h5m21 0h5m21 0h9m9 0h2m10 0h2m7 0h5m6 0h7m10 0h2m13 0h3m14 0h7M260 320.5h7m30 0h7m25 0h25m7 0h2m7 0h2m3 0h2m4 0h3m9 0h14m10 0h3m12 0h3m10 0h12m7 0h2m9 0h2m7 0h17m18 0h5m20 0h5m18 0h18m7 0h3m9 0h2m8 0h13m11 0h3m13 0h3m11 0h16M256 321.5h8m30 0h7m22 0h34m4 0h3m7 0h3m2 0h3m1 0h4m12 0h8m12 0h3m12 0h3m8 0h17m6 0h2m9 0h2m8 0h9m21 0h6m20 0h5m15 0h25m6 0h3m9 0h2m10 0h6m13 0h4m13 0h3m9 0h21M252 322.5h9m29 0h8m20 0h41m1 0h4m8 0h14m28 0h4m11 0h3m8 0h20m6 0h2m9 0h2m34 0h6m21 0h5m14 0h29m6 0h3m9 0h3m26 0h3m13 0h3m9 0h23M248 323.5h10m29 0h8m19 0h51m9 0h14m24 0h4m12 0h3m8 0h23m5 0h2m8 0h3m30 0h7m21 0h5m13 0h33m6 0h3m9 0h3m23 0h4m13 0h3m8 0h25M242 324.5h12m30 0h8m18 0h56m9 0h9m1 0h5m20 0h5m12 0h3m7 0h26m5 0h2m8 0h4m25 0h8m20 0h6m12 0h38m5 0h3m9 0h4m18 0h6m12 0h4m7 0h27M240 325.5h11m30 0h9m16 0h29m17 0h8m16 0h5m5 0h6m16 0h6m11 0h4m7 0h11m8 0h9m4 0h3m8 0h5m18 0h11m20 0h6m11 0h21m12 0h9m5 0h3m9 0h5m14 0h6m13 0h4m7 0h12m11 0h5M240 326.5h7m30 0h10m15 0h25m28 0h6m17 0h3m7 0h8m7 0h9m12 0h4m6 0h10m14 0h7m4 0h3m8 0h7m8 0h15m21 0h6m11 0h17m20 0h8m5 0h3m9 0h7m6 0h10m13 0h4m6 0h11M241 327.5h2m31 0h11m14 0h23m35 0h4m6 0h4m7 0h3m8 0h22m12 0h4m6 0h9m17 0h7m4 0h3m9 0h25m21 0h8m10 0h16m25 0h7m4 0h4m9 0h20m13 0h5m6 0h10M270 328.5h12m13 0h22m42 0h4m4 0h15m9 0h18m12 0h5m5 0h9m20 0h7m3 0h4m9 0h21m22 0h8m9 0h16m29 0h7m4 0h4m10 0h16m13 0h6m5 0h10M267 329.5h13m12 0h22m25 0h11m10 0h22m11 0h14m13 0h5m5 0h9m10 0h5m8 0h6m3 0h4m9 0h17m22 0h10m8 0h15m17 0h9m7 0h7m4 0h4m10 0h13m14 0h6m5 0h9m11 0h7M262 330.5h16m10 0h22m17 0h28m5 0h23m13 0h8m14 0h6m5 0h8m7 0h14m4 0h7m3 0h4m10 0h10m24 0h11m7 0h16m11 0h20m5 0h7m3 0h5m11 0h8m15 0h7m4 0h10m7 0h18M257 331.5h20m7 0h24m10 0h41m3 0h22m32 0h8m3 0h10m3 0h20m3 0h7m2 0h6m39 0h14m5 0h16m7 0h29m3 0h8m2 0h6m30 0h8m3 0h11m4 0h22M16 354.5h3m6 0h3m3 0h1m36 0h2m11 0h1m6 0h1m2 0h1m1 0h1m5 0h1m3 0h1m17 0h2m4 0h2m1 0h1m12 0h2m4 0h1m1 0h1m3 0h1m1 0h1m5 0h3m6 0h1m7 0h1m2 0h1m5 0h1m2 0h1m2 0h1m1 0h1m3 0h1m1 0h1m1 0h1m13 0h1m2 0h1m2 0h1m2 0h1m1 0h1m1 0h1m10 0h1m10 0h1m13 0h2m5 0h3m8 0h1m10 0h2m6 0h1m15 0h1m5 0h1m6 0h2m7 0h1m7 0h1m3 0h2m2 0h1m4 0h1m7 0h2m3 0h1m2 0h1m11 0h1m5 0h1m6 0h1m2 0h1m4 0h1m20 0h1m8 0h1m1 0h1m3 0h1m2 0h1m4 0h1m1 0h1m2 0h1m6 0h1m1 0h1m5 0h1m2 0h1m12 0h2m10 0h2m6 0h2m7 0h3m3 0h2m2 0h3m6 0h4m10 0h1m5 0h1m19 0h2m15 0h1m7 0h1m4 0h1m6 0h1m6 0h2m7 0h1m3 0h3m2 0h1m1 0h1m5 0h2m4 0h1m2 0h1m10 0h1m3 0h1m2 0h1m6 0h2m7 0h2m8 0h1m4 0h1m14 0h1m2 0h1m5 0h1m6 0h1m4 0h1m7 0h3m10 0h1m10 0h2m5 0h1m2 0h3m9 0h1m12 0h1m6 0h3m3 0h2m10 0h2M16 355.5h3m6 0h3m3 0h1m36 0h2m11 0h1m6 0h1m2 0h1m1 0h1m5 0h1m3 0h1m17 0h2m4 0h2m1 0h1m12 0h2m4 0h1m1 0h1m3 0h1m1 0h1m5 0h3m6 0h1m7 0h1m2 0h1m5 0h1m2 0h1m2 0h1m1 0h1m3 0h1m1 0h1m1 0h1m13 0h1m2 0h1m2 0h1m2 0h1m1 0h1m1 0h1m10 0h1m10 0h1m13 0h2m5 0h3m8 0h1m10 0h2m6 0h1m15 0h1m5 0h1m6 0h2m7 0h1m7 0h1m3 0h2m2 0h1m4 0h1m7 0h2m3 0h1m2 0h1m11 0h1m5 0h1m6 0h1m2 0h1m4 0h1m20 0h1m8 0h1m1 0h1m3 0h1m2 0h1m4 0h1m1 0h1m2 0h1m6 0h1m1 0h1m5 0h1m2 0h1m12 0h2m10 0h2m6 0h2m7 0h3m3 0h2m2 0h3m6 0h4m10 0h1m5 0h1m19 0h2m15 0h1m7 0h1m4 0h1m6 0h1m6 0h2m7 0h1m3 0h3m2 0h1m1 0h1m5 0h2m4 0h1m2 0h1m10 0h1m3 0h1m2 0h1m6 0h2m7 0h2m8 0h1m4 0h1m14 0h1m2 0h1m5 0h1m6 0h1m4 0h1m7 0h3m10 0h1m10 0h2m5 0h1m2 0h3m9 0h1m12 0h1m6 0h3m3 0h2m10 0h2M7 356.5h3m6 0h3m7 0h1m4 0h3m2 0h2m3 0h3m6 0h2m7 0h3m6 0h2m3 0h1m6 0h2m5 0h2m2 0h2m5 0h2m2 0h2m3 0h1m6 0h3m5 0h1m7 0h2m6 0h3m3 0h1m4 0h3m3 0h3m6 0h2m6 0h2m6 0h4m5 0h4m2 0h3m3 0h3m1 0h2m6 0h1m5 0h4m2 0h4m1 0h3m4 0h1m5 0h2m7 0h3m3 0h2m2 0h2m12 0h2m6 0h2m7 0h1m4 0h1m6 0h3m6 0h1m5 0h2m5 0h3m12 0h2m6 0h2m3 0h2m2 0h2m3 0h2m6 0h2m4 0h2m3 0h1m4 0h2m2 0h2m2 0h3m6 0h4m3 0h2m6 0h1m5 0h3m5 0h3m6 0h3m3 0h4m5 0h1m3 0h3m5 0h1m6 0h4m4 0h2m7 0h1m6 0h1m4 0h1m6 0h2m2 0h1m4 0h3m4 0h1m2 0h2m8 0h2m4 0h3m3 0h2m5 0h2m3 0h3m6 0h2m11 0h3m6 0h2m2 0h2m3 0h2m3 0h2m4 0h2m2 0h2m10 0h2m4 0h1m3 0h3m5 0h2m3 0h2m2 0h3m6 0h3m3 0h4m7 0h1M120 362.5h2m60 0h1m111 0h3m70 0h1m63 0h1m34 0h1m75 0h2m109 0h1M116 363.5h5m62 0h3m103 0h7m72 0h2m59 0h2m36 0h1m71 0h4m52 0h2m54 0h2M113 364.5h6m65 0h3m99 0h7m76 0h3m55 0h4m36 0h2m67 0h6m54 0h2m51 0h3m48 0h5M111 365.5h7m67 0h4m93 0h9m79 0h3m53 0h4m38 0h2m64 0h6m57 0h2m49 0h3m48 0h1M0 366.5h13m95 0h8m70 0h4m89 0h9m83 0h4m50 0h3m41 0h2m61 0h6m59 0h3m46 0h4M0 367.5h17m89 0h8m73 0h5m83 0h11m86 0h4m47 0h4m42 0h3m57 0h7m62 0h3m44 0h4M0 368.5h21m82 0h8m77 0h5m79 0h11m90 0h5m44 0h4m44 0h3m54 0h8m64 0h3m41 0h5M10 369.5h14m77 0h8m81 0h4m75 0h11m94 0h5m42 0h4m46 0h3m51 0h8m67 0h3m39 0h5M15 370.5h12m71 0h9m84 0h5m70 0h11m99 0h4m40 0h4m48 0h3m48 0h8m70 0h3m37 0h4M19 371.5h11m66 0h9m87 0h5m66 0h11m103 0h4m37 0h5m50 0h3m45 0h8m73 0h3m34 0h5M22 372.5h10m61 0h9m92 0h5m60 0h12m107 0h5m34 0h5m52 0h3m41 0h8m77 0h3m32 0h5M25 373.5h10m56 0h9m95 0h5m56 0h12m111 0h5m31 0h5m55 0h3m38 0h8m80 0h3m29 0h5M28 374.5h10m50 0h10m98 0h6m50 0h13m116 0h5m28 0h5m56 0h4m34 0h9m83 0h4m25 0h6M31 375.5h10m43 0h11m103 0h6m44 0h14m120 0h6m24 0h6m58 0h4m30 0h10m86 0h4m23 0h6M33 376.5h11m37 0h11m107 0h7m37 0h15m125 0h6m21 0h6m61 0h5m25 0h10m90 0h4m20 0h6M36 377.5h12m29 0h13m111 0h7m29 0h17m131 0h7m16 0h7m63 0h5m20 0h12m93 0h5m15 0h8m62 0h1m7 0h1M39 378.5h14m18 0h16m115 0h10m18 0h21m135 0h9m10 0h8m66 0h6m13 0h14m97 0h7m9 0h9m64 0h1M42 379.5h41m121 0h42m142 0h24m69 0h28m101 0h22M45 380.5h35m126 0h35m149 0h20m72 0h24m106 0h18m74 0h1M49 381.5h26m134 0h26m158 0h14m77 0h18m112 0h13m77 0h1M55 382.5h13m85 0h12m48 0h13m112 0h13m45 0h8m44 0h7m31 0h9m78 0h9m35 0h6m49 0h8m24 0h1M146 383.5h22m161 0h25m91 0h12m109 0h19m83 0h16M142 384.5h29m152 0h34m85 0h17m103 0h25m78 0h21M138 385.5h35m145 0h41m81 0h20m99 0h29m75 0h23M135 386.5h16m15 0h9m138 0h21m18 0h9m78 0h8m9 0h6m94 0h14m13 0h6m72 0h9m11 0h5M132 387.5h13m24 0h8m133 0h17m28 0h7m75 0h7m14 0h5m90 0h12m20 0h6m68 0h8M129 388.5h12m31 0h6m128 0h15m37 0h6m72 0h6m17 0h5m87 0h10m26 0h5m66 0h6M126 389.5h11m37 0h6m122 0h14m43 0h6m69 0h6m21 0h4m83 0h10m31 0h4m63 0h6M124 390.5h10m42 0h5m118 0h13m49 0h5m67 0h5m24 0h4m80 0h9m35 0h4m61 0h6M121 391.5h10m46 0h6m113 0h12m55 0h5m64 0h5m26 0h3m78 0h8m39 0h4m59 0h5M119 392.5h9m51 0h5m109 0h12m59 0h5m61 0h5m29 0h3m75 0h8m42 0h4m56 0h5M117 393.5h9m54 0h5m105 0h11m65 0h4m59 0h5m31 0h3m71 0h8m46 0h4m54 0h5M114 394.5h9m59 0h5m100 0h11m69 0h4m57 0h4m34 0h3m68 0h8m49 0h4m52 0h4M112 395.5h9m62 0h5m96 0h11m73 0h5m54 0h4m36 0h3m65 0h8m52 0h4m49 0h5M0 396.5h8m102 0h8m66 0h5m92 0h11m77 0h5m52 0h4m38 0h3m62 0h8m55 0h4m47 0h5m46 0h1M0 397.5h14m94 0h8m70 0h4m88 0h11m82 0h4m49 0h5m40 0h3m59 0h8m58 0h3m46 0h4m53 0h1M0 398.5h18m87 0h9m73 0h5m83 0h11m86 0h4m47 0h5m41 0h3m57 0h8m61 0h3m44 0h4M0 399.5h21m82 0h9m76 0h5m79 0h11m90 0h5m44 0h4m44 0h3m54 0h8m64 0h3m41 0h5M10 400.5h14m77 0h8m81 0h4m75 0h11m94 0h5m42 0h4m46 0h3m51 0h8m67 0h3m39 0h5M15 401.5h12m71 0h9m84 0h5m70 0h11m99 0h4m40 0h4m48 0h3m48 0h8m70 0h3m37 0h4M19 402.5h11m66 0h9m87 0h5m66 0h11m103 0h4m37 0h5m50 0h3m45 0h8m73 0h3m34 0h5M22 403.5h10m61 0h9m92 0h5m60 0h12m107 0h5m34 0h5m52 0h3m41 0h8m77 0h3m32 0h5M25 404.5h10m56 0h9m95 0h5m56 0h12m111 0h5m31 0h5m55 0h3m38 0h8m80 0h3m29 0h5M28 405.5h10m50 0h10m98 0h6m50 0h13m116 0h5m28 0h5m56 0h4m34 0h9m83 0h4m25 0h6M31 406.5h10m43 0h11m103 0h6m44 0h14m120 0h6m24 0h6m58 0h4m30 0h10m86 0h4m23 0h6M33 407.5h11m37 0h11m107 0h7m37 0h15m125 0h6m21 0h6m61 0h5m25 0h10m90 0h4m20 0h6M36 408.5h12m29 0h13m111 0h7m29 0h17m131 0h7m16 0h7m63 0h5m20 0h12m93 0h5m15 0h8M39 409.5h14m18 0h16m115 0h10m18 0h21m135 0h9m10 0h8m66 0h6m13 0h14m97 0h7m9 0h9M42 410.5h41m121 0h42m142 0h24m69 0h28m101 0h22M45 411.5h35m126 0h35m149 0h20m72 0h24m106 0h18M49 412.5h26m134 0h26m158 0h14m77 0h18m112 0h13M55 413.5h13m85 0h12m48 0h13m112 0h13m45 0h8m44 0h7m31 0h9m78 0h9m35 0h6m49 0h8M146 414.5h22m161 0h25m91 0h12m109 0h19m83 0h16M142 415.5h29m152 0h34m85 0h17m103 0h25m78 0h21M138 416.5h35m145 0h41m81 0h20m99 0h29m75 0h23M135 417.5h16m15 0h9m138 0h21m18 0h9m78 0h8m9 0h6m94 0h14m13 0h6m72 0h9m11 0h5M132 418.5h13m24 0h8m133 0h17m28 0h7m75 0h7m14 0h5m90 0h12m20 0h6m68 0h8M129 419.5h12m31 0h6m128 0h15m37 0h6m72 0h6m17 0h5m87 0h10m26 0h5m66 0h6M126 420.5h11m37 0h6m122 0h14m43 0h6m69 0h6m21 0h4m83 0h10m31 0h4m63 0h6M124 421.5h10m42 0h5m118 0h13m49 0h5m67 0h5m24 0h4m80 0h9m35 0h4m61 0h6M121 422.5h10m46 0h6m113 0h12m55 0h5m64 0h5m26 0h3m78 0h8m39 0h4m59 0h5M119 423.5h9m51 0h5m109 0h12m59 0h5m61 0h5m29 0h3m75 0h8m42 0h4m56 0h5M117 424.5h9m54 0h5m105 0h11m65 0h4m59 0h5m31 0h3m71 0h8m46 0h4m54 0h5M114 425.5h9m59 0h5m100 0h11m69 0h4m57 0h4m34 0h3m68 0h8m49 0h4m52 0h4M112 426.5h9m62 0h5m96 0h11m73 0h5m54 0h4m36 0h3m65 0h8m52 0h4m49 0h5M0 427.5h8m102 0h8m66 0h5m92 0h11m77 0h5m52 0h4m38 0h3m62 0h8m55 0h4m47 0h5M0 428.5h14m94 0h8m70 0h4m88 0h11m82 0h4m49 0h5m40 0h3m59 0h8m58 0h3m46 0h4M0 429.5h18m87 0h9m73 0h5m83 0h11m86 0h4m47 0h5m41 0h3m57 0h8m61 0h3m44 0h4M0 430.5h21m82 0h9m76 0h5m79 0h11m90 0h5m44 0h4m44 0h3m54 0h8m64 0h3m41 0h5M10 431.5h14m77 0h8m81 0h4m75 0h11m94 0h5m42 0h4m46 0h3m51 0h8m67 0h3m39 0h5M15 432.5h12m71 0h9m84 0h5m70 0h11m99 0h4m40 0h4m48 0h3m48 0h8m70 0h3m37 0h4M19 433.5h11m66 0h9m87 0h5m66 0h11m103 0h4m37 0h5m50 0h3m45 0h8m73 0h3m34 0h5M22 434.5h10m61 0h9m92 0h5m60 0h12m107 0h5m34 0h5m52 0h3m41 0h8m77 0h3m32 0h5M25 435.5h10m56 0h9m95 0h5m56 0h12m111 0h5m31 0h5m55 0h3m38 0h8m80 0h3m29 0h5M28 436.5h10m50 0h10m98 0h6m50 0h13m116 0h5m28 0h5m56 0h4m34 0h9m83 0h4m25 0h6M31 437.5h10m43 0h11m103 0h6m44 0h14m120 0h6m24 0h6m58 0h4m30 0h10m86 0h4m23 0h6M33 438.5h11m37 0h11m107 0h7m37 0h15m125 0h6m21 0h6m61 0h5m25 0h10m90 0h4m20 0h6M36 439.5h12m29 0h13m111 0h7m29 0h17m131 0h7m16 0h7m63 0h5m20 0h12m93 0h5m15 0h8M39 440.5h14m18 0h16m115 0h10m18 0h21m135 0h9m10 0h8m66 0h6m13 0h14m97 0h7m9 0h9M42 441.5h41m121 0h42m142 0h24m69 0h28m101 0h22M45 442.5h35m126 0h35m149 0h20m72 0h24m106 0h18M49 443.5h26m134 0h26m158 0h14m77 0h18m112 0h13M55 444.5h13m85 0h12m48 0h13m112 0h13m45 0h8m44 0h7m31 0h9m78 0h9m35 0h6m49 0h8M146 445.5h22m161 0h25m91 0h12m109 0h19m83 0h16M142 446.5h29m152 0h34m85 0h17m103 0h25m78 0h21M138 447.5h35m145 0h41m81 0h20m99 0h29m75 0h23M135 448.5h16m15 0h9m138 0h21m18 0h9m78 0h8m9 0h6m94 0h14m13 0h6m72 0h9m11 0h5M132 449.5h13m24 0h8m133 0h17m28 0h7m75 0h7m14 0h5m90 0h12m20 0h6m68 0h8M129 450.5h12m31 0h6m128 0h15m37 0h6m72 0h6m17 0h5m87 0h10m26 0h5m66 0h6M127 451.5h10m37 0h6m123 0h13m44 0h5m69 0h6m21 0h4m83 0h10m31 0h4m63 0h6M125 452.5h8m43 0h5m120 0h9m52 0h4m68 0h3m25 0h3m82 0h7m36 0h3m63 0h4M122 453.5h8m48 0h4M15 454.5h14m27 0h11m29 0h11m9 0h16m14 0h23m8 0h9m5 0h6m17 0h11M0 455.5h120m2 0h60m1 0h53m461 0h5m71 0h6m36 0h3M38 456.5h49m115 0h35m452 0h153M689 457.5h11m5 0h65m6 0h41m3 0h22"/><path stroke="#152000" d="M71 196.5h61m10 0h59m16 0h2m19 0h34m12 0h81m39 0h27m10 0h10m17 0h11m8 0h44m21 0h4m10 0h1m7 0h36"/><path stroke="#154000" d="M0 190.5h25m3 0h1m7 0h1m29 0h66m10 0h59m16 0h2m19 0h34m12 0h81m39 0h27m10 0h10m17 0h11m8 0h44m21 0h4m10 0h1m7 0h36m37 0h1m17 0h1m15 0h1m54 0h1m16 0h1m18 0h1M0 191.5h25m3 0h1m7 0h1m29 0h66m10 0h59m16 0h2m19 0h34m12 0h81m39 0h27m10 0h10m17 0h11m8 0h44m21 0h4m10 0h1m7 0h36m37 0h1m17 0h1m15 0h1m54 0h1m16 0h1m18 0h1M0 192.5h29m7 0h1m29 0h66m10 0h59m16 0h2m19 0h34m12 0h81m39 0h27m10 0h10m17 0h11m8 0h44m21 0h4m10 0h1m7 0h36m37 0h1m17 0h1m15 0h1m54 0h1m16 0h1m18 0h1M0 193.5h29m7 0h1m29 0h66m10 0h59m16 0h2m19 0h34m12 0h81m39 0h27m10 0h10m17 0h11m8 0h44m21 0h4m10 0h1m7 0h36m37 0h1m17 0h1m15 0h1m54 0h1m16 0h1m18 0h1M0 194.5h29m7 0h1m29 0h66m10 0h59m16 0h2m19 0h34m12 0h81m39 0h27m10 0h10m17 0h11m8 0h44m21 0h4m10 0h1m7 0h36m37 0h1m17 0h1m15 0h1m54 0h1m16 0h1m18 0h1M0 195.5h29m7 0h1m29 0h66m10 0h59m16 0h2m19 0h34m12 0h81m39 0h27m10 0h10m17 0h11m8 0h44m21 0h4m10 0h1m7 0h36m37 0h1m17 0h1m15 0h1m54 0h1m16 0h1m18 0h1M69 201.5h1m471 0h3M627 202.5h1M631 204.5h1M631 205.5h1M631 206.5h1M631 207.5h1M631 208.5h1M141 209.5h1m16 0h1m157 0h1m176 0h1m26 0h1m110 0h1M96 210.5h1m44 0h1m16 0h1m157 0h1m176 0h1m26 0h1m110 0h1M96 211.5h1m45 0h16m234 0h7m232 0h1M96 212.5h1m534 0h1M97 213.5h1m533 0h1M99 214.5h2m530 0h1M134 215.5h1M136 216.5h2M140 217.5h4m487 0h1M140 218.5h4m487 0h1M140 219.5h4m487 0h1M140 220.5h4M139 221.5h5M140 222.5h4m291 0h31M140 223.5h4m291 0h31M140 224.5h4m291 0h31M140 225.5h4m291 0h31M140 226.5h4m291 0h31M140 227.5h4m291 0h31M140 228.5h4m291 0h31M140 229.5h4m291 0h31M140 230.5h2M137 235.5h2M139 236.5h3M138 237.5h3M103 238.5h31M101 239.5h2M101 240.5h2M100 241.5h2M56 243.5h1"/><path stroke="#156000" d="M647 196.5h1m17 0h1m15 0h1m54 0h1m16 0h1m18 0h1M628 202.5h2M630 216.5h1M634 221.5h1"/><path stroke="#158000" d="M93 209.5h1M744 227.5h2M739 228.5h2M739 229.5h2M739 230.5h2M739 231.5h2M739 232.5h2M739 233.5h2M739 234.5h2M739 235.5h2M739 236.5h2M739 237.5h2M739 238.5h2M739 239.5h2M739 240.5h2M739 241.5h2M737 245.5h2M737 246.5h2M737 247.5h2M737 248.5h2M737 249.5h2M737 250.5h2M737 251.5h2M738 252.5h2"/><path stroke="#15bf00" d="M56 242.5h1"/><path stroke="#170000" d="M615 34.5h1m4 0h1M615 39.5h1m4 0h1M535 40.5h3m84 0h2M398 41.5h5m9 0h5m5 0h3m7 0h4m8 0h4m5 0h4m21 0h5m18 0h2m12 0h3m6 0h3m11 0h1m8 0h2m4 0h3m9 0h4m8 0h2m3 0h3m18 0h2m6 0h2m14 0h4m6 0h4m4 0h5m3 0h4m8 0h3m3 0h5m18 0h4m16 0h1m18 0h1m3 0h4m5 0h1m19 0h1m7 0h2m9 0h2m7 0h3m3 0h1m9 0h1m9 0h2m8 0h4M398 42.5h5m9 0h5m5 0h3m7 0h4m8 0h4m5 0h4m21 0h5m18 0h2m12 0h3m6 0h3m11 0h1m8 0h2m4 0h3m9 0h4m8 0h2m3 0h3m18 0h2m6 0h2m14 0h4m6 0h4m4 0h5m3 0h4m8 0h3m3 0h5m18 0h4m16 0h1m18 0h1m3 0h4m5 0h1m19 0h1m7 0h2m9 0h2m7 0h3m3 0h1m9 0h1m9 0h2m8 0h4M364 52.5h1m2 0h1M364 57.5h1m2 0h1M106 71.5h2m18 0h2m14 0h5m94 0h1m34 0h3m72 0h3m11 0h1m18 0h5m46 0h1m6 0h5m124 0h5m75 0h3m6 0h5m30 0h5m47 0h2m47 0h2M106 72.5h2m18 0h2m14 0h5m94 0h1m34 0h3m72 0h3m11 0h1m18 0h5m46 0h1m6 0h5m124 0h5m75 0h3m6 0h5m30 0h5m47 0h2m47 0h2M437 78.5h1M437 83.5h1M461 127.5h38M37 138.5h19m21 0h24m161 0h29m26 0h39m96 0h19m61 0h24m136 0h29m101 0h20M37 139.5h19m21 0h24m161 0h29m26 0h39m96 0h19m61 0h24m136 0h29m101 0h20M374 159.5h24M398 160.5h1M398 161.5h1M398 164.5h1M398 165.5h1M374 166.5h24M0 173.5h2m20 0h44m26 0h52m18 0h39m21 0h69m31 0h39m26 0h54m26 0h34m41 0h49m21 0h69m21 0h39m41 0h29m26 0h5M0 174.5h2m20 0h44m26 0h52m18 0h39m21 0h69m31 0h39m26 0h54m26 0h34m41 0h49m21 0h69m21 0h39m41 0h29m26 0h5M398 179.5h1m3 0h1M398 180.5h1m3 0h1M70 197.5h558M70 198.5h558M8 250.5h1m6 0h1m14 0h1m6 0h1M363 254.5h5M125 261.5h1m19 0h1m13 0h1m8 0h1m9 0h1m178 0h1m1 0h1m84 0h9m76 0h10m228 0h24m11 0h19M443 262.5h1m9 0h1m74 0h1m10 0h1m226 0h1m24 0h1m9 0h1m19 0h1M443 263.5h1m9 0h1m74 0h1m10 0h1m226 0h1m24 0h1m9 0h1m19 0h1M125 264.5h1m19 0h1m13 0h1m8 0h1m9 0h1m178 0h1m1 0h1m84 0h9m76 0h10m228 0h24m11 0h19M299 267.5h6m59 0h2m67 0h2m29 0h2m80 0h4m42 0h2m61 0h2M94 268.5h1m6 0h1m3 0h1m190 0h6m63 0h3m64 0h2m31 0h2m77 0h4m105 0h3M293 269.5h5m69 0h2m61 0h3m33 0h1m74 0h4m50 0h1m56 0h3M290 270.5h5m73 0h2m59 0h2m36 0h1m71 0h4m52 0h2m54 0h2M287 271.5h5m77 0h3m56 0h2m38 0h1m68 0h4m55 0h2m52 0h2M284 272.5h5m82 0h2m54 0h2m39 0h2m65 0h4m58 0h2m49 0h3M281 273.5h5m86 0h2m52 0h2m41 0h2m62 0h4m61 0h2m47 0h2M278 274.5h5m90 0h2m49 0h2m44 0h2m59 0h4m64 0h1m46 0h2M275 275.5h5m94 0h2m47 0h2m46 0h2m56 0h4m67 0h1m43 0h3M272 276.5h5m98 0h3m44 0h2m48 0h1m54 0h4m70 0h1m41 0h2M269 277.5h5m103 0h2m42 0h2m50 0h1m51 0h4m73 0h1m39 0h2M266 278.5h5m107 0h2m39 0h3m52 0h1m48 0h4m76 0h1m36 0h3M262 279.5h6m111 0h3m36 0h2m54 0h2m44 0h4m80 0h1m34 0h3M259 280.5h6m115 0h3m34 0h2m56 0h2m41 0h4m83 0h1m32 0h2M255 281.5h7m120 0h2m31 0h3m58 0h2m38 0h4m86 0h2m28 0h3M251 282.5h7m125 0h3m28 0h3m60 0h2m34 0h5m89 0h2m25 0h3M247 283.5h8m130 0h3m24 0h3m63 0h2m30 0h5m93 0h2m23 0h3M242 284.5h9m135 0h4m20 0h4m65 0h3m25 0h5m97 0h3m18 0h4M241 285.5h6m141 0h4m16 0h4m69 0h2m20 0h6m101 0h3m15 0h4M390 286.5h5m10 0h5m72 0h4m11 0h9m106 0h4m9 0h5M392 287.5h16m76 0h18m112 0h14M396 288.5h8m82 0h10m120 0h8M337 290.5h14m97 0h7m117 0h10m89 0h9M328 291.5h27m89 0h13m109 0h19m82 0h17M322 292.5h13m17 0h5m85 0h5m8 0h4m103 0h9m12 0h4m78 0h5m11 0h4M317 293.5h10m28 0h4m81 0h4m14 0h2m99 0h6m20 0h3m75 0h4M313 294.5h9m35 0h4m77 0h4m17 0h3m94 0h5m26 0h3m71 0h4M309 295.5h8m42 0h3m75 0h3m21 0h2m90 0h5m30 0h3m68 0h3M306 296.5h7m48 0h3m71 0h3m24 0h2m86 0h5m35 0h2m66 0h3M302 297.5h7m54 0h2m69 0h3m26 0h2m83 0h4m39 0h2m63 0h3M299 298.5h6m59 0h3m66 0h2m29 0h2m80 0h4m42 0h2m61 0h2M296 299.5h6m63 0h3m64 0h2m31 0h2m77 0h4m45 0h2m58 0h3M293 300.5h5m69 0h2m61 0h3m33 0h1m74 0h4m49 0h2m56 0h3M290 301.5h5m73 0h2m59 0h2m36 0h1m71 0h4m52 0h2m54 0h2M287 302.5h5m77 0h3m56 0h2m38 0h1m68 0h4m55 0h2m52 0h2M284 303.5h5m82 0h2m54 0h2m39 0h2m65 0h4m58 0h2m49 0h3M281 304.5h5m86 0h2m52 0h2m41 0h2m62 0h4m61 0h2m47 0h2M281 305.5h1m92 0h1M270 308.5h3m102 0h5m41 0h1m51 0h1m52 0h2m74 0h1m39 0h2M266 309.5h5m105 0h5m38 0h3m52 0h1m48 0h4m76 0h1m36 0h3M262 310.5h6m98 0h5m6 0h2m1 0h3m35 0h2m54 0h2m44 0h4m80 0h1m34 0h3M259 311.5h6m102 0h6m4 0h6m34 0h2m56 0h2m41 0h4m83 0h1m32 0h2M255 312.5h7m106 0h7m3 0h6m31 0h3m58 0h2m38 0h4m86 0h2m28 0h3M251 313.5h7m111 0h7m5 0h5m28 0h3m60 0h2m34 0h5m89 0h2m25 0h3M247 314.5h8m115 0h7m8 0h3m24 0h3m63 0h2m30 0h5m93 0h2m23 0h3M242 315.5h9m121 0h6m8 0h4m20 0h4m65 0h3m25 0h5m97 0h3m18 0h4M241 316.5h6m116 0h1m9 0h6m9 0h4m16 0h4m69 0h2m20 0h6m101 0h3m15 0h4M362 317.5h3m9 0h6m10 0h5m10 0h5m72 0h4m11 0h9m106 0h4m9 0h5M362 318.5h5m8 0h5m12 0h15m77 0h18m112 0h14M363 319.5h5m8 0h5m16 0h6m84 0h7m123 0h6M363 320.5h7m7 0h4M364 321.5h7m8 0h1M364 322.5h8M365 323.5h9M366 324.5h9M360 325.5h16M361 326.5h17M361 327.5h6m4 0h7M363 328.5h4M7 354.5h3m22 0h2m2 0h2m3 0h3m6 0h2m7 0h3m11 0h1m6 0h1m6 0h1m4 0h1m5 0h1m3 0h1m4 0h1m6 0h3m14 0h1m6 0h3m9 0h1m5 0h1m16 0h1m7 0h2m7 0h2m4 0h1m5 0h1m3 0h1m6 0h1m6 0h2m4 0h2m3 0h1m5 0h1m6 0h1m7 0h2m4 0h2m2 0h2m20 0h2m7 0h1m12 0h2m6 0h1m5 0h1m7 0h2m12 0h1m7 0h1m9 0h1m4 0h1m12 0h2m3 0h1m4 0h2m3 0h1m2 0h2m8 0h2m4 0h1m7 0h1m5 0h3m6 0h2m7 0h1m5 0h2m6 0h1m4 0h2m5 0h1m7 0h2m5 0h2m14 0h1m15 0h1m30 0h3m3 0h1m7 0h1m3 0h3m6 0h2m11 0h3m6 0h1m3 0h2m4 0h1m4 0h1m4 0h1m3 0h2m10 0h1m10 0h1m11 0h1m4 0h2m6 0h2m5 0h2m153 0h2M7 355.5h3m22 0h2m2 0h2m3 0h3m6 0h2m7 0h3m11 0h1m6 0h1m6 0h1m4 0h1m5 0h1m3 0h1m4 0h1m6 0h3m14 0h1m6 0h3m9 0h1m5 0h1m16 0h1m7 0h2m7 0h2m4 0h1m5 0h1m3 0h1m6 0h1m6 0h2m4 0h2m3 0h1m5 0h1m6 0h1m7 0h2m4 0h2m2 0h2m20 0h2m7 0h1m12 0h2m6 0h1m5 0h1m7 0h2m12 0h1m7 0h1m9 0h1m4 0h1m12 0h2m3 0h1m4 0h2m3 0h1m2 0h2m8 0h2m4 0h1m7 0h1m5 0h3m6 0h2m7 0h1m5 0h2m6 0h1m4 0h2m5 0h1m7 0h2m5 0h2m14 0h1m15 0h1m30 0h3m3 0h1m7 0h1m3 0h3m6 0h2m11 0h3m6 0h1m3 0h2m4 0h1m4 0h1m4 0h1m3 0h2m10 0h1m10 0h1m11 0h1m4 0h2m6 0h2m5 0h2m153 0h2M706 365.5h1M699 366.5h1M699 367.5h1M699 368.5h1M699 369.5h1M699 370.5h1m6 0h1M706 371.5h1M699 372.5h1m6 0h1M699 373.5h1m6 0h1M699 374.5h1m6 0h1M699 375.5h1m6 0h1M706 376.5h1M698 379.5h1m5 0h1M698 380.5h1M698 381.5h1M698 382.5h1M698 383.5h1m5 0h1M698 384.5h1m5 0h1M698 385.5h1m5 0h1M698 386.5h1m5 0h1M698 387.5h1m5 0h1M698 388.5h1m5 0h1M698 389.5h1m5 0h1M698 390.5h1m5 0h1M704 391.5h1M704 392.5h1M704 393.5h1M704 394.5h1M698 395.5h1M704 396.5h1M120 455.5h2m60 0h1M0 456.5h38m49 0h115M0 457.5h237m463 0h5m65 0h6m41 0h3M0 458.5h237m452 0h153M0 459.5h237m452 0h153M0 460.5h237m452 0h153M0 461.5h237m452 0h153M0 462.5h237m452 0h153M0 463.5h237m452 0h153M0 464.5h237m452 0h153M0 465.5h237m452 0h153M0 466.5h237m452 0h153"/><path stroke="#172000" d="M69 196.5h2m539 0h20M628 197.5h4M628 198.5h3M70 199.5h466"/><path stroke="#174000" d="M2 149.5h1m1 0h1M2 152.5h1m1 0h1M610 190.5h13M610 191.5h13M610 192.5h13M610 193.5h13M610 194.5h13M610 195.5h13M630 196.5h7M632 197.5h3M631 198.5h4M536 199.5h99M70 200.5h558m3 0h4M68 201.5h1m475 0h84m3 0h4M67 202.5h1m563 0h1M67 203.5h1m563 0h1M67 204.5h1M67 205.5h1M96 213.5h1M98 214.5h1M132 215.5h2m497 0h1M134 216.5h2m495 0h1M136 217.5h4M136 218.5h4M136 219.5h4M136 220.5h4m492 0h1M133 221.5h1M134 235.5h3M135 236.5h4M103 237.5h31M101 238.5h2M100 239.5h1M100 240.5h1M97 241.5h3"/><path stroke="#176000" d="M637 196.5h10m10 0h8m17 0h16m16 0h15m8 0h16m20 0h10m8 0h37M635 197.5h4M635 198.5h4M635 199.5h4M628 200.5h3m4 0h4M628 201.5h3m4 0h3M630 202.5h1M67 206.5h1M633 220.5h1M635 221.5h1"/><path stroke="#178000" d="M639 197.5h203M639 198.5h203M639 199.5h203M639 200.5h203M669 201.5h173M746 227.5h96M741 228.5h2M741 229.5h2M741 230.5h2M741 231.5h2M741 232.5h2M741 233.5h2M741 234.5h2M741 235.5h2M741 236.5h2M741 237.5h2M741 238.5h2M741 239.5h2M741 240.5h2M741 241.5h2M739 245.5h3M739 246.5h3M739 247.5h3M739 248.5h3M739 249.5h3M739 250.5h3M739 251.5h3M740 252.5h3"/><path stroke="#17bf00" d="M67 207.5h1M67 208.5h1"/><path stroke="#190000" d="M616 34.5h4M616 39.5h4M466 41.5h3m21 0h5m12 0h4m24 0h3m34 0h2m19 0h4m25 0h2m59 0h2m19 0h2m18 0h4m23 0h1m5 0h3M466 42.5h3m21 0h5m12 0h4m24 0h3m34 0h2m19 0h4m25 0h2m59 0h2m19 0h2m18 0h4m23 0h1m5 0h3M365 52.5h2M365 57.5h2M433 78.5h4M432 79.5h1M432 80.5h1M432 81.5h1M432 82.5h1M433 83.5h4M432 136.5h1m2 0h1M374 162.5h24M374 163.5h24M2 172.5h1m18 0h1m44 0h1m24 0h1m69 0h1m39 0h1m19 0h1m69 0h1m29 0h1m39 0h1m24 0h1m54 0h1m24 0h1m34 0h1m39 0h1m49 0h1m19 0h1m69 0h1m19 0h1m39 0h1m39 0h1m29 0h1m24 0h1M0 184.5h25m3 0h1m7 0h1m29 0h50m3 0h4m4 0h5m10 0h59m16 0h2m19 0h34m12 0h81m39 0h9m5 0h13m10 0h10m17 0h11m8 0h44m21 0h4m10 0h1m7 0h73m10 0h8m17 0h16m16 0h15m8 0h16m20 0h10m8 0h37M118 186.5h1m7 0h1M68 197.5h2M68 198.5h2M0 244.5h8m8 0h14m8 0h18M379 254.5h1M603 268.5h1M84 271.5h1M379 310.5h1M436 345.5h1M706 366.5h1M706 367.5h1M706 368.5h1M706 369.5h1M699 371.5h1M704 378.5h1M698 391.5h1M698 392.5h1M698 393.5h1M698 394.5h1M704 395.5h1"/><path stroke="#192000" d="M67 196.5h2M68 199.5h2"/><path stroke="#194000" d="M432 145.5h1m2 0h1M333 152.5h1m53 0h1m53 0h1m53 0h1m53 0h1m2 0h1M623 190.5h24m10 0h8m17 0h16m16 0h15m8 0h16m20 0h10m8 0h37M623 191.5h24m10 0h8m17 0h16m16 0h15m8 0h16m20 0h10m8 0h37M623 192.5h24m10 0h8m17 0h16m16 0h15m8 0h16m20 0h10m8 0h37M623 193.5h24m10 0h8m17 0h16m16 0h15m8 0h16m20 0h10m8 0h37M623 194.5h24m10 0h8m17 0h16m16 0h15m8 0h16m20 0h10m8 0h37M623 195.5h24m10 0h8m17 0h16m16 0h15m8 0h16m20 0h10m8 0h37M29 196.5h7m1 0h29M68 200.5h2M67 201.5h1M632 202.5h3M632 203.5h2M632 204.5h3M632 205.5h3M632 206.5h3M632 207.5h3M632 208.5h3M632 209.5h3M632 210.5h3M632 211.5h3M632 212.5h3M632 213.5h3M96 214.5h2m534 0h3M100 215.5h32m500 0h1M132 216.5h2M132 217.5h4m496 0h1M132 218.5h4m496 0h1M132 219.5h4m496 0h1M132 220.5h4M132 221.5h1M132 222.5h1M132 223.5h1M132 224.5h1M132 225.5h1M132 226.5h1M132 227.5h1M132 228.5h1M132 229.5h1M132 230.5h1M132 231.5h1M132 232.5h1M132 233.5h1M132 234.5h1M132 235.5h2M103 236.5h32M99 237.5h4M99 238.5h2M99 239.5h1M99 240.5h1M96 241.5h1"/><path stroke="#196000" d="M638 201.5h1M95 210.5h1M95 211.5h1M95 212.5h1M95 213.5h1M634 220.5h1M636 221.5h1M95 241.5h1"/><path stroke="#198000" d="M639 201.5h30M743 228.5h2M743 229.5h2M743 230.5h2M743 231.5h2M743 232.5h2M743 233.5h2M743 234.5h2M743 235.5h2M743 236.5h2M743 237.5h2M743 238.5h2M743 239.5h2M743 240.5h2M743 241.5h2M725 244.5h4m1 0h4M742 245.5h2M742 246.5h2M742 247.5h2M742 248.5h2M742 249.5h2M742 250.5h2M742 251.5h2M743 252.5h2"/><path stroke="#199f00" d="M92 209.5h1"/><path stroke="#1b0000" d="M433 136.5h2M374 164.5h24M2 173.5h1m18 0h1m44 0h1m24 0h1m69 0h1m39 0h1m19 0h1m69 0h1m29 0h1m39 0h1m24 0h1m54 0h1m24 0h1m34 0h1m39 0h1m49 0h1m19 0h1m69 0h1m19 0h1m39 0h1m39 0h1m29 0h1m24 0h1M2 174.5h1m18 0h1m44 0h1m24 0h1m69 0h1m39 0h1m19 0h1m69 0h1m29 0h1m39 0h1m24 0h1m54 0h1m24 0h1m34 0h1m39 0h1m49 0h1m19 0h1m69 0h1m19 0h1m39 0h1m39 0h1m29 0h1m24 0h1M398 186.5h1m3 0h1M67 197.5h1M67 198.5h1M355 243.5h1m17 0h1m1 0h1M375 254.5h1M594 268.5h1"/><path stroke="#1b2000" d="M66 197.5h1M66 198.5h1M67 199.5h1"/><path stroke="#1b4000" d="M433 145.5h2M3 149.5h1M2 150.5h1m1 0h1M2 151.5h1m1 0h1M3 152.5h1M0 196.5h29m7 0h1m29 0h1M0 197.5h66M0 198.5h66M0 199.5h67M0 200.5h68M0 201.5h67M0 202.5h67M0 203.5h67m567 0h1M0 204.5h67M0 205.5h67M0 206.5h66M0 207.5h66M96 215.5h4m533 0h2M96 216.5h36m500 0h1M96 217.5h36m501 0h2M96 218.5h36m501 0h2M96 219.5h36m501 0h2M96 220.5h14m8 0h14M96 221.5h14m9 0h13M96 222.5h14m9 0h13M96 223.5h14m9 0h13M96 224.5h14m9 0h13M96 225.5h14m9 0h13M96 226.5h14m9 0h13M96 227.5h14m9 0h13M96 228.5h14m9 0h13M96 229.5h14m9 0h13M96 230.5h14m9 0h13M96 231.5h14m8 0h14M96 232.5h36M96 233.5h36M96 234.5h36M96 235.5h36M96 236.5h7M96 237.5h3M97 238.5h2M98 239.5h1M97 240.5h2"/><path stroke="#1b6000" d="M635 202.5h4M635 203.5h4M635 204.5h4M635 205.5h4M66 206.5h1m568 0h4M635 207.5h4M635 208.5h4M635 209.5h4M635 210.5h4M635 211.5h4M635 212.5h4M635 213.5h4M95 214.5h1m539 0h4M95 215.5h1m539 0h1M95 216.5h1M95 217.5h1M95 218.5h1M95 219.5h1M95 220.5h1m539 0h2M95 221.5h1m541 0h2M95 222.5h1M95 223.5h1M95 224.5h1M95 225.5h1M95 226.5h1M95 227.5h1M95 228.5h1M95 229.5h1M95 230.5h1M95 231.5h1M95 232.5h1M95 233.5h1M95 234.5h1M95 235.5h1M95 236.5h1M95 237.5h1"/><path stroke="#1b8000" d="M639 202.5h24M66 207.5h1M94 210.5h1M94 211.5h1M94 212.5h1M94 213.5h1M94 214.5h1M93 215.5h2M93 216.5h2M94 217.5h1M94 218.5h1M94 219.5h1M94 220.5h1M94 221.5h1M94 222.5h1M94 223.5h1M94 224.5h1M94 225.5h1M94 226.5h1M94 227.5h1M94 228.5h1m650 0h1M94 229.5h1m650 0h1M94 230.5h1m650 0h1M94 231.5h1m650 0h1M94 232.5h1m650 0h1M94 233.5h1m650 0h1M94 234.5h1m650 0h1M94 235.5h1m650 0h1M94 236.5h1m650 0h1M745 237.5h1M745 238.5h1M745 239.5h1M745 240.5h1M94 241.5h1m650 0h1M736 244.5h4M744 245.5h2M744 246.5h2M744 247.5h2M744 248.5h2M744 249.5h2M744 250.5h2M744 251.5h2M745 252.5h3"/><path stroke="#1b9f00" d="M66 208.5h1M92 215.5h1M92 216.5h1M92 217.5h2M92 218.5h2M92 219.5h2M92 220.5h2M92 221.5h2M92 222.5h2M92 223.5h2M92 224.5h2M92 225.5h2M92 226.5h2M92 227.5h2M92 228.5h2M92 229.5h2M92 230.5h2M92 231.5h2M92 232.5h2M92 233.5h2M92 234.5h2M92 235.5h2M92 236.5h2M93 241.5h1"/><path stroke="#1bbf00" d="M71 209.5h21M90 215.5h2M90 216.5h2M90 217.5h2M90 218.5h2M90 219.5h2M89 220.5h3M89 221.5h3M89 222.5h3M89 223.5h3M89 224.5h3M89 225.5h3M89 226.5h3M89 227.5h3M89 228.5h3M89 229.5h3M89 230.5h3M89 231.5h3M89 232.5h3M89 233.5h3M89 234.5h3M89 235.5h3M90 236.5h2"/><path stroke="#1d0000" d="M374 160.5h24M374 161.5h24M374 165.5h24M3 172.5h18m46 0h24m53 0h17m41 0h19m71 0h29m41 0h24m56 0h24m36 0h39m51 0h19m71 0h19m41 0h39m31 0h24M0 177.5h29m7 0h1m29 0h66m10 0h59m16 0h2m19 0h34m12 0h81m39 0h9m5 0h13m10 0h10m17 0h11m8 0h44m21 0h4m10 0h1m7 0h73m10 0h8m17 0h16m16 0h15m8 0h16m20 0h10m8 0h37M0 178.5h29m7 0h1m29 0h66m10 0h59m16 0h2m19 0h34m12 0h81m39 0h9m5 0h13m10 0h10m17 0h11m8 0h44m21 0h4m10 0h1m7 0h73m10 0h8m17 0h16m16 0h15m8 0h16m20 0h10m8 0h37M0 179.5h29m7 0h1m29 0h50m3 0h4m4 0h5m10 0h59m16 0h2m19 0h34m12 0h81m39 0h9m5 0h13m10 0h10m17 0h11m8 0h44m21 0h4m10 0h1m7 0h73m10 0h8m17 0h16m16 0h15m8 0h16m20 0h10m8 0h37M0 180.5h29m7 0h1m29 0h50m3 0h4m4 0h5m10 0h59m16 0h2m19 0h34m12 0h81m39 0h9m5 0h13m10 0h10m17 0h11m8 0h44m21 0h4m10 0h1m7 0h73m10 0h8m17 0h16m16 0h15m8 0h16m20 0h10m8 0h37M0 181.5h29m7 0h1m29 0h50m3 0h4m4 0h5m10 0h59m16 0h2m19 0h34m12 0h81m39 0h9m5 0h13m10 0h10m17 0h11m8 0h44m21 0h4m10 0h1m7 0h73m10 0h8m17 0h16m16 0h15m8 0h16m20 0h10m8 0h37M0 182.5h29m7 0h1m29 0h50m3 0h4m4 0h5m10 0h59m16 0h2m19 0h34m12 0h81m39 0h9m5 0h13m10 0h10m17 0h11m8 0h44m21 0h4m10 0h1m7 0h73m10 0h8m17 0h16m16 0h15m8 0h16m20 0h10m8 0h37M0 183.5h25m3 0h1m7 0h1m29 0h50m3 0h4m4 0h5m10 0h59m16 0h2m19 0h34m12 0h81m39 0h9m5 0h13m10 0h10m17 0h11m8 0h44m21 0h4m10 0h1m7 0h73m10 0h8m17 0h16m16 0h15m8 0h16m20 0h10m8 0h37M50 254.5h2m8 0h1M52 255.5h1m227 0h1m27 0h1m3 0h1M52 256.5h1m227 0h1m27 0h1m3 0h1M34 261.5h2m3 0h1m83 0h2M36 262.5h1m3 0h1m81 0h1m2 0h1M36 263.5h1m3 0h1m81 0h1m2 0h1M34 264.5h2m3 0h1m83 0h2M88 268.5h6m8 0h3m482 0h2M94 269.5h1m6 0h1m3 0h1M94 270.5h1m6 0h1m3 0h1M699 376.5h1"/><path stroke="#1d4000" d="M333 150.5h1m53 0h1m53 0h1m53 0h1m53 0h1m2 0h1M117 151.5h1m59 0h1m155 0h1m53 0h1m53 0h1m53 0h1m53 0h1m2 0h1m53 0h1m59 0h1m59 0h1M334 152.5h3m51 0h3m51 0h3m51 0h3m51 0h2M633 216.5h2M110 220.5h8M118 221.5h1M118 222.5h1M118 223.5h1M118 224.5h1M118 225.5h1M118 226.5h1M118 227.5h1M118 228.5h1M118 229.5h1M118 230.5h1M110 231.5h8M96 238.5h1M96 239.5h2M96 240.5h1"/><path stroke="#1d6000" d="M636 215.5h3M635 216.5h1M635 217.5h2M635 218.5h2M635 219.5h2M637 220.5h1M639 221.5h1M95 238.5h1"/><path stroke="#1d8000" d="M663 202.5h2m13 0h21M639 203.5h25M639 204.5h24M639 205.5h24M639 206.5h24M639 207.5h24M639 208.5h24M639 209.5h24M639 210.5h24M639 211.5h24M639 212.5h24M93 213.5h1m545 0h24M93 214.5h1m545 0h24M746 228.5h3M746 229.5h3M746 230.5h3M746 231.5h3M746 232.5h3M746 233.5h3M746 234.5h3M746 235.5h3M746 236.5h3M94 237.5h1m651 0h3M746 238.5h3M746 239.5h3M746 240.5h3M746 241.5h3M742 244.5h4M746 245.5h3M746 246.5h3M746 247.5h3M746 248.5h3M746 249.5h3M746 250.5h3M746 251.5h3M748 252.5h94"/><path stroke="#1d9f00" d="M0 208.5h31m4 0h31M92 214.5h1M92 237.5h2M92 241.5h1"/><path stroke="#1dbf00" d="M69 209.5h2M88 215.5h2M88 216.5h2M88 217.5h2M88 218.5h2M87 219.5h3M87 220.5h2M87 221.5h2M87 222.5h2M87 223.5h2M87 224.5h2M87 225.5h2M87 226.5h2M87 227.5h2M87 228.5h2M87 229.5h2M87 230.5h2M87 231.5h2M87 232.5h2M87 233.5h2M87 234.5h2M87 235.5h2M87 236.5h3M83 241.5h9"/><path stroke="#1f0000" d="M8 248.5h1m6 0h1m14 0h1m6 0h1M8 249.5h1m6 0h1m14 0h1m6 0h1M9 250.5h6m16 0h6M184 254.5h3m8 0h2m171 0h1m7 0h3m3 0h2m180 0h2M379 255.5h1M379 256.5h1M144 261.5h1m12 0h2m10 0h4m6 0h3m168 0h5m3 0h1M145 262.5h1m13 0h1m8 0h1m9 0h1m101 0h1m27 0h1m3 0h1m44 0h1m1 0h1m84 0h9m76 0h10m228 0h24m11 0h19M145 263.5h1m13 0h1m8 0h1m9 0h1m178 0h1m1 0h1m84 0h9m76 0h10m228 0h24m11 0h19M144 264.5h1m12 0h2m10 0h4m6 0h3m168 0h5m3 0h1M568 268.5h6m15 0h5m6 0h3M594 269.5h1m8 0h1M594 270.5h1m8 0h1M81 271.5h3m256 0h10M84 272.5h1M84 273.5h1"/><path stroke="#1f2000" d="M29 189.5h1m27 0h1m74 0h1m92 0h1m4 0h1m41 0h1m6 0h2m2 0h1m102 0h2m8 0h2m33 0h1m8 0h1m45 0h1m44 0h1m33 0h1m1 0h1"/><path stroke="#1f4000" d="M179 149.5h1m59 0h1m62 0h1m197 0h1m107 0h1m59 0h1m59 0h1m62 0h1M179 150.5h1m59 0h1m62 0h1m197 0h1m107 0h1m59 0h1m59 0h1m62 0h1M302 151.5h1m488 0h1M0 243.5h8m8 0h14m8 0h18"/><path stroke="#1f6000" d="M636 216.5h2M637 217.5h2M637 218.5h2M637 219.5h2M640 221.5h1M95 239.5h1M95 240.5h1"/><path stroke="#1f8000" d="M665 202.5h2m3 0h8m21 0h1M663 204.5h1M663 205.5h1M663 206.5h1M663 207.5h1M663 208.5h1M663 209.5h1M93 210.5h1m569 0h1M93 211.5h1m569 0h1M93 212.5h1m569 0h1M663 213.5h1M663 214.5h1M639 215.5h25M638 220.5h2M749 228.5h93M749 229.5h93M749 230.5h93M749 231.5h93M749 232.5h93M749 233.5h93M749 234.5h93M749 235.5h93M749 236.5h93M749 237.5h93M94 238.5h1m654 0h93M749 239.5h93M749 240.5h93M749 241.5h93M747 244.5h5m1 0h5m1 0h4m2 0h4m1 0h5m1 0h6m1 0h5m2 0h7m2 0h4m1 0h22m2 0h5m2 0h7M749 245.5h93M749 246.5h93M749 247.5h93M749 248.5h93M749 249.5h93M749 250.5h93M749 251.5h93"/><path stroke="#1f9f00" d="M93 238.5h1"/><path stroke="#1fbf00" d="M68 209.5h1M89 214.5h3M86 215.5h2M86 216.5h2M86 217.5h2M86 218.5h2M85 219.5h2M84 220.5h3M84 221.5h3M84 222.5h3M84 223.5h3M84 224.5h3M84 225.5h3M84 226.5h3M84 227.5h3M84 228.5h3M84 229.5h3M84 230.5h3M84 231.5h3M84 232.5h3M84 233.5h3M84 234.5h3M84 235.5h3M84 236.5h3M88 237.5h4M59 241.5h24M0 242.5h56"/><path stroke="#210000" d="M364 53.5h1m2 0h1M364 54.5h1m2 0h1M364 55.5h1m2 0h1M364 56.5h1m2 0h1M432 137.5h1m2 0h1M432 138.5h1m2 0h1M432 139.5h1m2 0h1M432 140.5h1m2 0h1M3 173.5h18m46 0h24m53 0h17m41 0h19m71 0h29m41 0h24m56 0h24m36 0h39m51 0h19m71 0h19m41 0h39m31 0h24M3 174.5h18m46 0h24m53 0h17m41 0h19m71 0h29m41 0h24m56 0h24m36 0h39m51 0h19m71 0h19m41 0h39m31 0h24M67 244.5h2m7 0h2m7 0h2m7 0h2m7 0h2m7 0h2m7 0h2m7 0h2m7 0h2m7 0h2m7 0h2m10 0h2m22 0h2m25 0h2m14 0h2m75 0h2m68 0h2m187 0h2m15 0h2M436 341.5h1M432 345.5h1M699 396.5h1"/><path stroke="#212000" d="M63 141.5h1m21 0h1m1 0h1m7 0h1m23 0h1m15 0h1m1 0h1m7 0h1m286 0h1m2 0h1"/><path stroke="#214000" d="M63 142.5h1m21 0h1m1 0h1m7 0h1m23 0h1m15 0h1m1 0h1m7 0h1m286 0h1m2 0h1M63 143.5h1m21 0h1m1 0h1m7 0h1m23 0h1m15 0h1m1 0h1m7 0h1m286 0h1m2 0h1M63 144.5h1m21 0h1m1 0h1m7 0h1m23 0h1m15 0h1m1 0h1m7 0h1m286 0h1m2 0h1"/><path stroke="#216000" d="M638 216.5h1M641 221.5h82"/><path stroke="#218000" d="M667 202.5h3m34 0h24m8 0h12m9 0h85M664 203.5h1M639 216.5h2M639 217.5h2M639 218.5h2M639 219.5h2M640 220.5h1M723 221.5h119M94 239.5h1M94 240.5h1M763 244.5h2m23 0h2m7 0h2m27 0h2m5 0h2"/><path stroke="#219f00" d="M92 213.5h1M92 238.5h1M93 240.5h1"/><path stroke="#21bf00" d="M67 209.5h1M86 214.5h3M84 215.5h2M84 216.5h2M84 217.5h2M84 218.5h2M83 219.5h2M82 220.5h2M81 221.5h3M81 222.5h3M81 223.5h3M81 224.5h3M81 225.5h3M81 226.5h3M81 227.5h3M81 228.5h3M81 229.5h3M81 230.5h3M81 231.5h3M81 232.5h3M81 233.5h3M81 234.5h3M81 235.5h3M81 236.5h3M84 237.5h4M91 238.5h1"/><path stroke="#220000" d="M437 79.5h1M437 80.5h1M437 81.5h1M437 82.5h1M700 365.5h6M705 377.5h1M700 396.5h4"/><path stroke="#224000" d="M25 191.5h1m1 0h1M141 237.5h1"/><path stroke="#228000" d="M702 202.5h2m24 0h1m6 0h1m12 0h1m7 0h1M665 203.5h1M664 204.5h1M664 205.5h1M664 206.5h1M664 207.5h1M664 208.5h1M664 209.5h1M664 210.5h1M664 211.5h1M664 212.5h1M664 213.5h1M664 214.5h1M664 215.5h1M641 216.5h58M641 217.5h201M641 218.5h201M641 219.5h201M641 220.5h201M725 242.5h4m1 0h4m2 0h4m2 0h4m1 0h5m1 0h5m1 0h4m2 0h4m1 0h5m1 0h6m1 0h5m2 0h7m2 0h4m1 0h22m2 0h5m2 0h7M725 243.5h4m1 0h4m2 0h4m2 0h4m1 0h5m1 0h5m1 0h4m2 0h4m1 0h5m1 0h6m1 0h5m2 0h7m2 0h4m1 0h22m2 0h5m2 0h7M740 244.5h2"/><path stroke="#229f00" d="M31 208.5h1M92 210.5h1M92 211.5h1M92 212.5h1M92 239.5h2M92 240.5h1"/><path stroke="#22bf00" d="M0 209.5h31m4 0h32M86 213.5h6M82 214.5h4M82 215.5h2M82 216.5h2M82 217.5h2M82 218.5h2M81 219.5h2M79 220.5h3M79 221.5h2M79 222.5h2M79 223.5h2M79 224.5h2M79 225.5h2M79 226.5h2M79 227.5h2M79 228.5h2M79 229.5h2M79 230.5h2M79 231.5h2M79 232.5h2M79 233.5h2M79 234.5h2M79 235.5h2M79 236.5h2M80 237.5h4M83 238.5h8M58 241.5h1"/><path stroke="#240000" d="M615 35.5h1M615 36.5h1M615 37.5h1M615 38.5h1M433 137.5h2M433 138.5h2M433 139.5h2M433 140.5h2M118 179.5h1m7 0h1M118 180.5h1m7 0h1M704 377.5h1"/><path stroke="#242000" d="M433 141.5h2"/><path stroke="#244000" d="M433 142.5h2M433 143.5h2M433 144.5h2M3 150.5h1M3 151.5h1m54 0h2m58 0h1m59 0h1m58 0h2m58 0h2m200 0h1m107 0h1m59 0h1m59 0h1m58 0h2M117 152.5h1m2 0h1m56 0h1m2 0h1m59 0h1m260 0h1m104 0h1m2 0h1m56 0h1m2 0h1m56 0h1m2 0h1M117 153.5h1m2 0h1m56 0h1m2 0h1m59 0h1m260 0h1m104 0h1m2 0h1m56 0h1m2 0h1m56 0h1m2 0h1M117 154.5h1m2 0h1m56 0h1m2 0h1m59 0h1m260 0h1m104 0h1m2 0h1m56 0h1m2 0h1m56 0h1m2 0h1"/><path stroke="#248000" d="M700 202.5h2m27 0h6m14 0h7M665 215.5h1M699 216.5h28m10 0h11m9 0h85M734 244.5h2m16 0h1m5 0h1m10 0h1m5 0h1m6 0h1m20 0h1"/><path stroke="#24bf00" d="M91 212.5h1M78 213.5h8M79 214.5h3M80 215.5h2M80 216.5h2M80 217.5h2M80 218.5h2M79 219.5h2M77 220.5h2M58 221.5h21M58 222.5h21M58 223.5h21M58 224.5h21M58 225.5h21M58 226.5h21M58 227.5h21M58 228.5h21M58 229.5h21M58 230.5h21M58 231.5h21M58 232.5h21M58 233.5h21M58 234.5h21M58 235.5h21M58 236.5h21M58 237.5h22M58 238.5h25M58 239.5h34M58 240.5h34"/><path stroke="#260000" d="M365 53.5h2M365 54.5h2M365 55.5h2M365 56.5h2M116 186.5h2m5 0h3m287 0h5M281 255.5h1m16 0h4m7 0h3m25 0h2M281 256.5h1m16 0h4m7 0h3m25 0h2M433 345.5h3"/><path stroke="#264000" d="M110 221.5h1M110 230.5h1"/><path stroke="#268000" d="M666 203.5h1M665 204.5h1M665 205.5h1M665 206.5h1M665 207.5h1M665 208.5h1M665 209.5h1M665 210.5h1M665 211.5h1M665 212.5h1M665 213.5h1M665 214.5h1M666 215.5h1M727 216.5h1m8 0h1M723 244.5h2m21 0h1"/><path stroke="#26bf00" d="M0 210.5h31m4 0h57M0 211.5h31m4 0h57M0 212.5h31m4 0h56M0 213.5h31m4 0h43M59 214.5h20M78 215.5h2M78 216.5h2M78 217.5h2M78 218.5h2M59 219.5h20M58 220.5h19M57 221.5h1M57 222.5h1M57 223.5h1M57 224.5h1M57 225.5h1M57 226.5h1M57 227.5h1M57 228.5h1M57 229.5h1M57 230.5h1M57 231.5h1M57 232.5h1M57 233.5h1M57 234.5h1M57 235.5h1M57 236.5h1M57 237.5h1M57 238.5h1M57 239.5h1M57 240.5h1M55 241.5h3"/><path stroke="#280000" d="M620 35.5h1M620 36.5h1M620 37.5h1M620 38.5h1M433 79.5h4M433 80.5h4M433 81.5h4M433 82.5h4M25 183.5h1m1 0h1M88 269.5h6m8 0h3m463 0h6m13 0h7m6 0h3M88 270.5h6m8 0h3m463 0h6m13 0h7m6 0h3M699 377.5h1"/><path stroke="#284000" d="M334 150.5h3m51 0h3m51 0h3m51 0h3m51 0h2M334 151.5h3m51 0h3m51 0h3m51 0h3m51 0h2M142 209.5h16m159 0h13m3 0h1m58 0h7m95 0h13m6 0h7M142 210.5h16m159 0h13m3 0h1m58 0h7m95 0h13m6 0h7M110 222.5h1M110 223.5h1M110 224.5h1M110 225.5h1M110 226.5h1M110 227.5h1M110 228.5h1M110 229.5h1"/><path stroke="#288000" d="M667 203.5h1m9 0h22"/><path stroke="#28bf00" d="M58 214.5h1M59 215.5h19M58 216.5h20M58 217.5h20M58 218.5h20M58 219.5h1M57 220.5h1M56 221.5h1M56 222.5h1M56 223.5h1M56 224.5h1M56 225.5h1M56 226.5h1M56 227.5h1M56 228.5h1M56 229.5h1M56 230.5h1M56 231.5h1M56 232.5h1M56 233.5h1M56 234.5h1M56 235.5h1M56 236.5h1M56 237.5h1M56 238.5h1M56 239.5h1M56 240.5h1M46 241.5h9"/><path stroke="#2a0000" d="M616 35.5h1M616 36.5h1M616 37.5h1M616 38.5h1M390 186.5h4m5 0h3M700 376.5h4M700 377.5h4M699 385.5h5M699 386.5h5M699 387.5h5M699 388.5h5M699 389.5h5M699 390.5h5M699 391.5h5M699 392.5h5M699 393.5h5M699 394.5h5M699 395.5h5"/><path stroke="#2a4000" d="M60 149.5h3m57 0h3m57 0h3m57 0h3m56 0h3m199 0h2m106 0h3m57 0h3m57 0h3m56 0h3M60 150.5h3m57 0h3m57 0h3m57 0h3m56 0h3m199 0h2m106 0h3m57 0h3m57 0h3m56 0h3M61 151.5h2m56 0h1m1 0h2m56 0h1m1 0h2m56 0h1m1 0h2m57 0h2m198 0h1m1 0h1m105 0h1m1 0h2m56 0h1m1 0h2m56 0h1m1 0h2m57 0h2"/><path stroke="#2a8000" d="M668 203.5h9M666 204.5h1M666 205.5h1M666 206.5h1M666 207.5h1M666 208.5h1M666 209.5h1M666 210.5h1M666 211.5h1M666 212.5h1M666 213.5h1M666 214.5h1M667 215.5h32M748 216.5h1m7 0h1"/><path stroke="#2abf00" d="M58 215.5h1M57 216.5h1M57 217.5h1M57 218.5h1M56 220.5h1M54 221.5h2M54 222.5h2M54 223.5h2M54 224.5h2M54 225.5h2M54 226.5h2M54 227.5h2M54 228.5h2M54 229.5h2M54 230.5h2M54 231.5h2M54 232.5h2M54 233.5h2M54 234.5h2M54 235.5h2M54 236.5h2M54 237.5h2M54 238.5h2M54 239.5h2M54 240.5h2M0 241.5h46"/><path stroke="#2c0000" d="M34 262.5h2m3 0h1m83 0h2m19 0h1m12 0h2m10 0h4m6 0h3m99 0h1m16 0h4m7 0h3m25 0h2m11 0h5m3 0h1M34 263.5h2m3 0h1m83 0h2m19 0h1m12 0h2m10 0h4m6 0h3m168 0h5m3 0h1M81 272.5h3m256 0h10M81 273.5h3m256 0h10M700 366.5h6M700 367.5h6M700 368.5h6M700 369.5h1M700 370.5h1M700 371.5h1M700 372.5h1M700 373.5h1M700 374.5h1M700 375.5h1M704 376.5h2"/><path stroke="#2c4000" d="M120 151.5h1m59 0h1m59 0h1m260 0h1m107 0h1m59 0h1m59 0h1"/><path stroke="#2c8000" d="M667 204.5h1M667 205.5h1M667 206.5h1M667 207.5h1M667 208.5h1M667 209.5h1M667 210.5h1M667 211.5h1M667 212.5h1M667 213.5h1M667 214.5h1"/><path stroke="#2cbf00" d="M49 214.5h9M56 215.5h2M56 216.5h1M56 217.5h1M56 218.5h1M56 219.5h2M54 220.5h2M53 221.5h1M53 222.5h1M53 223.5h1M53 224.5h1M53 225.5h1M53 226.5h1M53 227.5h1M53 228.5h1M53 229.5h1M53 230.5h1M53 231.5h1M53 232.5h1M53 233.5h1M53 234.5h1M53 235.5h1M53 236.5h1M53 237.5h1M53 238.5h1M53 239.5h1M53 240.5h1"/><path stroke="#2e0000" d="M413 177.5h5M413 178.5h5M116 179.5h2m5 0h3m264 0h4m5 0h3M116 180.5h2m5 0h3m264 0h4m5 0h3M356 243.5h3m3 0h6m6 0h1M9 248.5h6m16 0h6M9 249.5h6m16 0h6M50 255.5h2m8 0h1m123 0h3m8 0h2m166 0h6m6 0h4m3 0h2m180 0h2M50 256.5h2m8 0h1m123 0h3m8 0h2m166 0h6m6 0h4m3 0h2m180 0h2M699 378.5h1m3 0h1M699 384.5h1m3 0h1"/><path stroke="#2e2000" d="M64 141.5h2m10 0h2m8 0h1m9 0h1m9 0h2m10 0h1m17 0h1m9 0h2"/><path stroke="#2e4000" d="M64 142.5h2m10 0h2m8 0h1m9 0h1m9 0h2m10 0h1m17 0h1m9 0h2M64 143.5h2m10 0h2m8 0h1m9 0h1m9 0h2m10 0h1m17 0h1m9 0h2M64 144.5h2m10 0h2m8 0h1m9 0h1m9 0h2m10 0h1m17 0h1m9 0h2"/><path stroke="#2e8000" d="M699 203.5h1M668 204.5h31M668 205.5h31M668 206.5h31M668 207.5h31M668 208.5h31M668 209.5h31M668 210.5h31M668 211.5h31M668 212.5h31M668 213.5h31M668 214.5h31M699 215.5h1M728 216.5h1m6 0h1"/><path stroke="#2e9f00" d="M34 208.5h1"/><path stroke="#2ebf00" d="M39 214.5h10M55 215.5h1M55 216.5h1M55 217.5h1M55 218.5h1M54 219.5h2M53 220.5h1M52 221.5h1M52 222.5h1M52 223.5h1M52 224.5h1M52 225.5h1M52 226.5h1M52 227.5h1M52 228.5h1M52 229.5h1M52 230.5h1M52 231.5h1M52 232.5h1M52 233.5h1M52 234.5h1M52 235.5h1M52 236.5h1M52 237.5h1M52 238.5h1M52 239.5h1M51 240.5h2"/><path stroke="#300000" d="M701 369.5h1M701 375.5h1M700 378.5h3M700 384.5h3"/><path stroke="#304000" d="M60 151.5h1m238 0h1m488 0h1M26 191.5h1M117 221.5h1M117 230.5h1M142 237.5h1"/><path stroke="#30bf00" d="M0 214.5h31m4 0h4M54 215.5h1M54 216.5h1M54 217.5h1M53 218.5h2M53 219.5h1M51 220.5h2M51 221.5h1M51 222.5h1M51 223.5h1M51 224.5h1M51 225.5h1M51 226.5h1M51 227.5h1M51 228.5h1M51 229.5h1M51 230.5h1M51 231.5h1M51 232.5h1M51 233.5h1M51 234.5h1M51 235.5h1M51 236.5h1M51 237.5h1M51 238.5h1M51 239.5h1M50 240.5h1"/><path stroke="#324000" d="M111 221.5h6M117 222.5h1M117 223.5h1M117 224.5h1M117 225.5h1M117 226.5h1M117 227.5h1M117 228.5h1M117 229.5h1M111 230.5h6"/><path stroke="#328000" d="M749 216.5h1m5 0h1M729 244.5h1"/><path stroke="#32bf00" d="M52 215.5h2M52 216.5h2M52 217.5h2M52 218.5h1M51 219.5h2M50 220.5h1M49 221.5h2M49 222.5h2M49 223.5h2M49 224.5h2M49 225.5h2M49 226.5h2M49 227.5h2M49 228.5h2M49 229.5h2M49 230.5h2M49 231.5h2M49 232.5h2M49 233.5h2M49 234.5h2M49 235.5h2M49 236.5h2M49 237.5h2M49 238.5h2M49 239.5h2M49 240.5h1"/><path stroke="#340000" d="M63 244.5h1m8 0h1m8 0h1m8 0h1m8 0h1m8 0h1m8 0h1m8 0h1m17 0h1m8 0h1m8 0h1m44 0h1m46 0h1m71 0h1m89 0h1m26 0h1m33 0h1m28 0h1M280 257.5h1m27 0h1m3 0h1"/><path stroke="#342000" d="M30 189.5h6m1 0h20m1 0h8m67 0h9m59 0h16m2 0h6m1 0h4m1 0h7m35 0h6m2 0h2m82 0h21m2 0h8m2 0h6m28 0h8m11 0h17m11 0h7m46 0h20m4 0h9m3 0h6m73 0h1m17 0h1m15 0h1m54 0h1m16 0h1m18 0h1"/><path stroke="#348000" d="M700 215.5h1M729 216.5h6m15 0h5"/><path stroke="#349f00" d="M32 208.5h2"/><path stroke="#34bf00" d="M51 215.5h1M51 216.5h1M51 217.5h1M51 218.5h1M50 219.5h1M49 220.5h1M48 221.5h1M48 222.5h1M48 223.5h1M48 224.5h1M48 225.5h1M48 226.5h1M48 227.5h1M48 228.5h1M48 229.5h1M48 230.5h1M48 231.5h1M48 232.5h1M48 233.5h1M48 234.5h1M48 235.5h1M48 236.5h1M48 237.5h1M48 238.5h1M48 239.5h1M47 240.5h2"/><path stroke="#360000" d="M617 35.5h1M617 38.5h1M26 183.5h1M58 245.5h1M58 246.5h1M58 247.5h1M58 248.5h1M436 342.5h1M436 343.5h1M436 344.5h1"/><path stroke="#364000" d="M58 152.5h3m57 0h2m58 0h2m57 0h3m57 0h3m199 0h2m106 0h2m58 0h2m58 0h2m57 0h3M58 153.5h3m57 0h2m58 0h2m57 0h3m57 0h3m199 0h2m106 0h2m58 0h2m58 0h2m57 0h3M58 154.5h3m57 0h2m58 0h2m57 0h3m57 0h3m199 0h2m106 0h2m58 0h2m58 0h2m57 0h3M111 222.5h6M111 223.5h6M111 224.5h6M111 225.5h6M111 226.5h6M111 227.5h6M111 228.5h6M111 229.5h6"/><path stroke="#368000" d="M704 203.5h23m10 0h11m9 0h85M699 204.5h1M699 205.5h1M699 206.5h1M699 207.5h1M699 208.5h1M699 209.5h1M699 210.5h1M699 211.5h1M699 212.5h1M699 213.5h1M699 214.5h1M701 215.5h26m10 0h11m9 0h85"/><path stroke="#36bf00" d="M50 215.5h1M50 216.5h1M50 217.5h1M50 218.5h1M49 219.5h1M48 220.5h1M47 221.5h1M47 222.5h1M47 223.5h1M47 224.5h1M47 225.5h1M47 226.5h1M47 227.5h1M47 228.5h1M47 229.5h1M47 230.5h1M47 231.5h1M47 232.5h1M47 233.5h1M47 234.5h1M47 235.5h1M47 236.5h1M47 237.5h1M47 238.5h1M47 239.5h1M0 240.5h47"/><path stroke="#370000" d="M618 35.5h2M618 38.5h2M398 181.5h1m3 0h1M281 257.5h1m16 0h4m7 0h3m25 0h2M94 274.5h1m6 0h1m3 0h1M699 379.5h5M699 380.5h5M699 381.5h5M699 382.5h5M699 383.5h5"/><path stroke="#372000" d="M648 189.5h9m9 0h15m17 0h16m15 0h7m18 0h18m11 0h8m37 0h14"/><path stroke="#378000" d="M701 203.5h3m23 0h1m8 0h1"/><path stroke="#37bf00" d="M48 215.5h2M49 216.5h1M49 217.5h1M49 218.5h1M48 219.5h1M46 220.5h2M0 221.5h47M0 222.5h47M0 223.5h47M0 224.5h47M0 225.5h47M0 226.5h47M0 227.5h47M0 228.5h47M0 229.5h47M0 230.5h47M0 231.5h47M0 232.5h47M0 233.5h47M0 234.5h47M0 235.5h47M0 236.5h47M0 237.5h47M0 238.5h47M0 239.5h47"/><path stroke="#390000" d="M118 181.5h1m7 0h1M594 274.5h1m8 0h1M701 370.5h1M701 371.5h1M701 372.5h1M701 373.5h1M701 374.5h1"/><path stroke="#394000" d="M136 237.5h2"/><path stroke="#398000" d="M700 203.5h1M727 215.5h1m8 0h1"/><path stroke="#39bf00" d="M47 215.5h1M48 216.5h1M48 217.5h1M48 218.5h1M47 219.5h1M0 220.5h31m4 0h11"/><path stroke="#3b0000" d="M617 36.5h3M617 37.5h3M56 245.5h2M56 246.5h2M56 247.5h2M56 248.5h2M571 274.5h3M702 369.5h4M702 375.5h4"/><path stroke="#3b4000" d="M134 237.5h2"/><path stroke="#3bbf00" d="M40 215.5h7M47 216.5h1M47 217.5h1M47 218.5h1M40 219.5h7"/><path stroke="#3d0000" d="M413 179.5h5M116 181.5h2m5 0h3m264 0h4m5 0h3M88 274.5h6m8 0h3m463 0h3m16 0h7m8 0h1"/><path stroke="#3d4000" d="M301 242.5h1M8 243.5h1m6 0h1m14 0h1m6 0h1"/><path stroke="#3d8000" d="M748 203.5h1m7 0h1"/><path stroke="#3dbf00" d="M31 209.5h1M40 216.5h7M40 217.5h7M40 218.5h7"/><path stroke="#3f0000" d="M600 274.5h2"/><path stroke="#3f4000" d="M301 237.5h1M301 238.5h1M301 239.5h1M301 240.5h1M301 241.5h1"/><path stroke="#3f8000" d="M700 204.5h27m10 0h11m9 0h85M700 205.5h27m10 0h11m9 0h85M700 206.5h27m10 0h11m9 0h85M700 207.5h27m10 0h11m9 0h85M700 208.5h27m10 0h11m9 0h85M700 209.5h27m10 0h11m9 0h85M700 210.5h27m10 0h11m9 0h85M700 211.5h27m10 0h11m9 0h85M700 212.5h27m10 0h11m9 0h85M700 213.5h27m10 0h11m9 0h85M700 214.5h27m10 0h11m9 0h85"/><path stroke="#3fbf00" d="M0 219.5h31m4 0h5"/><path stroke="#414000" d="M9 243.5h6m16 0h6"/><path stroke="#418000" d="M727 204.5h1m8 0h1M727 205.5h1m8 0h1M727 206.5h1m8 0h1M727 207.5h1m8 0h1M727 208.5h1m8 0h1M727 209.5h1m8 0h1M727 210.5h1m8 0h1M727 211.5h1m8 0h1M727 212.5h1m8 0h1M727 213.5h1m8 0h1M727 214.5h1m8 0h1M748 215.5h1m7 0h1"/><path stroke="#41bf00" d="M31 210.5h1M31 211.5h1M31 212.5h1M31 213.5h1M0 215.5h31m4 0h5M31 220.5h1"/><path stroke="#430000" d="M280 258.5h1m27 0h1m3 0h1M280 259.5h1m27 0h1m3 0h1M280 260.5h1m27 0h1m3 0h1M280 261.5h1m27 0h1m3 0h1"/><path stroke="#434000" d="M288 237.5h4m10 0h5M288 238.5h4m10 0h5M288 239.5h4m10 0h5M288 240.5h4m10 0h5M288 241.5h4m10 0h5M288 242.5h4m10 0h5"/><path stroke="#43bf00" d="M39 216.5h1M39 217.5h1M0 218.5h31m4 0h5"/><path stroke="#450000" d="M398 182.5h1m3 0h1M398 183.5h1m3 0h1M398 184.5h1m3 0h1M25 187.5h1m1 0h1M25 188.5h1m1 0h1"/><path stroke="#458000" d="M728 203.5h1m6 0h1"/><path stroke="#45bf00" d="M0 216.5h31m4 0h4M0 217.5h31m4 0h4M34 220.5h1"/><path stroke="#470000" d="M25 184.5h1m1 0h1m90 0h1m7 0h1M25 185.5h1m1 0h1m90 0h1m7 0h1m271 0h1m3 0h1M25 186.5h1m1 0h1"/><path stroke="#472000" d="M25 189.5h1m1 0h1"/><path stroke="#474000" d="M25 190.5h1m1 0h1M141 238.5h1M141 239.5h1M141 240.5h1M141 241.5h1"/><path stroke="#478000" d="M749 203.5h1m5 0h1M763 243.5h2m23 0h2m7 0h2m27 0h2m5 0h2"/><path stroke="#47bf00" d="M32 220.5h2"/><path stroke="#490000" d="M118 182.5h1m7 0h1M118 183.5h1m7 0h1M281 258.5h1m16 0h4m7 0h3m25 0h2M281 259.5h1m16 0h4m7 0h3m25 0h2M281 260.5h1m16 0h4m7 0h3m25 0h2M281 261.5h1m16 0h4m7 0h3m25 0h2M432 341.5h1"/><path stroke="#498000" d="M729 203.5h6m15 0h5M748 204.5h1m7 0h1M748 205.5h1m7 0h1M748 206.5h1m7 0h1M748 207.5h1m7 0h1M748 208.5h1m7 0h1M748 209.5h1m7 0h1M748 210.5h1m7 0h1M748 211.5h1m7 0h1M748 212.5h1m7 0h1M748 213.5h1m7 0h1M748 214.5h1m7 0h1M740 243.5h2"/><path stroke="#4b0000" d="M705 370.5h1M705 371.5h1M705 372.5h1M705 373.5h1M705 374.5h1"/><path stroke="#4b8000" d="M728 215.5h1m6 0h1M746 243.5h1m5 0h1m5 0h1m10 0h1m5 0h1m6 0h1m20 0h1"/><path stroke="#4c0000" d="M413 180.5h5M413 181.5h5M116 182.5h2m5 0h3m264 0h4m5 0h3m11 0h5M116 183.5h2m5 0h3m264 0h4m5 0h3m11 0h5M26 184.5h1m89 0h2m5 0h3m264 0h4m5 0h3m11 0h5M26 185.5h1m89 0h2m5 0h3m264 0h4m5 0h3m11 0h5M26 186.5h1M26 187.5h1M26 188.5h1M433 341.5h3M702 370.5h3M702 371.5h3M702 372.5h3M702 373.5h3M702 374.5h3"/><path stroke="#4c2000" d="M26 189.5h1"/><path stroke="#4c4000" d="M26 190.5h1M142 238.5h1M142 239.5h1M142 240.5h1M142 241.5h1"/><path stroke="#4c8000" d="M723 242.5h2m9 0h2m4 0h2m21 0h2m23 0h2m7 0h2m27 0h2m5 0h2M723 243.5h2m9 0h2"/><path stroke="#4cbf00" d="M31 214.5h1"/><path stroke="#4e0000" d="M103 243.5h2m7 0h2m7 0h2m7 0h2m7 0h2m7 0h2m7 0h2m10 0h2m22 0h2m25 0h2m14 0h2m75 0h2m68 0h2m187 0h2m15 0h2"/><path stroke="#4e2000" d="M94 243.5h2"/><path stroke="#4e4000" d="M103 242.5h2m7 0h2m7 0h2m7 0h2m7 0h2m7 0h2m7 0h2m10 0h2m22 0h2m25 0h2m14 0h2m75 0h2m68 0h2m187 0h2m15 0h2M67 243.5h2m7 0h2m7 0h2"/><path stroke="#4e6000" d="M95 242.5h1"/><path stroke="#4e8000" d="M728 204.5h1m6 0h1M728 205.5h1m6 0h1M728 206.5h1m6 0h1M728 207.5h1m6 0h1M728 208.5h1m6 0h1M728 209.5h1m6 0h1M728 210.5h1m6 0h1M728 211.5h1m6 0h1M728 212.5h1m6 0h1M728 213.5h1m6 0h1M728 214.5h1m6 0h1M94 242.5h1"/><path stroke="#4ebf00" d="M67 242.5h2m7 0h2m7 0h2"/><path stroke="#500000" d="M29 187.5h1m27 0h1m74 0h1m92 0h1m4 0h1m41 0h1m6 0h2m2 0h1m102 0h2m8 0h2m33 0h1m8 0h1m45 0h1m44 0h1m33 0h1m1 0h1m79 0h1m17 0h1m15 0h1m54 0h1m16 0h1m18 0h1M29 188.5h1m27 0h1m74 0h1m92 0h1m4 0h1m41 0h1m6 0h2m2 0h1m102 0h2m8 0h2m33 0h1m8 0h1m45 0h1m44 0h1m33 0h1m1 0h1m79 0h1m17 0h1m15 0h1m54 0h1m16 0h1m18 0h1M52 257.5h1m326 0h1"/><path stroke="#508000" d="M729 215.5h6m14 0h7M729 242.5h1m16 0h1m5 0h1m5 0h1m10 0h1m5 0h1m6 0h1m20 0h1M729 243.5h1"/><path stroke="#528000" d="M729 204.5h6m14 0h7M729 205.5h6m14 0h7M729 206.5h6m14 0h7M729 207.5h6m14 0h7M729 208.5h6m14 0h7M729 209.5h6m14 0h7M729 210.5h6m14 0h7M729 211.5h6m14 0h7M729 212.5h6m14 0h7M729 213.5h6m14 0h7M729 214.5h6m14 0h7"/><path stroke="#52bf00" d="M31 219.5h1"/><path stroke="#560000" d="M99 243.5h1m8 0h1m8 0h1m8 0h1m17 0h1m8 0h1m8 0h1m44 0h1m46 0h1m71 0h1m89 0h1m26 0h1m33 0h1m28 0h1"/><path stroke="#564000" d="M99 242.5h1m8 0h1m8 0h1m8 0h1m17 0h1m8 0h1m8 0h1m44 0h1m46 0h1m71 0h1m89 0h1m26 0h1m33 0h1m28 0h1M63 243.5h1m8 0h1m8 0h1m8 0h1"/><path stroke="#56bf00" d="M63 242.5h1m8 0h1m8 0h1m8 0h1"/><path stroke="#580000" d="M30 187.5h6m1 0h20m1 0h8m67 0h9m59 0h16m2 0h6m1 0h4m1 0h7m35 0h6m2 0h2m82 0h21m2 0h8m2 0h6m28 0h8m11 0h17m11 0h7m46 0h20m4 0h9m3 0h6m74 0h9m9 0h15m17 0h16m15 0h7m18 0h18m11 0h8m37 0h14M30 188.5h6m1 0h20m1 0h8m67 0h9m59 0h16m2 0h6m1 0h4m1 0h7m35 0h6m2 0h2m82 0h21m2 0h8m2 0h6m28 0h8m11 0h17m11 0h7m46 0h20m4 0h9m3 0h6M355 244.5h1m17 0h1m1 0h1M50 257.5h2m8 0h1m123 0h3m8 0h2m166 0h6m6 0h4m3 0h2m180 0h2"/><path stroke="#5a0000" d="M648 188.5h9m9 0h15m17 0h16m15 0h7m18 0h18m11 0h8m37 0h14M8 245.5h1m6 0h1m14 0h1m6 0h1M8 246.5h1m6 0h1m14 0h1m6 0h1M8 247.5h1m6 0h1m14 0h1m6 0h1M432 342.5h1M432 343.5h1M432 344.5h1"/><path stroke="#5abf00" d="M34 209.5h1"/><path stroke="#5c0000" d="M8 244.5h1m6 0h1m14 0h1m6 0h1"/><path stroke="#5e0000" d="M433 342.5h3M433 343.5h3M433 344.5h3"/><path stroke="#5e4000" d="M134 238.5h4M134 239.5h4M134 240.5h4M134 241.5h4"/><path stroke="#5ebf00" d="M32 209.5h2"/><path stroke="#600000" d="M94 271.5h1m6 0h1m3 0h1m488 0h1m8 0h1M94 272.5h1m6 0h1m3 0h1m488 0h1m8 0h1M94 273.5h1m6 0h1m3 0h1m488 0h1m8 0h1"/><path stroke="#60bf00" d="M34 210.5h1M34 211.5h1M34 212.5h1M34 213.5h1"/><path stroke="#620000" d="M356 244.5h3m3 0h6m6 0h1"/><path stroke="#62bf00" d="M32 219.5h3"/><path stroke="#630000" d="M9 244.5h6m16 0h6M9 245.5h6m16 0h6M9 246.5h6m16 0h6M9 247.5h6m16 0h6"/><path stroke="#63bf00" d="M32 210.5h2M32 211.5h2M32 212.5h2M32 213.5h2M31 215.5h1M31 218.5h1"/><path stroke="#65bf00" d="M31 216.5h1M31 217.5h1"/><path stroke="#670000" d="M88 271.5h6m8 0h3m463 0h6m13 0h7m6 0h3M88 272.5h6m8 0h3m463 0h6m13 0h7m6 0h3M88 273.5h6m8 0h3m463 0h6m13 0h7m6 0h3"/><path stroke="#67bf00" d="M34 214.5h1"/><path stroke="#69bf00" d="M32 214.5h2"/><path stroke="#770000" d="M52 258.5h1m326 0h1M52 259.5h1m326 0h1M52 260.5h1m326 0h1M52 261.5h1m326 0h1M52 262.5h1m326 0h1"/><path stroke="#774000" d="M63 145.5h1m21 0h1m1 0h1m7 0h1m23 0h1m15 0h1m1 0h1m7 0h1M63 146.5h1m21 0h1m1 0h1m7 0h1m23 0h1m15 0h1m1 0h1m7 0h1"/><path stroke="#78bf00" d="M34 218.5h1"/><path stroke="#7abf00" d="M32 218.5h2"/><path stroke="#7cbf00" d="M34 215.5h1M34 216.5h1M34 217.5h1"/><path stroke="#7ebf00" d="M32 215.5h2M32 216.5h2M32 217.5h2"/><path stroke="#820000" d="M50 258.5h2m8 0h1m123 0h3m8 0h2m166 0h6m6 0h4m3 0h2m180 0h2M50 259.5h2m8 0h1m123 0h3m8 0h2m166 0h6m6 0h4m3 0h2m180 0h2M50 260.5h2m8 0h1m123 0h3m8 0h2m166 0h6m6 0h4m3 0h2m180 0h2M50 261.5h2m8 0h1m123 0h3m8 0h2m166 0h6m6 0h4m3 0h2m180 0h2M50 262.5h2m8 0h1m123 0h3m8 0h2m166 0h6m6 0h4m3 0h2m180 0h2"/><path stroke="#824000" d="M64 145.5h2m10 0h2m8 0h1m9 0h1m9 0h2m10 0h1m17 0h1m9 0h2M64 146.5h2m10 0h2m8 0h1m9 0h1m9 0h2m10 0h1m17 0h1m9 0h2"/><path stroke="#880000" d="M355 245.5h1m17 0h1m1 0h1M355 246.5h1m17 0h1m1 0h1M355 247.5h1m17 0h1m1 0h1M355 248.5h1m17 0h1m1 0h1M355 249.5h1m17 0h1m1 0h1"/><path stroke="#8c4000" d="M63 147.5h1m21 0h1m1 0h1m7 0h1m23 0h1m15 0h1m1 0h1m7 0h1M63 148.5h1m21 0h1m1 0h1m7 0h1m23 0h1m15 0h1m1 0h1m7 0h1M63 149.5h1m21 0h1m1 0h1m7 0h1m39 0h1m1 0h1m7 0h1M63 150.5h1m21 0h1m1 0h1m7 0h1m39 0h1m1 0h1m7 0h1"/><path stroke="#8e4000" d="M119 149.5h1M119 150.5h1"/><path stroke="#950000" d="M356 245.5h3m3 0h6m6 0h1M356 246.5h3m3 0h6m6 0h1M356 247.5h3m3 0h6m6 0h1M356 248.5h3m3 0h6m6 0h1M356 249.5h3m3 0h6m6 0h1"/><path stroke="#994000" d="M64 147.5h2m10 0h2m8 0h1m9 0h1m9 0h2m10 0h1m17 0h1m9 0h2M64 148.5h2m10 0h2m8 0h1m9 0h1m9 0h2m10 0h1m17 0h1m9 0h2M64 149.5h2m10 0h2m8 0h1m9 0h1m9 0h2m10 0h1m17 0h1m9 0h2M64 150.5h2m10 0h2m8 0h1m9 0h1m9 0h2m10 0h1m17 0h1m9 0h2"/></g></g></g><rect x="121.45" y="51.4" width="1674.0" height="923.9" fill="none" stroke="#000" stroke-width="1.2"/><path d="M115.8 903.48H121.45" stroke="#000" stroke-width="1.2"/><text x="107.7" y="914.78" font-size="30.7" text-anchor="end" textLength="37.0" lengthAdjust="spacingAndGlyphs">60</text><path d="M115.8 800.73H121.45" stroke="#000" stroke-width="1.2"/><text x="107.7" y="812.03" font-size="30.7" text-anchor="end" textLength="37.0" lengthAdjust="spacingAndGlyphs">80</text><path d="M115.8 697.98H121.45" stroke="#000" stroke-width="1.2"/><text x="107.7" y="709.28" font-size="30.7" text-anchor="end" textLength="55.5" lengthAdjust="spacingAndGlyphs">100</text><path d="M115.8 595.23H121.45" stroke="#000" stroke-width="1.2"/><text x="107.7" y="606.53" font-size="30.7" text-anchor="end" textLength="55.5" lengthAdjust="spacingAndGlyphs">120</text><path d="M115.8 492.48H121.45" stroke="#000" stroke-width="1.2"/><text x="107.7" y="503.78" font-size="30.7" text-anchor="end" textLength="55.5" lengthAdjust="spacingAndGlyphs">140</text><path d="M115.8 389.73H121.45" stroke="#000" stroke-width="1.2"/><text x="107.7" y="401.03" font-size="30.7" text-anchor="end" textLength="55.5" lengthAdjust="spacingAndGlyphs">160</text><path d="M115.8 286.98H121.45" stroke="#000" stroke-width="1.2"/><text x="107.7" y="298.28" font-size="30.7" text-anchor="end" textLength="55.5" lengthAdjust="spacingAndGlyphs">180</text><path d="M115.8 184.23H121.45" stroke="#000" stroke-width="1.2"/><text x="107.7" y="195.53" font-size="30.7" text-anchor="end" textLength="55.5" lengthAdjust="spacingAndGlyphs">200</text><path d="M115.8 81.48H121.45" stroke="#000" stroke-width="1.2"/><text x="107.7" y="92.78" font-size="30.7" text-anchor="end" textLength="55.5" lengthAdjust="spacingAndGlyphs">220</text><path d="M121.45 975.3V981" stroke="#000" stroke-width="1.2"/><text x="120.65" y="1009.5" font-size="31" text-anchor="middle" textLength="84.4" lengthAdjust="spacingAndGlyphs">19:00</text><path d="M233.03 975.3V981" stroke="#000" stroke-width="1.2"/><text x="232.22" y="1009.5" font-size="31" text-anchor="middle" textLength="84.4" lengthAdjust="spacingAndGlyphs">19:01</text><path d="M344.60 975.3V981" stroke="#000" stroke-width="1.2"/><text x="343.80" y="1009.5" font-size="31" text-anchor="middle" textLength="84.4" lengthAdjust="spacingAndGlyphs">19:02</text><path d="M456.18 975.3V981" stroke="#000" stroke-width="1.2"/><text x="455.38" y="1009.5" font-size="31" text-anchor="middle" textLength="84.4" lengthAdjust="spacingAndGlyphs">19:03</text><path d="M567.75 975.3V981" stroke="#000" stroke-width="1.2"/><text x="566.95" y="1009.5" font-size="31" text-anchor="middle" textLength="84.4" lengthAdjust="spacingAndGlyphs">19:04</text><path d="M679.33 975.3V981" stroke="#000" stroke-width="1.2"/><text x="678.53" y="1009.5" font-size="31" text-anchor="middle" textLength="84.4" lengthAdjust="spacingAndGlyphs">19:05</text><path d="M790.90 975.3V981" stroke="#000" stroke-width="1.2"/><text x="790.10" y="1009.5" font-size="31" text-anchor="middle" textLength="84.4" lengthAdjust="spacingAndGlyphs">19:06</text><path d="M902.48 975.3V981" stroke="#000" stroke-width="1.2"/><text x="901.68" y="1009.5" font-size="31" text-anchor="middle" textLength="84.4" lengthAdjust="spacingAndGlyphs">19:07</text><path d="M1014.05 975.3V981" stroke="#000" stroke-width="1.2"/><text x="1013.25" y="1009.5" font-size="31" text-anchor="middle" textLength="84.4" lengthAdjust="spacingAndGlyphs">19:08</text><path d="M1125.62 975.3V981" stroke="#000" stroke-width="1.2"/><text x="1124.83" y="1009.5" font-size="31" text-anchor="middle" textLength="84.4" lengthAdjust="spacingAndGlyphs">19:09</text><path d="M1237.20 975.3V981" stroke="#000" stroke-width="1.2"/><text x="1236.40" y="1009.5" font-size="31" text-anchor="middle" textLength="84.4" lengthAdjust="spacingAndGlyphs">19:10</text><path d="M1348.78 975.3V981" stroke="#000" stroke-width="1.2"/><text x="1347.98" y="1009.5" font-size="31" text-anchor="middle" textLength="84.4" lengthAdjust="spacingAndGlyphs">19:11</text><path d="M1460.35 975.3V981" stroke="#000" stroke-width="1.2"/><text x="1459.55" y="1009.5" font-size="31" text-anchor="middle" textLength="84.4" lengthAdjust="spacingAndGlyphs">19:12</text><path d="M1571.93 975.3V981" stroke="#000" stroke-width="1.2"/><text x="1571.13" y="1009.5" font-size="31" text-anchor="middle" textLength="84.4" lengthAdjust="spacingAndGlyphs">19:13</text><path d="M1683.50 975.3V981" stroke="#000" stroke-width="1.2"/><text x="1682.70" y="1009.5" font-size="31" text-anchor="middle" textLength="84.4" lengthAdjust="spacingAndGlyphs">19:14</text><text x="318.5" y="41.4" font-size="39" textLength="211.3" lengthAdjust="spacingAndGlyphs">2026/01/22</text><text x="554.0" y="41.4" font-size="39" textLength="341.5" lengthAdjust="spacingAndGlyphs">Radio flux density,</text><text x="906.0" y="41.4" font-size="39" textLength="415.0" lengthAdjust="spacingAndGlyphs">e-CALLISTO (MEXART),</text><text x="1332.5" y="41.4" font-size="39" textLength="263.3" lengthAdjust="spacingAndGlyphs">Focuscode: 59</text><text x="762.2" y="1048.7" font-size="34.8" textLength="391" lengthAdjust="spacingAndGlyphs">Observation time [UTC]</text><text transform="translate(36.9 653.4) rotate(-90)" x="0" y="0" font-size="35.2" textLength="279.5" lengthAdjust="spacingAndGlyphs">Frequency [MHz]</text><rect x="1935.67" y="27.54" width="42.70" height="959.86" fill="url(#cb)" stroke="#000" stroke-width="1.2"/><path d="M1978.37 987.40h5.5" stroke="#000" stroke-width="1.1"/><text x="1992.2" y="993.20" font-size="16.8" textLength="22.0" lengthAdjust="spacingAndGlyphs">−2</text><path d="M1978.37 874.48h5.5" stroke="#000" stroke-width="1.1"/><text x="1990.6" y="880.28" font-size="16.8" textLength="10.0" lengthAdjust="spacingAndGlyphs">0</text><path d="M1978.37 761.55h5.5" stroke="#000" stroke-width="1.1"/><text x="1990.6" y="767.35" font-size="16.8" textLength="10.0" lengthAdjust="spacingAndGlyphs">2</text><path d="M1978.37 648.63h5.5" stroke="#000" stroke-width="1.1"/><text x="1990.6" y="654.43" font-size="16.8" textLength="10.0" lengthAdjust="spacingAndGlyphs">4</text><path d="M1978.37 535.70h5.5" stroke="#000" stroke-width="1.1"/><text x="1990.6" y="541.50" font-size="16.8" textLength="10.0" lengthAdjust="spacingAndGlyphs">6</text><path d="M1978.37 422.78h5.5" stroke="#000" stroke-width="1.1"/><text x="1990.6" y="428.58" font-size="16.8" textLength="10.0" lengthAdjust="spacingAndGlyphs">8</text><path d="M1978.37 309.85h5.5" stroke="#000" stroke-width="1.1"/><text x="1990.6" y="315.65" font-size="16.8" textLength="20.0" lengthAdjust="spacingAndGlyphs">10</text><path d="M1978.37 196.93h5.5" stroke="#000" stroke-width="1.1"/><text x="1990.6" y="202.73" font-size="16.8" textLength="20.0" lengthAdjust="spacingAndGlyphs">12</text><path d="M1978.37 84.00h5.5" stroke="#000" stroke-width="1.1"/><text x="1990.6" y="89.80" font-size="16.8" textLength="20.0" lengthAdjust="spacingAndGlyphs">14</text><text transform="translate(2045.9 689.2) rotate(-90)" x="0" y="0" font-size="35.5" textLength="363.2" lengthAdjust="spacingAndGlyphs">dB above background</text></svg></body></html>
